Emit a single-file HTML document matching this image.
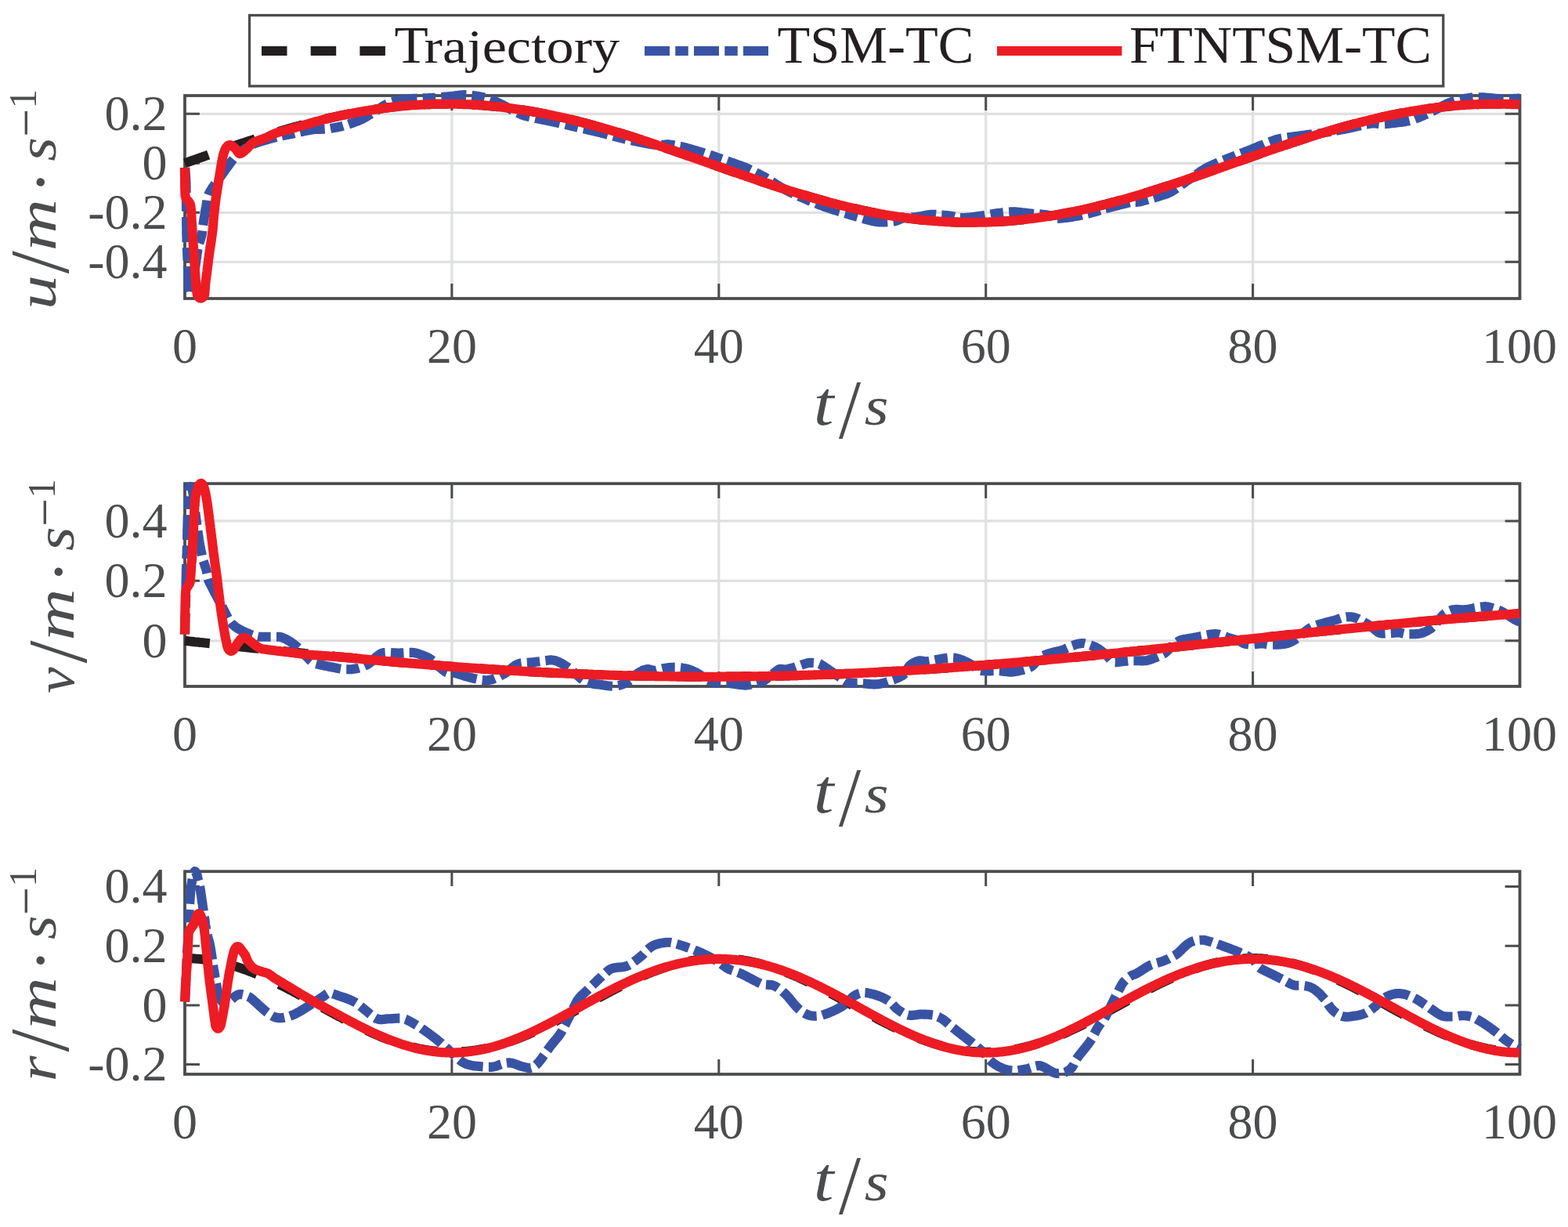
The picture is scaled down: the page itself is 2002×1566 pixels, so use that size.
<!DOCTYPE html>
<html lang="en">
<head>
<meta charset="utf-8">
<title>Velocity tracking: Trajectory, TSM-TC, FTNTSM-TC</title>
<style>
html,body{margin:0;padding:0;background:#fff;}
body{width:2002px;height:1566px;overflow:hidden;}
svg{display:block;}
text{white-space:pre;}
</style>
</head>
<body>
<svg xmlns="http://www.w3.org/2000/svg" width="2002" height="1566" viewBox="0 0 2002 1566">
<rect width="2002" height="1566" fill="#fff"/>
<g id="ax0">
<path d="M236.0,145.3 H1940.5 M236.0,208.3 H1940.5 M236.0,271.3 H1940.5 M236.0,334.3 H1940.5 M576.9,122.0 V381.0 M917.8,122.0 V381.0 M1258.7,122.0 V381.0 M1599.6,122.0 V381.0" fill="none" stroke="#dfe0e1" stroke-width="3.2"/>
<path d="M236.0,145.3 h18.9 M1940.5,145.3 h-18.9 M236.0,208.3 h18.9 M1940.5,208.3 h-18.9 M236.0,271.3 h18.9 M1940.5,271.3 h-18.9 M236.0,334.3 h18.9 M1940.5,334.3 h-18.9 M576.9,122.0 v18.9 M576.9,381.0 v-18.9 M917.8,122.0 v18.9 M917.8,381.0 v-18.9 M1258.7,122.0 v18.9 M1258.7,381.0 v-18.9 M1599.6,122.0 v18.9 M1599.6,381.0 v-18.9" fill="none" stroke="#4b4c4e" stroke-width="3.0"/>
<rect x="236.0" y="122.0" width="1704.5" height="259.0" fill="none" stroke="#4b4c4e" stroke-width="3.8"/>
<path d="M236.0,208.3 L238.1,207.5 L240.3,206.8 L242.4,206.0 L244.5,205.3 L246.7,204.5 L248.8,203.8 L250.9,203.0 L253.0,202.3 L255.2,201.5 L257.3,200.8 L259.4,200.0 L261.6,199.2 L263.7,198.5 L265.8,197.8 L268.0,197.0 L270.1,196.3 L272.2,195.5 L274.4,194.8 L276.5,194.0 L278.6,193.3 L280.7,192.5 L282.9,191.8 L285.0,191.1 L287.1,190.3 L289.3,189.6 L291.4,188.9 L293.5,188.1 L295.7,187.4 L297.8,186.7 L299.9,186.0 L302.0,185.2 L304.2,184.5 L306.3,183.8 L308.4,183.1 L310.6,182.4 L312.7,181.7 L314.8,181.0 L317.0,180.3 L319.1,179.6 L321.2,178.9 L323.4,178.2 L325.5,177.5 L327.6,176.8 L329.7,176.1 L331.9,175.4 L334.0,174.7 L336.1,174.1 L338.3,173.4 L340.4,172.7 L342.5,172.1 L344.7,171.4 L346.8,170.7 L348.9,170.1 L351.1,169.4 L353.2,168.8 L355.3,168.1 L357.4,167.5 L359.6,166.9 L361.7,166.2 L363.8,165.6 L366.0,165.0 L368.1,164.4 L370.2,163.8 L372.4,163.2 L374.5,162.5 L376.6,161.9 L378.8,161.4 L380.9,160.8 L383.0,160.2 L385.1,159.6 L387.3,159.0 L389.4,158.5 L391.5,157.9 L393.7,157.3 L395.8,156.8 L397.9,156.2 L400.1,155.7 L402.2,155.1 L404.3,154.6 L406.5,154.1 L408.6,153.5 L410.7,153.0 L412.8,152.5 L415.0,152.0 L417.1,151.5 L419.2,151.0 L421.4,150.5 L423.5,150.0 L425.6,149.6 L427.8,149.1 L429.9,148.6 L432.0,148.2 L434.1,147.7 L436.3,147.2 L438.4,146.8 L440.5,146.4 L442.7,145.9 L444.8,145.5 L446.9,145.1 L449.1,144.7 L451.2,144.3 L453.3,143.9 L455.5,143.5 L457.6,143.1 L459.7,142.7 L461.8,142.3 L464.0,142.0 L466.1,141.6 L468.2,141.3 L470.4,140.9 L472.5,140.6 L474.6,140.3 L476.8,139.9 L478.9,139.6 L481.0,139.3 L483.2,139.0 L485.3,138.7 L487.4,138.4 L489.5,138.1 L491.7,137.8 L493.8,137.6 L495.9,137.3 L498.1,137.0 L500.2,136.8 L502.3,136.6 L504.5,136.3 L506.6,136.1 L508.7,135.9 L510.9,135.7 L513.0,135.5 L515.1,135.3 L517.2,135.1 L519.4,134.9 L521.5,134.7 L523.6,134.5 L525.8,134.4 L527.9,134.2 L530.0,134.1 L532.2,133.9 L534.3,133.8 L536.4,133.7 L538.5,133.6 L540.7,133.4 L542.8,133.3 L544.9,133.3 L547.1,133.2 L549.2,133.1 L551.3,133.0 L553.5,132.9 L555.6,132.9 L557.7,132.8 L559.9,132.8 L562.0,132.8 L564.1,132.7 L566.2,132.7 L568.4,132.7 L570.5,132.7 L572.6,132.7 L574.8,132.7 L576.9,132.7 L579.0,132.8 L581.2,132.8 L583.3,132.8 L585.4,132.9 L587.6,132.9 L589.7,133.0 L591.8,133.1 L593.9,133.2 L596.1,133.2 L598.2,133.3 L600.3,133.4 L602.5,133.5 L604.6,133.7 L606.7,133.8 L608.9,133.9 L611.0,134.0 L613.1,134.2 L615.3,134.3 L617.4,134.5 L619.5,134.7 L621.6,134.9 L623.8,135.0 L625.9,135.2 L628.0,135.4 L630.2,135.6 L632.3,135.8 L634.4,136.1 L636.6,136.3 L638.7,136.5 L640.8,136.8 L642.9,137.0 L645.1,137.3 L647.2,137.5 L649.3,137.8 L651.5,138.1 L653.6,138.4 L655.7,138.6 L657.9,138.9 L660.0,139.2 L662.1,139.6 L664.3,139.9 L666.4,140.2 L668.5,140.5 L670.6,140.9 L672.8,141.2 L674.9,141.6 L677.0,141.9 L679.2,142.3 L681.3,142.7 L683.4,143.0 L685.6,143.4 L687.7,143.8 L689.8,144.2 L692.0,144.6 L694.1,145.0 L696.2,145.4 L698.3,145.9 L700.5,146.3 L702.6,146.7 L704.7,147.2 L706.9,147.6 L709.0,148.1 L711.1,148.5 L713.3,149.0 L715.4,149.5 L717.5,150.0 L719.7,150.4 L721.8,150.9 L723.9,151.4 L726.0,151.9 L728.2,152.4 L730.3,152.9 L732.4,153.5 L734.6,154.0 L736.7,154.5 L738.8,155.0 L741.0,155.6 L743.1,156.1 L745.2,156.7 L747.4,157.2 L749.5,157.8 L751.6,158.4 L753.7,158.9 L755.9,159.5 L758.0,160.1 L760.1,160.7 L762.3,161.3 L764.4,161.9 L766.5,162.5 L768.7,163.1 L770.8,163.7 L772.9,164.3 L775.0,164.9 L777.2,165.5 L779.3,166.1 L781.4,166.8 L783.6,167.4 L785.7,168.0 L787.8,168.7 L790.0,169.3 L792.1,170.0 L794.2,170.6 L796.4,171.3 L798.5,171.9 L800.6,172.6 L802.7,173.3 L804.9,174.0 L807.0,174.6 L809.1,175.3 L811.3,176.0 L813.4,176.7 L815.5,177.4 L817.7,178.1 L819.8,178.7 L821.9,179.4 L824.1,180.1 L826.2,180.8 L828.3,181.6 L830.4,182.3 L832.6,183.0 L834.7,183.7 L836.8,184.4 L839.0,185.1 L841.1,185.8 L843.2,186.6 L845.4,187.3 L847.5,188.0 L849.6,188.7 L851.8,189.5 L853.9,190.2 L856.0,190.9 L858.1,191.7 L860.3,192.4 L862.4,193.2 L864.5,193.9 L866.7,194.6 L868.8,195.4 L870.9,196.1 L873.1,196.9 L875.2,197.6 L877.3,198.4 L879.4,199.1 L881.6,199.9 L883.7,200.6 L885.8,201.4 L888.0,202.1 L890.1,202.9 L892.2,203.6 L894.4,204.4 L896.5,205.2 L898.6,205.9 L900.8,206.7 L902.9,207.4 L905.0,208.2 L907.1,208.9 L909.3,209.7 L911.4,210.4 L913.5,211.2 L915.7,212.0 L917.8,212.7 L919.9,213.5 L922.1,214.2 L924.2,215.0 L926.3,215.7 L928.5,216.5 L930.6,217.2 L932.7,218.0 L934.8,218.7 L937.0,219.5 L939.1,220.2 L941.2,221.0 L943.4,221.7 L945.5,222.5 L947.6,223.2 L949.8,223.9 L951.9,224.7 L954.0,225.4 L956.2,226.2 L958.3,226.9 L960.4,227.6 L962.5,228.3 L964.7,229.1 L966.8,229.8 L968.9,230.5 L971.1,231.2 L973.2,232.0 L975.3,232.7 L977.5,233.4 L979.6,234.1 L981.7,234.8 L983.8,235.5 L986.0,236.2 L988.1,236.9 L990.2,237.6 L992.4,238.3 L994.5,239.0 L996.6,239.7 L998.8,240.4 L1000.9,241.1 L1003.0,241.8 L1005.2,242.4 L1007.3,243.1 L1009.4,243.8 L1011.5,244.4 L1013.7,245.1 L1015.8,245.8 L1017.9,246.4 L1020.1,247.1 L1022.2,247.7 L1024.3,248.4 L1026.5,249.0 L1028.6,249.6 L1030.7,250.3 L1032.9,250.9 L1035.0,251.5 L1037.1,252.1 L1039.2,252.7 L1041.4,253.4 L1043.5,254.0 L1045.6,254.6 L1047.8,255.2 L1049.9,255.7 L1052.0,256.3 L1054.2,256.9 L1056.3,257.5 L1058.4,258.1 L1060.6,258.6 L1062.7,259.2 L1064.8,259.7 L1066.9,260.3 L1069.1,260.8 L1071.2,261.4 L1073.3,261.9 L1075.5,262.4 L1077.6,263.0 L1079.7,263.5 L1081.9,264.0 L1084.0,264.5 L1086.1,265.0 L1088.2,265.5 L1090.4,266.0 L1092.5,266.5 L1094.6,267.0 L1096.8,267.4 L1098.9,267.9 L1101.0,268.4 L1103.2,268.8 L1105.3,269.3 L1107.4,269.7 L1109.6,270.2 L1111.7,270.6 L1113.8,271.0 L1115.9,271.4 L1118.1,271.9 L1120.2,272.3 L1122.3,272.7 L1124.5,273.0 L1126.6,273.4 L1128.7,273.8 L1130.9,274.2 L1133.0,274.6 L1135.1,274.9 L1137.3,275.3 L1139.4,275.6 L1141.5,276.0 L1143.6,276.3 L1145.8,276.6 L1147.9,276.9 L1150.0,277.3 L1152.2,277.6 L1154.3,277.9 L1156.4,278.2 L1158.6,278.4 L1160.7,278.7 L1162.8,279.0 L1165.0,279.3 L1167.1,279.5 L1169.2,279.8 L1171.3,280.0 L1173.5,280.2 L1175.6,280.5 L1177.7,280.7 L1179.9,280.9 L1182.0,281.1 L1184.1,281.3 L1186.3,281.5 L1188.4,281.7 L1190.5,281.9 L1192.7,282.0 L1194.8,282.2 L1196.9,282.4 L1199.0,282.5 L1201.2,282.6 L1203.3,282.8 L1205.4,282.9 L1207.6,283.0 L1209.7,283.1 L1211.8,283.2 L1214.0,283.3 L1216.1,283.4 L1218.2,283.5 L1220.3,283.6 L1222.5,283.6 L1224.6,283.7 L1226.7,283.8 L1228.9,283.8 L1231.0,283.8 L1233.1,283.9 L1235.3,283.9 L1237.4,283.9 L1239.5,283.9 L1241.7,283.9 L1243.8,283.9 L1245.9,283.9 L1248.0,283.8 L1250.2,283.8 L1252.3,283.8 L1254.4,283.7 L1256.6,283.7 L1258.7,283.6 L1260.8,283.5 L1263.0,283.5 L1265.1,283.4 L1267.2,283.3 L1269.4,283.2 L1271.5,283.1 L1273.6,283.0 L1275.7,282.8 L1277.9,282.7 L1280.0,282.6 L1282.1,282.4 L1284.3,282.3 L1286.4,282.1 L1288.5,282.0 L1290.7,281.8 L1292.8,281.6 L1294.9,281.4 L1297.1,281.2 L1299.2,281.0 L1301.3,280.8 L1303.4,280.6 L1305.6,280.4 L1307.7,280.1 L1309.8,279.9 L1312.0,279.6 L1314.1,279.4 L1316.2,279.1 L1318.4,278.8 L1320.5,278.6 L1322.6,278.3 L1324.7,278.0 L1326.9,277.7 L1329.0,277.4 L1331.1,277.1 L1333.3,276.8 L1335.4,276.5 L1337.5,276.1 L1339.7,275.8 L1341.8,275.4 L1343.9,275.1 L1346.1,274.7 L1348.2,274.4 L1350.3,274.0 L1352.4,273.6 L1354.6,273.2 L1356.7,272.8 L1358.8,272.4 L1361.0,272.0 L1363.1,271.6 L1365.2,271.2 L1367.4,270.8 L1369.5,270.4 L1371.6,269.9 L1373.8,269.5 L1375.9,269.0 L1378.0,268.6 L1380.1,268.1 L1382.3,267.7 L1384.4,267.2 L1386.5,266.7 L1388.7,266.2 L1390.8,265.7 L1392.9,265.3 L1395.1,264.8 L1397.2,264.2 L1399.3,263.7 L1401.5,263.2 L1403.6,262.7 L1405.7,262.2 L1407.8,261.6 L1410.0,261.1 L1412.1,260.6 L1414.2,260.0 L1416.4,259.5 L1418.5,258.9 L1420.6,258.3 L1422.8,257.8 L1424.9,257.2 L1427.0,256.6 L1429.2,256.0 L1431.3,255.4 L1433.4,254.8 L1435.5,254.2 L1437.7,253.6 L1439.8,253.0 L1441.9,252.4 L1444.1,251.8 L1446.2,251.2 L1448.3,250.6 L1450.5,249.9 L1452.6,249.3 L1454.7,248.7 L1456.8,248.0 L1459.0,247.4 L1461.1,246.7 L1463.2,246.1 L1465.4,245.4 L1467.5,244.8 L1469.6,244.1 L1471.8,243.4 L1473.9,242.8 L1476.0,242.1 L1478.2,241.4 L1480.3,240.7 L1482.4,240.0 L1484.5,239.3 L1486.7,238.7 L1488.8,238.0 L1490.9,237.3 L1493.1,236.6 L1495.2,235.9 L1497.3,235.2 L1499.5,234.4 L1501.6,233.7 L1503.7,233.0 L1505.9,232.3 L1508.0,231.6 L1510.1,230.9 L1512.2,230.1 L1514.4,229.4 L1516.5,228.7 L1518.6,228.0 L1520.8,227.2 L1522.9,226.5 L1525.0,225.8 L1527.2,225.0 L1529.3,224.3 L1531.4,223.6 L1533.6,222.8 L1535.7,222.1 L1537.8,221.3 L1539.9,220.6 L1542.1,219.8 L1544.2,219.1 L1546.3,218.3 L1548.5,217.6 L1550.6,216.8 L1552.7,216.1 L1554.9,215.3 L1557.0,214.6 L1559.1,213.8 L1561.2,213.1 L1563.4,212.3 L1565.5,211.6 L1567.6,210.8 L1569.8,210.1 L1571.9,209.3 L1574.0,208.5 L1576.2,207.8 L1578.3,207.0 L1580.4,206.3 L1582.6,205.5 L1584.7,204.8 L1586.8,204.0 L1588.9,203.3 L1591.1,202.5 L1593.2,201.7 L1595.3,201.0 L1597.5,200.2 L1599.6,199.5 L1601.7,198.7 L1603.9,198.0 L1606.0,197.2 L1608.1,196.5 L1610.3,195.7 L1612.4,195.0 L1614.5,194.3 L1616.6,193.5 L1618.8,192.8 L1620.9,192.0 L1623.0,191.3 L1625.2,190.6 L1627.3,189.8 L1629.4,189.1 L1631.6,188.4 L1633.7,187.6 L1635.8,186.9 L1638.0,186.2 L1640.1,185.5 L1642.2,184.7 L1644.3,184.0 L1646.5,183.3 L1648.6,182.6 L1650.7,181.9 L1652.9,181.2 L1655.0,180.5 L1657.1,179.8 L1659.3,179.1 L1661.4,178.4 L1663.5,177.7 L1665.6,177.0 L1667.8,176.3 L1669.9,175.6 L1672.0,175.0 L1674.2,174.3 L1676.3,173.6 L1678.4,172.9 L1680.6,172.3 L1682.7,171.6 L1684.8,170.9 L1687.0,170.3 L1689.1,169.6 L1691.2,169.0 L1693.3,168.3 L1695.5,167.7 L1697.6,167.1 L1699.7,166.4 L1701.9,165.8 L1704.0,165.2 L1706.1,164.6 L1708.3,164.0 L1710.4,163.3 L1712.5,162.7 L1714.7,162.1 L1716.8,161.5 L1718.9,161.0 L1721.0,160.4 L1723.2,159.8 L1725.3,159.2 L1727.4,158.6 L1729.6,158.1 L1731.7,157.5 L1733.8,156.9 L1736.0,156.4 L1738.1,155.8 L1740.2,155.3 L1742.4,154.8 L1744.5,154.2 L1746.6,153.7 L1748.7,153.2 L1750.9,152.7 L1753.0,152.2 L1755.1,151.7 L1757.3,151.2 L1759.4,150.7 L1761.5,150.2 L1763.7,149.7 L1765.8,149.2 L1767.9,148.8 L1770.1,148.3 L1772.2,147.8 L1774.3,147.4 L1776.4,146.9 L1778.6,146.5 L1780.7,146.1 L1782.8,145.6 L1785.0,145.2 L1787.1,144.8 L1789.2,144.4 L1791.4,144.0 L1793.5,143.6 L1795.6,143.2 L1797.7,142.8 L1799.9,142.5 L1802.0,142.1 L1804.1,141.7 L1806.3,141.4 L1808.4,141.0 L1810.5,140.7 L1812.7,140.4 L1814.8,140.0 L1816.9,139.7 L1819.1,139.4 L1821.2,139.1 L1823.3,138.8 L1825.4,138.5 L1827.6,138.2 L1829.7,137.9 L1831.8,137.7 L1834.0,137.4 L1836.1,137.1 L1838.2,136.9 L1840.4,136.6 L1842.5,136.4 L1844.6,136.2 L1846.8,135.9 L1848.9,135.7 L1851.0,135.5 L1853.1,135.3 L1855.3,135.1 L1857.4,134.9 L1859.5,134.8 L1861.7,134.6 L1863.8,134.4 L1865.9,134.3 L1868.1,134.1 L1870.2,134.0 L1872.3,133.8 L1874.5,133.7 L1876.6,133.6 L1878.7,133.5 L1880.8,133.4 L1883.0,133.3 L1885.1,133.2 L1887.2,133.1 L1889.4,133.0 L1891.5,133.0 L1893.6,132.9 L1895.8,132.9 L1897.9,132.8 L1900.0,132.8 L1902.1,132.7 L1904.3,132.7 L1906.4,132.7 L1908.5,132.7 L1910.7,132.7 L1912.8,132.7 L1914.9,132.7 L1917.1,132.7 L1919.2,132.8 L1921.3,132.8 L1923.5,132.9 L1925.6,132.9 L1927.7,133.0 L1929.8,133.0 L1932.0,133.1 L1934.1,133.2 L1936.2,133.3 L1938.4,133.4 L1940.5,133.5" fill="none" stroke="#231f20" stroke-width="12.1" stroke-dasharray="32 31" stroke-linejoin="round"/>
<path d="M236.3,214.0 L236.4,215.5 L236.5,217.0 L236.6,218.5 L236.7,220.0 L236.8,221.5 L236.9,223.0 L237.0,224.5 L237.1,226.0 L237.2,227.5 L237.3,229.0 L237.3,230.5 L237.4,232.0 L237.5,233.5 L237.5,235.0 L237.5,236.5 L237.6,238.0 L237.6,239.5 L237.6,241.0 L237.6,242.5 L237.7,244.0 L237.7,245.5 L237.7,247.0 L237.7,248.5 L237.8,250.0 L237.8,251.6 L237.8,253.1 L237.8,254.6 L237.8,256.1 L237.9,257.6 L237.9,259.1 L237.9,260.6 L237.9,262.1 L237.9,263.6 L237.9,265.1 L238.0,266.6 L238.0,268.1 L238.0,269.6 L238.0,271.1 L238.0,272.6 L238.0,274.1 L238.0,275.6 L238.1,277.1 L238.1,278.7 L238.1,280.2 L238.1,281.7 L238.1,283.2 L238.1,284.7 L238.1,286.2 L238.1,287.7 L238.2,289.2 L238.2,290.7 L238.2,292.2 L238.2,293.7 L238.2,295.2 L238.2,296.7 L238.2,298.2 L238.3,299.7 L238.3,301.2 L238.4,302.7 L238.4,304.2 L238.5,305.7 L238.5,307.3 L238.6,308.8 L238.6,310.3 L238.7,311.8 L238.8,313.3 L238.8,314.8 L238.9,316.3 L238.9,317.8 L239.0,319.3 L239.1,320.8 L239.1,322.3 L239.2,323.8 L239.2,325.3 L239.3,326.8 L239.3,328.3 L239.4,329.8 L239.5,331.3 L239.5,332.8 L239.6,334.3 L239.6,335.8 L239.7,337.3 L239.8,338.8 L239.8,340.3 L239.9,341.8 L240.0,343.4 L240.0,344.9 L240.1,346.4 L240.1,347.9 L240.2,349.4 L240.3,350.9 L240.3,352.4 L240.4,353.9 L240.4,355.4 L240.5,356.9 L240.5,358.4 L240.6,359.9 L240.6,361.4 L240.7,362.9 L240.9,364.4 L241.1,365.9 L241.4,367.4 L241.7,369.0 L242.1,370.9 L242.6,372.8 L243.1,374.4 L243.5,375.4 L244.0,375.4 L244.4,374.5 L244.9,373.0 L245.3,371.2 L245.7,369.3 L246.1,367.7 L246.3,366.2 L246.5,364.7 L246.7,363.2 L246.8,361.7 L246.9,360.2 L247.0,358.7 L247.2,357.2 L247.3,355.7 L247.5,354.2 L247.7,352.8 L247.9,351.3 L248.1,349.8 L248.3,348.3 L248.5,346.8 L248.7,345.3 L248.9,343.8 L249.1,342.3 L249.3,340.8 L249.5,339.3 L249.7,337.8 L249.9,336.3 L250.1,334.8 L250.3,333.4 L250.5,331.9 L250.7,330.4 L251.0,328.9 L251.2,327.4 L251.4,325.9 L251.6,324.4 L251.8,322.9 L252.1,321.4 L252.3,320.0 L252.5,318.5 L252.8,317.0 L253.0,315.5 L253.3,314.0 L253.7,312.6 L254.1,311.1 L254.6,309.7 L255.0,308.3 L255.6,306.8 L256.0,305.4 L256.5,304.0 L256.9,302.5 L257.3,301.1 L257.6,299.6 L257.8,298.1 L258.1,296.6 L258.3,295.1 L258.5,293.6 L258.7,292.1 L258.9,290.6 L259.1,289.2 L259.3,287.7 L259.5,286.2 L259.7,284.7 L259.9,283.2 L260.1,281.7 L260.4,280.2 L260.6,278.7 L260.8,277.2 L261.1,275.7 L261.3,274.3 L261.6,272.8 L261.8,271.3 L262.1,269.8 L262.3,268.3 L262.6,266.8 L262.8,265.4 L263.1,263.9 L263.3,262.4 L263.6,260.9 L263.8,259.4 L264.0,257.9 L264.3,256.4 L264.5,254.9 L264.8,253.4 L265.1,252.0 L265.5,250.5 L266.0,249.1 L266.5,247.7 L267.2,246.3 L267.9,244.9 L268.7,243.6 L269.5,242.3 L270.3,241.0 L271.1,239.8 L271.9,238.5 L272.8,237.3 L273.7,236.1 L274.5,234.8 L275.4,233.6 L276.3,232.4 L277.2,231.2 L278.1,230.0 L279.0,228.8 L279.9,227.6 L280.8,226.4 L281.7,225.2 L282.6,224.0 L283.4,222.7 L284.3,221.5 L285.2,220.3 L286.1,219.1 L286.9,217.9 L287.8,216.6 L288.7,215.4 L289.6,214.2 L290.4,213.0 L291.3,211.8 L292.2,210.6 L293.1,209.3 L294.0,208.1 L294.9,206.9 L295.8,205.7 L296.7,204.5 L297.7,203.3 L298.6,202.2 L299.5,201.0 L300.5,199.8 L301.5,198.7 L302.6,197.6 L303.7,196.6 L304.8,195.6 L306.0,194.7 L307.2,193.8 L308.5,192.9 L309.7,192.0 L311.0,191.2 L312.2,190.3 L313.5,189.5 L314.8,188.7 L316.0,187.8 L317.3,187.0 L318.6,186.3 L319.9,185.5 L321.3,184.8 L322.6,184.2 L324.0,183.6 L325.4,183.0 L326.8,182.5 L328.3,182.1 L329.7,181.6 L331.1,181.1 L332.6,180.7 L334.0,180.3 L335.4,179.8 L336.9,179.4 L338.3,179.0 L339.8,178.6 L341.2,178.2 L342.7,177.7 L344.1,177.3 L345.6,176.9 L347.0,176.5 L348.5,176.1 L349.9,175.7 L351.4,175.3 L352.8,174.9 L354.3,174.5 L355.7,174.2 L357.2,173.8 L358.7,173.5 L360.2,173.2 L361.6,172.9 L363.1,172.7 L364.6,172.4 L366.1,172.1 L367.6,171.9 L369.0,171.6 L370.5,171.3 L372.0,171.0 L373.5,170.7 L374.9,170.4 L376.4,170.0 L377.9,169.7 L379.3,169.4 L380.8,169.0 L382.3,168.7 L383.7,168.4 L385.2,168.0 L386.7,167.7 L388.2,167.4 L389.6,167.1 L391.1,166.8 L392.6,166.5 L394.1,166.2 L395.5,166.0 L397.0,165.8 L398.5,165.5 L400.0,165.3 L401.5,165.1 L403.0,164.9 L404.7,164.9 L406.4,164.9 L408.1,164.9 L409.8,164.9 L411.5,164.8 L413.2,164.7 L414.9,164.6 L416.6,164.4 L418.3,164.3 L420.0,164.1 L421.8,163.9 L423.5,163.6 L425.2,163.4 L426.9,163.1 L428.6,162.8 L430.3,162.5 L432.0,162.1 L433.7,161.8 L435.4,161.4 L437.1,161.0 L438.8,160.5 L440.5,160.1 L442.2,159.5 L443.9,159.0 L445.6,158.4 L447.3,157.9 L449.0,157.3 L450.7,156.6 L452.4,156.0 L454.1,155.4 L455.8,154.8 L457.5,154.1 L459.2,153.4 L461.0,152.7 L462.7,151.8 L464.4,150.9 L466.1,150.0 L467.8,149.0 L469.5,147.9 L471.2,146.9 L472.9,145.8 L474.6,144.8 L476.3,143.8 L478.0,142.8 L479.7,141.7 L481.4,140.6 L483.1,139.5 L484.8,138.3 L486.5,137.1 L488.2,136.0 L489.9,135.0 L491.6,134.0 L493.3,133.1 L495.0,132.4 L496.8,131.8 L498.5,131.2 L500.2,130.6 L501.9,130.0 L503.6,129.5 L505.3,129.0 L507.0,128.5 L508.7,128.1 L510.4,127.7 L512.1,127.3 L513.8,127.0 L515.5,126.8 L517.2,126.6 L518.9,126.4 L520.6,126.3 L522.3,126.2 L524.0,126.1 L525.7,126.0 L527.4,125.9 L529.1,125.8 L530.8,125.7 L532.5,125.6 L534.2,125.6 L536.0,125.5 L537.7,125.4 L539.4,125.4 L541.1,125.3 L542.8,125.3 L544.5,125.2 L546.2,125.2 L547.9,125.1 L549.6,125.1 L551.3,125.0 L553.0,124.9 L554.7,124.9 L556.4,124.7 L558.1,124.6 L559.8,124.5 L561.5,124.3 L563.2,124.1 L564.9,124.0 L566.6,123.8 L568.3,123.6 L570.0,123.4 L571.8,123.2 L573.5,123.1 L575.2,122.9 L576.9,122.7 L578.6,122.6 L580.3,122.4 L582.0,122.1 L583.7,121.9 L585.4,121.7 L587.1,121.5 L588.8,121.3 L590.5,121.2 L592.2,121.1 L593.9,121.1 L595.6,121.2 L597.3,121.3 L599.0,121.5 L600.7,121.6 L602.4,121.8 L604.1,122.0 L605.8,122.2 L607.5,122.5 L609.2,122.8 L611.0,123.0 L612.7,123.3 L614.4,123.7 L616.1,124.0 L617.8,124.3 L619.5,124.7 L621.2,125.1 L622.9,125.6 L624.6,126.1 L626.3,126.8 L628.0,127.5 L629.7,128.2 L631.4,128.9 L633.1,129.7 L634.8,130.5 L636.5,131.3 L638.2,132.1 L639.9,132.9 L641.6,133.8 L643.3,134.8 L645.0,135.7 L646.8,136.7 L648.5,137.7 L650.2,138.6 L651.9,139.5 L653.6,140.3 L655.3,141.2 L657.0,142.0 L658.7,142.9 L660.4,143.8 L662.1,144.6 L663.8,145.4 L665.5,146.2 L667.2,146.8 L668.9,147.4 L670.6,147.9 L672.3,148.3 L674.0,148.7 L675.7,149.0 L677.4,149.4 L679.1,149.8 L680.8,150.2 L682.5,150.6 L684.2,151.0 L686.0,151.3 L687.7,151.7 L689.4,152.1 L691.1,152.4 L692.8,152.8 L694.5,153.1 L696.2,153.4 L697.9,153.8 L699.6,154.1 L701.3,154.5 L703.0,154.8 L704.7,155.2 L706.4,155.5 L708.1,155.9 L709.8,156.3 L711.5,156.6 L713.2,157.0 L714.9,157.4 L716.6,157.8 L718.3,158.1 L720.0,158.5 L721.8,158.9 L723.5,159.3 L725.2,159.7 L726.9,160.1 L728.6,160.5 L730.3,160.9 L732.0,161.3 L733.7,161.7 L735.4,162.1 L737.1,162.5 L738.8,162.9 L740.5,163.3 L742.2,163.7 L743.9,164.1 L745.6,164.4 L747.3,164.8 L749.0,165.2 L750.7,165.6 L752.4,166.0 L754.1,166.4 L755.8,166.8 L757.5,167.1 L759.2,167.5 L761.0,168.0 L762.7,168.4 L764.4,168.8 L766.1,169.2 L767.8,169.6 L769.5,170.1 L771.2,170.5 L772.9,171.0 L774.6,171.4 L776.3,171.9 L778.0,172.3 L779.7,172.7 L781.4,173.2 L783.1,173.6 L784.8,174.1 L786.5,174.5 L788.2,175.0 L789.9,175.4 L791.6,175.8 L793.3,176.3 L795.0,176.7 L796.8,177.1 L798.5,177.5 L800.2,177.9 L801.9,178.3 L803.6,178.6 L805.3,179.0 L807.0,179.4 L808.7,179.7 L810.4,180.1 L812.1,180.4 L813.8,180.8 L815.5,181.1 L817.2,181.5 L818.9,181.8 L820.6,182.1 L822.3,182.5 L824.0,182.8 L825.7,183.1 L827.4,183.5 L829.1,183.8 L830.8,184.1 L832.5,184.4 L834.2,184.6 L836.0,184.9 L837.7,185.1 L839.4,185.3 L841.1,185.4 L842.8,185.3 L844.5,185.1 L846.2,184.9 L847.9,184.7 L849.6,184.5 L851.3,184.4 L853.0,184.4 L854.7,184.5 L856.4,184.7 L858.1,185.0 L859.8,185.3 L861.5,185.6 L863.2,185.9 L864.9,186.2 L866.6,186.5 L868.3,186.9 L870.0,187.2 L871.8,187.6 L873.5,188.0 L875.2,188.4 L876.9,188.9 L878.6,189.3 L880.3,189.8 L882.0,190.2 L883.7,190.7 L885.4,191.2 L887.1,191.7 L888.8,192.3 L890.5,192.8 L892.2,193.3 L893.9,193.8 L895.6,194.3 L897.3,194.9 L899.0,195.4 L900.7,196.0 L902.4,196.5 L904.1,197.1 L905.8,197.6 L907.5,198.2 L909.3,198.7 L911.0,199.3 L912.7,199.9 L914.4,200.5 L916.1,201.1 L917.8,201.7 L919.5,202.3 L921.2,202.9 L922.9,203.5 L924.6,204.1 L926.3,204.7 L928.0,205.3 L929.7,205.9 L931.4,206.5 L933.1,207.1 L934.8,207.7 L936.5,208.3 L938.2,208.9 L939.9,209.5 L941.6,210.1 L943.3,210.7 L945.0,211.3 L946.8,211.9 L948.5,212.6 L950.2,213.2 L951.9,213.9 L953.6,214.7 L955.3,215.4 L957.0,216.2 L958.7,217.0 L960.4,217.8 L962.1,218.7 L963.8,219.5 L965.5,220.4 L967.2,221.2 L968.9,222.1 L970.6,223.0 L972.3,223.9 L974.0,224.7 L975.7,225.7 L977.4,226.6 L979.1,227.7 L980.8,228.7 L982.5,229.8 L984.2,231.0 L986.0,232.1 L987.7,233.2 L989.4,234.3 L991.1,235.4 L992.8,236.4 L994.5,237.5 L996.2,238.5 L997.9,239.5 L999.6,240.5 L1001.3,241.5 L1003.0,242.4 L1004.7,243.3 L1006.4,244.1 L1008.1,245.0 L1009.8,245.8 L1011.5,246.6 L1013.2,247.4 L1014.9,248.2 L1016.6,249.0 L1018.3,249.7 L1020.0,250.5 L1021.8,251.2 L1023.5,252.0 L1025.2,252.7 L1026.9,253.4 L1028.6,254.1 L1030.3,254.9 L1032.0,255.6 L1033.7,256.3 L1035.4,257.0 L1037.1,257.7 L1038.8,258.4 L1040.5,259.1 L1042.2,259.8 L1043.9,260.4 L1045.6,261.1 L1047.3,261.8 L1049.0,262.4 L1050.7,263.0 L1052.4,263.7 L1054.1,264.3 L1055.8,264.9 L1057.5,265.5 L1059.2,266.0 L1061.0,266.6 L1062.7,267.2 L1064.4,267.7 L1066.1,268.3 L1067.8,268.8 L1069.5,269.3 L1071.2,269.9 L1072.9,270.4 L1074.6,270.9 L1076.3,271.4 L1078.0,271.9 L1079.7,272.4 L1081.4,272.9 L1083.1,273.4 L1084.8,273.9 L1086.5,274.4 L1088.2,274.9 L1089.9,275.4 L1091.6,275.9 L1093.3,276.4 L1095.0,276.9 L1096.8,277.4 L1098.5,277.9 L1100.2,278.4 L1101.9,278.9 L1103.6,279.4 L1105.3,279.9 L1107.0,280.3 L1108.7,280.8 L1110.4,281.2 L1112.1,281.6 L1113.8,282.0 L1115.5,282.3 L1117.2,282.7 L1118.9,283.0 L1120.6,283.2 L1122.3,283.4 L1124.0,283.5 L1125.7,283.5 L1127.4,283.5 L1129.1,283.5 L1130.8,283.4 L1132.5,283.3 L1134.2,283.2 L1136.0,283.0 L1137.7,282.9 L1139.4,282.7 L1141.1,282.5 L1142.8,282.2 L1144.5,281.7 L1146.2,281.1 L1147.9,280.4 L1149.6,279.7 L1151.3,279.0 L1153.0,278.4 L1154.7,277.9 L1156.4,277.7 L1158.1,277.5 L1159.8,277.4 L1161.5,277.4 L1163.2,277.3 L1164.9,277.3 L1166.6,277.3 L1168.3,277.2 L1170.0,277.0 L1171.8,276.8 L1173.5,276.5 L1175.2,276.2 L1176.9,275.9 L1178.6,275.5 L1180.3,275.1 L1182.0,274.8 L1183.7,274.5 L1185.4,274.2 L1187.1,274.0 L1188.8,273.8 L1190.5,273.7 L1192.2,273.7 L1193.9,273.7 L1195.6,273.9 L1197.3,274.0 L1199.0,274.1 L1200.7,274.3 L1202.4,274.4 L1204.1,274.6 L1205.8,274.7 L1207.5,274.9 L1209.2,275.0 L1211.0,275.2 L1212.7,275.4 L1214.4,275.7 L1216.1,276.1 L1217.8,276.5 L1219.5,277.0 L1221.2,277.4 L1222.9,277.7 L1224.6,277.9 L1226.3,278.0 L1228.0,278.1 L1229.7,278.0 L1231.4,278.0 L1233.1,277.9 L1234.8,277.8 L1236.5,277.6 L1238.2,277.5 L1239.9,277.3 L1241.6,277.1 L1243.3,276.9 L1245.0,276.6 L1246.8,276.4 L1248.5,276.1 L1250.2,275.9 L1251.9,275.6 L1253.6,275.4 L1255.3,275.1 L1257.0,274.9 L1258.7,274.6 L1260.4,274.3 L1262.1,274.0 L1263.8,273.7 L1265.5,273.4 L1267.2,273.1 L1268.9,272.8 L1270.6,272.6 L1272.3,272.3 L1274.0,272.1 L1275.7,271.9 L1277.4,271.7 L1279.1,271.5 L1280.8,271.3 L1282.5,271.1 L1284.2,270.9 L1286.0,270.8 L1287.7,270.6 L1289.4,270.5 L1291.1,270.4 L1292.8,270.4 L1294.5,270.4 L1296.2,270.4 L1297.9,270.5 L1299.6,270.7 L1301.3,270.8 L1303.0,271.0 L1304.7,271.2 L1306.4,271.4 L1308.1,271.6 L1309.8,271.8 L1311.5,272.0 L1313.2,272.2 L1314.9,272.4 L1316.6,272.6 L1318.3,272.8 L1320.0,272.9 L1321.8,273.0 L1323.5,273.1 L1325.2,273.2 L1326.9,273.3 L1328.6,273.4 L1330.3,273.6 L1332.0,273.7 L1333.7,273.9 L1335.4,274.1 L1337.1,274.4 L1338.8,274.9 L1340.5,275.6 L1342.2,276.6 L1343.9,277.5 L1345.6,278.3 L1347.3,278.9 L1349.0,279.0 L1350.7,278.9 L1352.4,278.8 L1354.1,278.6 L1355.8,278.5 L1357.5,278.3 L1359.3,278.1 L1361.0,277.9 L1362.7,277.7 L1364.4,277.5 L1366.1,277.2 L1367.8,277.0 L1369.5,276.7 L1371.2,276.4 L1372.9,276.1 L1374.6,275.8 L1376.3,275.5 L1378.0,275.2 L1379.7,274.8 L1381.4,274.5 L1383.1,274.1 L1384.8,273.7 L1386.5,273.3 L1388.2,272.9 L1389.9,272.5 L1391.6,272.0 L1393.3,271.6 L1395.0,271.1 L1396.8,270.7 L1398.5,270.2 L1400.2,269.7 L1401.9,269.1 L1403.6,268.6 L1405.3,268.0 L1407.0,267.5 L1408.7,266.9 L1410.4,266.4 L1412.1,266.0 L1413.8,265.5 L1415.5,265.1 L1417.2,264.7 L1418.9,264.2 L1420.6,263.8 L1422.3,263.4 L1424.0,262.9 L1425.7,262.5 L1427.4,262.1 L1429.1,261.6 L1430.8,261.2 L1432.5,260.8 L1434.3,260.4 L1436.0,259.9 L1437.7,259.5 L1439.4,259.1 L1441.1,258.7 L1442.8,258.3 L1444.5,258.1 L1446.2,258.0 L1447.9,258.0 L1449.6,257.9 L1451.3,257.9 L1453.0,257.7 L1454.7,257.5 L1456.4,257.2 L1458.1,256.7 L1459.8,256.3 L1461.5,255.8 L1463.2,255.3 L1464.9,254.9 L1466.6,254.4 L1468.3,253.9 L1470.0,253.4 L1471.8,252.9 L1473.5,252.4 L1475.2,251.9 L1476.9,251.4 L1478.6,250.9 L1480.3,250.4 L1482.0,249.8 L1483.7,249.3 L1485.4,248.8 L1487.1,248.2 L1488.8,247.7 L1490.5,247.1 L1492.2,246.3 L1493.9,245.5 L1495.6,244.6 L1497.3,243.6 L1499.0,242.5 L1500.7,241.4 L1502.4,240.2 L1504.1,239.0 L1505.8,237.8 L1507.5,236.5 L1509.2,235.3 L1511.0,234.0 L1512.7,232.8 L1514.4,231.6 L1516.1,230.4 L1517.8,229.3 L1519.5,228.2 L1521.2,227.0 L1522.9,225.8 L1524.6,224.7 L1526.3,223.5 L1528.0,222.3 L1529.7,221.1 L1531.4,219.9 L1533.1,218.7 L1534.8,217.6 L1536.5,216.6 L1538.2,215.5 L1539.9,214.5 L1541.6,213.6 L1543.3,212.8 L1545.0,212.0 L1546.8,211.2 L1548.5,210.4 L1550.2,209.7 L1551.9,208.9 L1553.6,208.2 L1555.3,207.5 L1557.0,206.7 L1558.7,206.0 L1560.4,205.3 L1562.1,204.6 L1563.8,203.9 L1565.5,203.2 L1567.2,202.5 L1568.9,201.9 L1570.6,201.2 L1572.3,200.5 L1574.0,199.8 L1575.7,199.2 L1577.4,198.5 L1579.1,197.8 L1580.8,197.2 L1582.5,196.5 L1584.3,195.9 L1586.0,195.2 L1587.7,194.6 L1589.4,193.9 L1591.1,193.2 L1592.8,192.6 L1594.5,191.9 L1596.2,191.3 L1597.9,190.6 L1599.6,189.9 L1601.3,189.2 L1603.0,188.5 L1604.7,187.8 L1606.4,187.1 L1608.1,186.4 L1609.8,185.7 L1611.5,185.0 L1613.2,184.3 L1614.9,183.5 L1616.6,182.9 L1618.3,182.2 L1620.0,181.5 L1621.8,180.8 L1623.5,180.2 L1625.2,179.6 L1626.9,179.0 L1628.6,178.4 L1630.3,177.9 L1632.0,177.5 L1633.7,177.1 L1635.4,176.7 L1637.1,176.4 L1638.8,176.1 L1640.5,175.8 L1642.2,175.6 L1643.9,175.4 L1645.6,175.1 L1647.3,174.9 L1649.0,174.7 L1650.7,174.5 L1652.4,174.3 L1654.1,174.1 L1655.8,173.9 L1657.5,173.6 L1659.3,173.4 L1661.0,173.1 L1662.7,172.9 L1664.4,172.7 L1666.1,172.5 L1667.8,172.3 L1669.5,172.0 L1671.2,171.8 L1672.9,171.6 L1674.6,171.4 L1676.3,171.2 L1678.0,171.0 L1679.7,170.8 L1681.4,170.6 L1683.1,170.4 L1684.8,170.2 L1686.5,169.9 L1688.2,169.7 L1689.9,169.4 L1691.6,169.1 L1693.3,168.8 L1695.0,168.5 L1696.8,168.3 L1698.5,168.0 L1700.2,167.7 L1701.9,167.4 L1703.6,167.1 L1705.3,166.8 L1707.0,166.6 L1708.7,166.3 L1710.4,165.9 L1712.1,165.6 L1713.8,165.3 L1715.5,165.0 L1717.2,164.7 L1718.9,164.3 L1720.6,164.0 L1722.3,163.6 L1724.0,163.3 L1725.7,162.9 L1727.4,162.5 L1729.1,162.1 L1730.8,161.7 L1732.5,161.3 L1734.2,160.9 L1736.0,160.6 L1737.7,160.2 L1739.4,159.8 L1741.1,159.4 L1742.8,159.1 L1744.5,158.8 L1746.2,158.4 L1747.9,158.1 L1749.6,157.8 L1751.3,157.6 L1753.0,157.4 L1754.7,157.4 L1756.4,157.5 L1758.1,157.7 L1759.8,158.0 L1761.5,158.2 L1763.2,158.4 L1764.9,158.4 L1766.6,158.3 L1768.3,158.2 L1770.0,158.0 L1771.8,157.9 L1773.5,157.7 L1775.2,157.5 L1776.9,157.3 L1778.6,157.1 L1780.3,157.0 L1782.0,156.8 L1783.7,156.6 L1785.4,156.3 L1787.1,156.1 L1788.8,155.9 L1790.5,155.7 L1792.2,155.4 L1793.9,155.2 L1795.6,154.9 L1797.3,154.6 L1799.0,154.3 L1800.7,153.9 L1802.4,153.5 L1804.1,152.9 L1805.8,152.2 L1807.5,151.5 L1809.3,150.8 L1811.0,150.1 L1812.7,149.4 L1814.4,148.7 L1816.1,148.0 L1817.8,147.2 L1819.5,146.5 L1821.2,145.7 L1822.9,144.9 L1824.6,144.1 L1826.3,143.4 L1828.0,142.6 L1829.7,141.7 L1831.4,140.9 L1833.1,140.0 L1834.8,139.0 L1836.5,138.1 L1838.2,137.2 L1839.9,136.2 L1841.6,135.3 L1843.3,134.4 L1845.0,133.6 L1846.8,132.7 L1848.5,132.0 L1850.2,131.2 L1851.9,130.6 L1853.6,130.0 L1855.3,129.4 L1857.0,128.9 L1858.7,128.4 L1860.4,127.9 L1862.1,127.5 L1863.8,127.1 L1865.5,126.7 L1867.2,126.4 L1868.9,126.1 L1870.6,125.8 L1872.3,125.5 L1874.0,125.3 L1875.7,125.0 L1877.4,124.8 L1879.1,124.6 L1880.8,124.4 L1882.5,124.3 L1884.3,124.2 L1886.0,124.2 L1887.7,124.2 L1889.4,124.2 L1891.1,124.2 L1892.8,124.3 L1894.5,124.4 L1896.2,124.5 L1897.9,124.7 L1899.6,124.8 L1901.3,125.0 L1903.0,125.1 L1904.7,125.3 L1906.4,125.4 L1908.1,125.6 L1909.8,125.7 L1911.5,125.9 L1913.2,126.0 L1914.9,126.1 L1916.6,126.1 L1918.3,126.2 L1920.0,126.2 L1921.8,126.2 L1923.5,126.2 L1925.2,126.2 L1926.9,126.1 L1928.6,126.1 L1930.3,126.0 L1932.0,126.0 L1933.7,125.9 L1935.4,125.8 L1937.1,125.7 L1938.8,125.6 L1940.5,125.5" fill="none" stroke="#3953a4" stroke-width="12.1" stroke-dasharray="32 7.25 16.5 7.25" stroke-dashoffset="0" stroke-linejoin="round"/>
<path d="M235.9,214.0 L235.9,215.5 L235.9,217.0 L235.9,218.5 L235.9,220.0 L235.9,221.5 L236.0,223.0 L236.0,224.5 L236.0,226.0 L236.0,227.5 L236.0,229.0 L236.0,230.5 L236.0,232.0 L236.0,233.5 L236.1,235.0 L236.1,236.5 L236.1,238.0 L236.1,239.5 L236.2,241.0 L236.2,242.6 L236.3,244.1 L236.3,245.6 L236.4,247.1 L236.4,248.6 L236.6,250.1 L237.0,251.5 L237.5,252.9 L238.1,254.3 L239.1,255.5 L240.3,256.5 L241.2,257.6 L242.0,258.9 L242.7,260.3 L243.1,261.7 L243.4,263.2 L243.6,264.7 L243.8,266.2 L244.0,267.7 L244.1,269.2 L244.2,270.7 L244.3,272.2 L244.4,273.7 L244.4,275.2 L244.5,276.7 L244.6,278.2 L244.6,279.7 L244.7,281.2 L244.8,282.7 L244.9,284.2 L245.0,285.7 L245.1,287.2 L245.2,288.7 L245.3,290.2 L245.4,291.7 L245.5,293.2 L245.6,294.7 L245.7,296.2 L245.8,297.7 L245.9,299.2 L246.0,300.7 L246.1,302.2 L246.2,303.7 L246.3,305.3 L246.4,306.8 L246.5,308.3 L246.6,309.8 L246.7,311.3 L246.8,312.8 L246.9,314.3 L247.0,315.8 L247.1,317.3 L247.2,318.8 L247.3,320.3 L247.5,321.8 L247.6,323.3 L247.7,324.8 L247.8,326.3 L247.9,327.8 L248.0,329.3 L248.1,330.8 L248.2,332.3 L248.3,333.8 L248.4,335.3 L248.4,336.8 L248.5,338.3 L248.6,339.8 L248.7,341.3 L248.8,342.8 L248.9,344.3 L249.0,345.8 L249.1,347.3 L249.2,348.8 L249.3,350.3 L249.4,351.8 L249.5,353.3 L249.6,354.8 L249.7,356.3 L249.8,357.8 L249.9,359.3 L250.0,360.8 L250.1,362.3 L250.2,363.8 L250.4,365.3 L250.5,366.8 L250.7,368.3 L250.9,369.8 L251.1,371.3 L251.3,372.8 L251.5,374.3 L251.7,375.7 L252.2,377.1 L253.0,378.5 L254.2,379.8 L255.6,380.5 L256.9,380.6 L258.3,380.0 L259.6,378.9 L260.6,377.5 L261.1,376.1 L261.3,374.6 L261.5,373.2 L261.6,371.7 L261.7,370.2 L261.8,368.7 L261.9,367.2 L262.0,365.7 L262.1,364.2 L262.2,362.7 L262.4,361.2 L262.6,359.7 L262.8,358.2 L263.0,356.7 L263.2,355.2 L263.4,353.7 L263.6,352.2 L263.8,350.7 L264.0,349.2 L264.2,347.7 L264.4,346.2 L264.5,344.7 L264.7,343.3 L264.9,341.8 L265.1,340.3 L265.3,338.8 L265.5,337.3 L265.7,335.8 L265.8,334.3 L266.0,332.8 L266.2,331.3 L266.4,329.8 L266.6,328.3 L266.8,326.8 L267.0,325.3 L267.2,323.8 L267.4,322.4 L267.6,320.9 L267.8,319.4 L268.1,317.9 L268.3,316.4 L268.5,314.9 L268.7,313.4 L269.0,311.9 L269.2,310.4 L269.4,309.0 L269.7,307.5 L269.9,306.0 L270.1,304.5 L270.3,303.0 L270.5,301.5 L270.7,300.0 L270.9,298.5 L271.1,297.0 L271.3,295.5 L271.5,294.0 L271.6,292.5 L271.8,291.0 L271.9,289.5 L272.0,288.0 L272.2,286.5 L272.3,285.0 L272.4,283.5 L272.5,282.0 L272.6,280.5 L272.7,279.0 L272.9,277.5 L273.0,276.0 L273.1,274.5 L273.3,273.0 L273.5,271.5 L273.6,270.1 L273.8,268.6 L274.0,267.1 L274.1,265.6 L274.3,264.1 L274.5,262.6 L274.7,261.1 L274.8,259.6 L275.0,258.1 L275.2,256.6 L275.4,255.1 L275.6,253.6 L275.8,252.1 L276.0,250.6 L276.3,249.1 L276.5,247.7 L276.7,246.2 L276.9,244.7 L277.2,243.2 L277.4,241.7 L277.7,240.2 L277.9,238.7 L278.1,237.2 L278.4,235.8 L278.6,234.3 L278.8,232.8 L279.1,231.3 L279.3,229.8 L279.6,228.3 L279.8,226.8 L280.1,225.4 L280.3,223.9 L280.5,222.4 L280.8,220.9 L281.0,219.4 L281.3,217.9 L281.5,216.4 L281.8,215.0 L282.0,213.5 L282.3,212.0 L282.5,210.5 L282.8,209.0 L283.0,207.5 L283.3,206.1 L283.6,204.6 L283.8,203.1 L284.1,201.7 L284.5,200.2 L284.8,198.7 L285.2,197.3 L285.6,195.8 L286.1,194.4 L286.6,193.0 L287.1,191.5 L287.8,190.0 L288.6,188.6 L289.7,187.2 L290.8,186.1 L292.0,185.3 L293.2,185.0 L294.5,185.2 L295.9,185.9 L297.2,186.8 L298.5,187.9 L299.8,188.9 L300.9,190.0 L301.9,191.4 L302.9,192.9 L303.9,194.4 L305.0,195.5 L306.0,196.1 L307.2,195.9 L308.4,195.4 L309.6,194.6 L310.8,193.6 L312.1,192.6 L313.3,191.5 L314.5,190.4 L315.6,189.4 L316.7,188.3 L317.7,187.2 L318.7,186.0 L319.8,185.0 L320.9,183.9 L322.0,183.0 L323.3,182.2 L324.6,181.5 L326.0,180.9 L327.4,180.3 L328.8,179.7 L330.2,179.2 L331.6,178.7 L333.0,178.2 L334.5,177.7 L335.9,177.2 L337.3,176.7 L338.7,176.1 L340.1,175.5 L341.4,174.9 L342.8,174.2 L344.1,173.6 L345.5,172.9 L346.8,172.2 L348.2,171.6 L349.6,171.0 L351.0,170.4 L352.4,169.8 L353.8,169.4 L355.2,168.9 L356.7,168.5 L358.1,168.1 L359.6,167.7 L361.0,167.3 L362.5,166.9 L363.9,166.5 L365.4,166.1 L366.8,165.7 L368.3,165.3 L369.7,164.9 L371.2,164.5 L372.6,164.0 L374.1,163.6 L375.5,163.2 L377.0,162.8 L378.4,162.4 L379.9,162.0 L381.3,161.6 L382.8,161.2 L384.2,160.8 L385.7,160.3 L387.1,159.9 L388.6,159.5 L390.0,159.1 L391.7,158.6 L393.4,158.1 L395.1,157.6 L396.8,157.1 L398.5,156.6 L400.2,156.1 L401.9,155.6 L403.6,155.1 L405.4,154.7 L407.1,154.2 L408.8,153.7 L410.5,153.3 L412.2,152.8 L413.9,152.4 L415.6,151.9 L417.3,151.5 L419.0,151.1 L420.7,150.7 L422.4,150.3 L424.1,149.9 L425.8,149.5 L427.5,149.1 L429.2,148.8 L430.9,148.4 L432.6,148.0 L434.3,147.7 L436.1,147.3 L437.8,146.9 L439.5,146.6 L441.2,146.2 L442.9,145.9 L444.6,145.6 L446.3,145.2 L448.0,144.9 L449.7,144.6 L451.4,144.2 L453.1,143.9 L454.8,143.6 L456.5,143.3 L458.2,143.0 L459.9,142.7 L461.6,142.4 L463.3,142.1 L465.1,141.8 L466.8,141.5 L468.5,141.2 L470.2,141.0 L471.9,140.7 L473.6,140.4 L475.3,140.2 L477.0,139.9 L478.7,139.6 L480.4,139.4 L482.1,139.1 L483.8,138.9 L485.5,138.7 L487.2,138.4 L488.9,138.2 L490.6,138.0 L492.3,137.8 L494.0,137.5 L495.8,137.3 L497.5,137.1 L499.2,136.9 L500.9,136.7 L502.6,136.5 L504.3,136.3 L506.0,136.2 L507.7,136.0 L509.4,135.8 L511.1,135.6 L512.8,135.5 L514.5,135.3 L516.2,135.2 L517.9,135.0 L519.6,134.9 L521.3,134.7 L523.0,134.6 L524.8,134.4 L526.5,134.3 L528.2,134.2 L529.9,134.1 L531.6,134.0 L533.3,133.9 L535.0,133.8 L536.7,133.7 L538.4,133.6 L540.1,133.5 L541.8,133.4 L543.5,133.3 L545.2,133.2 L546.9,133.2 L548.6,133.1 L550.3,133.0 L552.0,133.0 L553.7,132.9 L555.5,132.9 L557.2,132.9 L558.9,132.8 L560.6,132.8 L562.3,132.8 L564.0,132.7 L565.7,132.7 L567.4,132.7 L569.1,132.7 L570.8,132.7 L572.5,132.7 L574.2,132.7 L575.9,132.7 L577.6,132.7 L579.3,132.8 L581.0,132.8 L582.7,132.8 L584.5,132.9 L586.2,132.9 L587.9,132.9 L589.6,133.0 L591.3,133.1 L593.0,133.1 L594.7,133.2 L596.4,133.2 L598.1,133.3 L599.8,133.4 L601.5,133.5 L603.2,133.6 L604.9,133.7 L606.6,133.8 L608.3,133.9 L610.0,134.0 L611.7,134.1 L613.4,134.2 L615.2,134.3 L616.9,134.5 L618.6,134.6 L620.3,134.7 L622.0,134.9 L623.7,135.0 L625.4,135.2 L627.1,135.3 L628.8,135.5 L630.5,135.7 L632.2,135.8 L633.9,136.0 L635.6,136.2 L637.3,136.4 L639.0,136.6 L640.7,136.8 L642.4,136.9 L644.2,137.2 L645.9,137.4 L647.6,137.6 L649.3,137.8 L651.0,138.0 L652.7,138.2 L654.4,138.5 L656.1,138.7 L657.8,138.9 L659.5,139.2 L661.2,139.4 L662.9,139.7 L664.6,139.9 L666.3,140.2 L668.0,140.5 L669.7,140.7 L671.4,141.0 L673.1,141.3 L674.9,141.6 L676.6,141.8 L678.3,142.1 L680.0,142.4 L681.7,142.7 L683.4,143.0 L685.1,143.3 L686.8,143.7 L688.5,144.0 L690.2,144.3 L691.9,144.6 L693.6,144.9 L695.3,145.3 L697.0,145.6 L698.7,145.9 L700.4,146.3 L702.1,146.6 L703.9,147.0 L705.6,147.3 L707.3,147.7 L709.0,148.1 L710.7,148.4 L712.4,148.8 L714.1,149.2 L715.8,149.6 L717.5,150.0 L719.2,150.3 L720.9,150.7 L722.6,151.1 L724.3,151.5 L726.0,151.9 L727.7,152.3 L729.4,152.7 L731.1,153.1 L732.8,153.6 L734.6,154.0 L736.3,154.4 L738.0,154.8 L739.7,155.3 L741.4,155.7 L743.1,156.1 L744.8,156.6 L746.5,157.0 L748.2,157.5 L749.9,157.9 L751.6,158.4 L753.3,158.8 L755.0,159.3 L756.7,159.7 L758.4,160.2 L760.1,160.7 L761.8,161.1 L763.6,161.6 L765.3,162.1 L767.0,162.6 L768.7,163.1 L770.4,163.5 L772.1,164.0 L773.8,164.5 L775.5,165.0 L777.2,165.5 L778.9,166.0 L780.6,166.5 L782.3,167.0 L784.0,167.5 L785.7,168.0 L787.4,168.6 L789.1,169.1 L790.8,169.6 L792.6,170.1 L794.3,170.6 L796.0,171.2 L797.7,171.7 L799.4,172.2 L801.1,172.8 L802.8,173.3 L804.5,173.8 L806.2,174.4 L807.9,174.9 L809.6,175.5 L811.3,176.0 L813.0,176.6 L814.7,177.1 L816.4,177.7 L818.1,178.2 L819.8,178.8 L821.5,179.3 L823.3,179.9 L825.0,180.4 L826.7,181.0 L828.4,181.6 L830.1,182.1 L831.8,182.7 L833.5,183.3 L835.2,183.9 L836.9,184.4 L838.6,185.0 L840.3,185.6 L842.0,186.2 L843.7,186.7 L845.4,187.3 L847.1,187.9 L848.8,188.5 L850.5,189.1 L852.3,189.7 L854.0,190.2 L855.7,190.8 L857.4,191.4 L859.1,192.0 L860.8,192.6 L862.5,193.2 L864.2,193.8 L865.9,194.4 L867.6,195.0 L869.3,195.6 L871.0,196.2 L872.7,196.8 L874.4,197.4 L876.1,198.0 L877.8,198.6 L879.5,199.2 L881.2,199.8 L883.0,200.4 L884.7,201.0 L886.4,201.6 L888.1,202.2 L889.8,202.8 L891.5,203.4 L893.2,204.0 L894.9,204.6 L896.6,205.2 L898.3,205.8 L900.0,206.4 L901.7,207.0 L903.4,207.6 L905.1,208.2 L906.8,208.8 L908.5,209.4 L910.2,210.0 L912.0,210.6 L913.7,211.2 L915.4,211.8 L917.1,212.5 L918.8,213.1 L920.5,213.7 L922.2,214.3 L923.9,214.9 L925.6,215.5 L927.3,216.1 L929.0,216.7 L930.7,217.3 L932.4,217.9 L934.1,218.5 L935.8,219.1 L937.5,219.7 L939.2,220.3 L940.9,220.9 L942.7,221.5 L944.4,222.1 L946.1,222.7 L947.8,223.3 L949.5,223.8 L951.2,224.4 L952.9,225.0 L954.6,225.6 L956.3,226.2 L958.0,226.8 L959.7,227.4 L961.4,228.0 L963.1,228.5 L964.8,229.1 L966.5,229.7 L968.2,230.3 L969.9,230.9 L971.7,231.4 L973.4,232.0 L975.1,232.6 L976.8,233.2 L978.5,233.7 L980.2,234.3 L981.9,234.9 L983.6,235.4 L985.3,236.0 L987.0,236.6 L988.7,237.1 L990.4,237.7 L992.1,238.2 L993.8,238.8 L995.5,239.3 L997.2,239.9 L998.9,240.4 L1000.6,241.0 L1002.4,241.5 L1004.1,242.1 L1005.8,242.6 L1007.5,243.2 L1009.2,243.7 L1010.9,244.2 L1012.6,244.8 L1014.3,245.3 L1016.0,245.8 L1017.7,246.3 L1019.4,246.9 L1021.1,247.4 L1022.8,247.9 L1024.5,248.4 L1026.2,248.9 L1027.9,249.4 L1029.6,249.9 L1031.4,250.4 L1033.1,250.9 L1034.8,251.4 L1036.5,251.9 L1038.2,252.4 L1039.9,252.9 L1041.6,253.4 L1043.3,253.9 L1045.0,254.4 L1046.7,254.9 L1048.4,255.3 L1050.1,255.8 L1051.8,256.3 L1053.5,256.7 L1055.2,257.2 L1056.9,257.7 L1058.6,258.1 L1060.3,258.6 L1062.1,259.0 L1063.8,259.5 L1065.5,259.9 L1067.2,260.4 L1068.9,260.8 L1070.6,261.2 L1072.3,261.7 L1074.0,262.1 L1075.7,262.5 L1077.4,262.9 L1079.1,263.3 L1080.8,263.8 L1082.5,264.2 L1084.2,264.6 L1085.9,265.0 L1087.6,265.4 L1089.3,265.8 L1091.1,266.2 L1092.8,266.5 L1094.5,266.9 L1096.2,267.3 L1097.9,267.7 L1099.6,268.1 L1101.3,268.4 L1103.0,268.8 L1104.7,269.2 L1106.4,269.5 L1108.1,269.9 L1109.8,270.2 L1111.5,270.6 L1113.2,270.9 L1114.9,271.2 L1116.6,271.6 L1118.3,271.9 L1120.0,272.2 L1121.8,272.5 L1123.5,272.9 L1125.2,273.2 L1126.9,273.5 L1128.6,273.8 L1130.3,274.1 L1132.0,274.4 L1133.7,274.7 L1135.4,275.0 L1137.1,275.2 L1138.8,275.5 L1140.5,275.8 L1142.2,276.1 L1143.9,276.3 L1145.6,276.6 L1147.3,276.9 L1149.0,277.1 L1150.8,277.4 L1152.5,277.6 L1154.2,277.8 L1155.9,278.1 L1157.6,278.3 L1159.3,278.5 L1161.0,278.8 L1162.7,279.0 L1164.4,279.2 L1166.1,279.4 L1167.8,279.6 L1169.5,279.8 L1171.2,280.0 L1172.9,280.2 L1174.6,280.4 L1176.3,280.5 L1178.0,280.7 L1179.7,280.9 L1181.5,281.1 L1183.2,281.2 L1184.9,281.4 L1186.6,281.5 L1188.3,281.7 L1190.0,281.8 L1191.7,282.0 L1193.4,282.1 L1195.1,282.2 L1196.8,282.3 L1198.5,282.5 L1200.2,282.6 L1201.9,282.7 L1203.6,282.8 L1205.3,282.9 L1207.0,283.0 L1208.7,283.1 L1210.5,283.2 L1212.2,283.3 L1213.9,283.3 L1215.6,283.4 L1217.3,283.5 L1219.0,283.5 L1220.7,283.6 L1222.4,283.6 L1224.1,283.7 L1225.8,283.7 L1227.5,283.8 L1229.2,283.8 L1230.9,283.8 L1232.6,283.9 L1234.3,283.9 L1236.0,283.9 L1237.7,283.9 L1239.4,283.9 L1241.2,283.9 L1242.9,283.9 L1244.6,283.9 L1246.3,283.9 L1248.0,283.8 L1249.7,283.8 L1251.4,283.8 L1253.1,283.8 L1254.8,283.7 L1256.5,283.7 L1258.2,283.6 L1259.9,283.6 L1261.6,283.5 L1263.3,283.4 L1265.0,283.4 L1266.7,283.3 L1268.4,283.2 L1270.2,283.1 L1271.9,283.1 L1273.6,283.0 L1275.3,282.9 L1277.0,282.8 L1278.7,282.7 L1280.4,282.5 L1282.1,282.4 L1283.8,282.3 L1285.5,282.2 L1287.2,282.1 L1288.9,281.9 L1290.6,281.8 L1292.3,281.6 L1294.0,281.5 L1295.7,281.3 L1297.4,281.2 L1299.1,281.0 L1300.9,280.8 L1302.6,280.7 L1304.3,280.5 L1306.0,280.3 L1307.7,280.1 L1309.4,279.9 L1311.1,279.7 L1312.8,279.5 L1314.5,279.3 L1316.2,279.1 L1317.9,278.9 L1319.6,278.7 L1321.3,278.5 L1323.0,278.2 L1324.7,278.0 L1326.4,277.8 L1328.1,277.5 L1329.9,277.3 L1331.6,277.0 L1333.3,276.8 L1335.0,276.5 L1336.7,276.3 L1338.4,276.0 L1340.1,275.7 L1341.8,275.4 L1343.5,275.2 L1345.2,274.9 L1346.9,274.6 L1348.6,274.3 L1350.3,274.0 L1352.0,273.7 L1353.7,273.4 L1355.4,273.1 L1357.1,272.8 L1358.8,272.4 L1360.6,272.1 L1362.3,271.8 L1364.0,271.5 L1365.7,271.1 L1367.4,270.8 L1369.1,270.5 L1370.8,270.1 L1372.5,269.8 L1374.2,269.4 L1375.9,269.0 L1377.6,268.7 L1379.3,268.3 L1381.0,267.9 L1382.7,267.6 L1384.4,267.2 L1386.1,266.8 L1387.8,266.4 L1389.6,266.0 L1391.3,265.6 L1393.0,265.2 L1394.7,264.8 L1396.4,264.4 L1398.1,264.0 L1399.8,263.6 L1401.5,263.2 L1403.2,262.8 L1404.9,262.4 L1406.6,261.9 L1408.3,261.5 L1410.0,261.1 L1411.7,260.7 L1413.4,260.2 L1415.1,259.8 L1416.8,259.3 L1418.5,258.9 L1420.3,258.4 L1422.0,258.0 L1423.7,257.5 L1425.4,257.1 L1427.1,256.6 L1428.8,256.1 L1430.5,255.7 L1432.2,255.2 L1433.9,254.7 L1435.6,254.2 L1437.3,253.7 L1439.0,253.3 L1440.7,252.8 L1442.4,252.3 L1444.1,251.8 L1445.8,251.3 L1447.5,250.8 L1449.3,250.3 L1451.0,249.8 L1452.7,249.3 L1454.4,248.8 L1456.1,248.3 L1457.8,247.7 L1459.5,247.2 L1461.2,246.7 L1462.9,246.2 L1464.6,245.7 L1466.3,245.1 L1468.0,244.6 L1469.7,244.1 L1471.4,243.5 L1473.1,243.0 L1474.8,242.5 L1476.5,241.9 L1478.2,241.4 L1480.0,240.8 L1481.7,240.3 L1483.4,239.7 L1485.1,239.2 L1486.8,238.6 L1488.5,238.1 L1490.2,237.5 L1491.9,237.0 L1493.6,236.4 L1495.3,235.8 L1497.0,235.3 L1498.7,234.7 L1500.4,234.1 L1502.1,233.6 L1503.8,233.0 L1505.5,232.4 L1507.2,231.8 L1509.0,231.3 L1510.7,230.7 L1512.4,230.1 L1514.1,229.5 L1515.8,228.9 L1517.5,228.4 L1519.2,227.8 L1520.9,227.2 L1522.6,226.6 L1524.3,226.0 L1526.0,225.4 L1527.7,224.8 L1529.4,224.2 L1531.1,223.7 L1532.8,223.1 L1534.5,222.5 L1536.2,221.9 L1537.9,221.3 L1539.7,220.7 L1541.4,220.1 L1543.1,219.5 L1544.8,218.9 L1546.5,218.3 L1548.2,217.7 L1549.9,217.1 L1551.6,216.5 L1553.3,215.9 L1555.0,215.3 L1556.7,214.7 L1558.4,214.1 L1560.1,213.5 L1561.8,212.9 L1563.5,212.3 L1565.2,211.7 L1566.9,211.1 L1568.7,210.4 L1570.4,209.8 L1572.1,209.2 L1573.8,208.6 L1575.5,208.0 L1577.2,207.4 L1578.9,206.8 L1580.6,206.2 L1582.3,205.6 L1584.0,205.0 L1585.7,204.4 L1587.4,203.8 L1589.1,203.2 L1590.8,202.6 L1592.5,202.0 L1594.2,201.4 L1595.9,200.8 L1597.7,200.2 L1599.4,199.6 L1601.1,199.0 L1602.8,198.4 L1604.5,197.8 L1606.2,197.2 L1607.9,196.6 L1609.6,196.0 L1611.3,195.4 L1613.0,194.8 L1614.7,194.2 L1616.4,193.6 L1618.1,193.0 L1619.8,192.4 L1621.5,191.8 L1623.2,191.2 L1624.9,190.6 L1626.6,190.1 L1628.4,189.5 L1630.1,188.9 L1631.8,188.3 L1633.5,187.7 L1635.2,187.1 L1636.9,186.6 L1638.6,186.0 L1640.3,185.4 L1642.0,184.8 L1643.7,184.2 L1645.4,183.7 L1647.1,183.1 L1648.8,182.5 L1650.5,182.0 L1652.2,181.4 L1653.9,180.8 L1655.6,180.3 L1657.4,179.7 L1659.1,179.1 L1660.8,178.6 L1662.5,178.0 L1664.2,177.5 L1665.9,176.9 L1667.6,176.4 L1669.3,175.8 L1671.0,175.3 L1672.7,174.7 L1674.4,174.2 L1676.1,173.7 L1677.8,173.1 L1679.5,172.6 L1681.2,172.1 L1682.9,171.5 L1684.6,171.0 L1686.3,170.5 L1688.1,170.0 L1689.8,169.4 L1691.5,168.9 L1693.2,168.4 L1694.9,167.9 L1696.6,167.4 L1698.3,166.9 L1700.0,166.4 L1701.7,165.9 L1703.4,165.4 L1705.1,164.9 L1706.8,164.4 L1708.5,163.9 L1710.2,163.4 L1711.9,162.9 L1713.6,162.4 L1715.3,161.9 L1717.1,161.5 L1718.8,161.0 L1720.5,160.5 L1722.2,160.1 L1723.9,159.6 L1725.6,159.1 L1727.3,158.7 L1729.0,158.2 L1730.7,157.8 L1732.4,157.3 L1734.1,156.9 L1735.8,156.4 L1737.5,156.0 L1739.2,155.6 L1740.9,155.1 L1742.6,154.7 L1744.3,154.3 L1746.0,153.8 L1747.8,153.4 L1749.5,153.0 L1751.2,152.6 L1752.9,152.2 L1754.6,151.8 L1756.3,151.4 L1758.0,151.0 L1759.7,150.6 L1761.4,150.2 L1763.1,149.8 L1764.8,149.4 L1766.5,149.1 L1768.2,148.7 L1769.9,148.3 L1771.6,148.0 L1773.3,147.6 L1775.0,147.2 L1776.8,146.9 L1778.5,146.5 L1780.2,146.2 L1781.9,145.8 L1783.6,145.5 L1785.3,145.2 L1787.0,144.8 L1788.7,144.5 L1790.4,144.2 L1792.1,143.9 L1793.8,143.6 L1795.5,143.2 L1797.2,142.9 L1798.9,142.6 L1800.6,142.3 L1802.3,142.0 L1804.0,141.8 L1805.7,141.5 L1807.5,141.2 L1809.2,140.9 L1810.9,140.6 L1812.6,140.4 L1814.3,140.1 L1816.0,139.8 L1817.7,139.6 L1819.4,139.3 L1821.1,139.1 L1822.8,138.9 L1824.5,138.6 L1826.2,138.4 L1827.9,138.2 L1829.6,137.9 L1831.3,137.7 L1833.0,137.5 L1834.7,137.3 L1836.5,137.1 L1838.2,136.9 L1839.9,136.7 L1841.6,136.5 L1843.3,136.3 L1845.0,136.1 L1846.7,136.0 L1848.4,135.8 L1850.1,135.6 L1851.8,135.4 L1853.5,135.3 L1855.2,135.1 L1856.9,135.0 L1858.6,134.8 L1860.3,134.7 L1862.0,134.6 L1863.7,134.4 L1865.4,134.3 L1867.2,134.2 L1868.9,134.1 L1870.6,134.0 L1872.3,133.8 L1874.0,133.7 L1875.7,133.6 L1877.4,133.6 L1879.1,133.5 L1880.8,133.4 L1882.5,133.3 L1884.2,133.2 L1885.9,133.2 L1887.6,133.1 L1889.3,133.0 L1891.0,133.0 L1892.7,132.9 L1894.4,132.9 L1896.2,132.8 L1897.9,132.8 L1899.6,132.8 L1901.3,132.8 L1903.0,132.7 L1904.7,132.7 L1906.4,132.7 L1908.1,132.7 L1909.8,132.7 L1911.5,132.7 L1913.2,132.7 L1914.9,132.7 L1916.6,132.7 L1918.3,132.8 L1920.0,132.8 L1921.7,132.8 L1923.4,132.9 L1925.1,132.9 L1926.9,133.0 L1928.6,133.0 L1930.3,133.1 L1932.0,133.1 L1933.7,133.2 L1935.4,133.3 L1937.1,133.3 L1938.8,133.4 L1940.5,133.5" fill="none" stroke="#ed1c24" stroke-width="12.1" stroke-linejoin="round"/>
<g font-family="'Liberation Serif', 'Times New Roman', serif" font-size="64" fill="#4b4c4e">
<text x="213.5" y="166.1" text-anchor="end">0.2</text>
<text x="213.5" y="229.1" text-anchor="end">0</text>
<text x="213.5" y="292.1" text-anchor="end">-0.2</text>
<text x="213.5" y="355.1" text-anchor="end">-0.4</text>
<text x="236.0" y="462.5" text-anchor="middle">0</text>
<text x="576.9" y="462.5" text-anchor="middle">20</text>
<text x="917.8" y="462.5" text-anchor="middle">40</text>
<text x="1258.7" y="462.5" text-anchor="middle">60</text>
<text x="1599.6" y="462.5" text-anchor="middle">80</text>
<text x="1939.9" y="462.5" text-anchor="middle">100</text>
</g>
<text font-family="'Liberation Serif', 'Times New Roman', serif" fill="#4b4c4e"><tspan x="1038.7" y="542.4" font-size="81.0" font-style="italic" textLength="25.7" lengthAdjust="spacingAndGlyphs">t</tspan><tspan x="1069.4" y="551.6" font-family="'DejaVu Sans Light', 'DejaVu Sans', 'Liberation Sans', sans-serif" font-weight="200" font-size="88.0" font-style="normal" textLength="31.0" lengthAdjust="spacingAndGlyphs">/</tspan><tspan x="1103.7" y="542.4" font-size="69.0" font-style="italic" textLength="30.8" lengthAdjust="spacingAndGlyphs">s</tspan></text>
<text transform="translate(70.9,396.9) rotate(-90)" font-family="'Liberation Serif', 'Times New Roman', serif" fill="#4b4c4e"><tspan x="1.9" y="0.0" font-size="69.0" font-style="italic" textLength="43.9" lengthAdjust="spacingAndGlyphs">u</tspan><tspan x="46.1" y="8.8" font-family="'DejaVu Sans Light', 'DejaVu Sans', 'Liberation Sans', sans-serif" font-weight="200" font-size="88.0" font-style="normal" textLength="32.0" lengthAdjust="spacingAndGlyphs">/</tspan><tspan x="76.7" y="0.0" font-size="69.0" font-style="italic" textLength="66.2" lengthAdjust="spacingAndGlyphs">m</tspan><tspan x="149.7" y="10.0" font-size="88.0" font-style="normal" textLength="29.5" lengthAdjust="spacingAndGlyphs">·</tspan><tspan x="191.2" y="0.0" font-size="69.0" font-style="italic" textLength="30.6" lengthAdjust="spacingAndGlyphs">s</tspan><tspan x="222.1" y="-15.8" font-size="66.0" font-style="normal" textLength="36.0" lengthAdjust="spacingAndGlyphs">−</tspan><tspan x="258.3" y="-24.9" font-size="50.4" font-style="normal" textLength="24.7" lengthAdjust="spacingAndGlyphs">1</tspan></text>
</g>
<g id="ax1">
<path d="M236.0,664.9 H1940.5 M236.0,741.3 H1940.5 M236.0,817.8 H1940.5 M576.9,617.2 V876.0 M917.8,617.2 V876.0 M1258.7,617.2 V876.0 M1599.6,617.2 V876.0" fill="none" stroke="#dfe0e1" stroke-width="3.2"/>
<path d="M236.0,664.9 h18.9 M1940.5,664.9 h-18.9 M236.0,741.3 h18.9 M1940.5,741.3 h-18.9 M236.0,817.8 h18.9 M1940.5,817.8 h-18.9 M576.9,617.2 v18.9 M576.9,876.0 v-18.9 M917.8,617.2 v18.9 M917.8,876.0 v-18.9 M1258.7,617.2 v18.9 M1258.7,876.0 v-18.9 M1599.6,617.2 v18.9 M1599.6,876.0 v-18.9" fill="none" stroke="#4b4c4e" stroke-width="3.0"/>
<rect x="236.0" y="617.2" width="1704.5" height="258.8" fill="none" stroke="#4b4c4e" stroke-width="3.8"/>
<path d="M236.0,817.8 L238.1,818.0 L240.3,818.3 L242.4,818.5 L244.5,818.7 L246.7,818.9 L248.8,819.2 L250.9,819.4 L253.0,819.6 L255.2,819.9 L257.3,820.1 L259.4,820.3 L261.6,820.6 L263.7,820.8 L265.8,821.0 L268.0,821.2 L270.1,821.5 L272.2,821.7 L274.4,821.9 L276.5,822.2 L278.6,822.4 L280.7,822.6 L282.9,822.8 L285.0,823.1 L287.1,823.3 L289.3,823.5 L291.4,823.7 L293.5,824.0 L295.7,824.2 L297.8,824.4 L299.9,824.7 L302.0,824.9 L304.2,825.1 L306.3,825.3 L308.4,825.6 L310.6,825.8 L312.7,826.0 L314.8,826.2 L317.0,826.5 L319.1,826.7 L321.2,826.9 L323.4,827.1 L325.5,827.4 L327.6,827.6 L329.7,827.8 L331.9,828.0 L334.0,828.3 L336.1,828.5 L338.3,828.7 L340.4,828.9 L342.5,829.1 L344.7,829.4 L346.8,829.6 L348.9,829.8 L351.1,830.0 L353.2,830.3 L355.3,830.5 L357.4,830.7 L359.6,830.9 L361.7,831.1 L363.8,831.4 L366.0,831.6 L368.1,831.8 L370.2,832.0 L372.4,832.2 L374.5,832.4 L376.6,832.7 L378.8,832.9 L380.9,833.1 L383.0,833.3 L385.1,833.5 L387.3,833.7 L389.4,834.0 L391.5,834.2 L393.7,834.4 L395.8,834.6 L397.9,834.8 L400.1,835.0 L402.2,835.2 L404.3,835.5 L406.5,835.7 L408.6,835.9 L410.7,836.1 L412.8,836.3 L415.0,836.5 L417.1,836.7 L419.2,836.9 L421.4,837.1 L423.5,837.3 L425.6,837.5 L427.8,837.8 L429.9,838.0 L432.0,838.2 L434.1,838.4 L436.3,838.6 L438.4,838.8 L440.5,839.0 L442.7,839.2 L444.8,839.4 L446.9,839.6 L449.1,839.8 L451.2,840.0 L453.3,840.2 L455.5,840.4 L457.6,840.6 L459.7,840.8 L461.8,841.0 L464.0,841.2 L466.1,841.4 L468.2,841.6 L470.4,841.8 L472.5,842.0 L474.6,842.2 L476.8,842.4 L478.9,842.6 L481.0,842.7 L483.2,842.9 L485.3,843.1 L487.4,843.3 L489.5,843.5 L491.7,843.7 L493.8,843.9 L495.9,844.1 L498.1,844.3 L500.2,844.5 L502.3,844.6 L504.5,844.8 L506.6,845.0 L508.7,845.2 L510.9,845.4 L513.0,845.6 L515.1,845.7 L517.2,845.9 L519.4,846.1 L521.5,846.3 L523.6,846.5 L525.8,846.6 L527.9,846.8 L530.0,847.0 L532.2,847.2 L534.3,847.4 L536.4,847.5 L538.5,847.7 L540.7,847.9 L542.8,848.0 L544.9,848.2 L547.1,848.4 L549.2,848.6 L551.3,848.7 L553.5,848.9 L555.6,849.1 L557.7,849.2 L559.9,849.4 L562.0,849.6 L564.1,849.7 L566.2,849.9 L568.4,850.1 L570.5,850.2 L572.6,850.4 L574.8,850.5 L576.9,850.7 L579.0,850.9 L581.2,851.0 L583.3,851.2 L585.4,851.3 L587.6,851.5 L589.7,851.6 L591.8,851.8 L593.9,852.0 L596.1,852.1 L598.2,852.3 L600.3,852.4 L602.5,852.6 L604.6,852.7 L606.7,852.9 L608.9,853.0 L611.0,853.2 L613.1,853.3 L615.3,853.4 L617.4,853.6 L619.5,853.7 L621.6,853.9 L623.8,854.0 L625.9,854.2 L628.0,854.3 L630.2,854.4 L632.3,854.6 L634.4,854.7 L636.6,854.8 L638.7,855.0 L640.8,855.1 L642.9,855.2 L645.1,855.4 L647.2,855.5 L649.3,855.6 L651.5,855.8 L653.6,855.9 L655.7,856.0 L657.9,856.1 L660.0,856.3 L662.1,856.4 L664.3,856.5 L666.4,856.6 L668.5,856.8 L670.6,856.9 L672.8,857.0 L674.9,857.1 L677.0,857.2 L679.2,857.4 L681.3,857.5 L683.4,857.6 L685.6,857.7 L687.7,857.8 L689.8,857.9 L692.0,858.0 L694.1,858.1 L696.2,858.3 L698.3,858.4 L700.5,858.5 L702.6,858.6 L704.7,858.7 L706.9,858.8 L709.0,858.9 L711.1,859.0 L713.3,859.1 L715.4,859.2 L717.5,859.3 L719.7,859.4 L721.8,859.5 L723.9,859.6 L726.0,859.7 L728.2,859.8 L730.3,859.9 L732.4,859.9 L734.6,860.0 L736.7,860.1 L738.8,860.2 L741.0,860.3 L743.1,860.4 L745.2,860.5 L747.4,860.6 L749.5,860.6 L751.6,860.7 L753.7,860.8 L755.9,860.9 L758.0,861.0 L760.1,861.0 L762.3,861.1 L764.4,861.2 L766.5,861.3 L768.7,861.3 L770.8,861.4 L772.9,861.5 L775.0,861.5 L777.2,861.6 L779.3,861.7 L781.4,861.7 L783.6,861.8 L785.7,861.9 L787.8,861.9 L790.0,862.0 L792.1,862.1 L794.2,862.1 L796.4,862.2 L798.5,862.2 L800.6,862.3 L802.7,862.3 L804.9,862.4 L807.0,862.5 L809.1,862.5 L811.3,862.6 L813.4,862.6 L815.5,862.7 L817.7,862.7 L819.8,862.7 L821.9,862.8 L824.1,862.8 L826.2,862.9 L828.3,862.9 L830.4,863.0 L832.6,863.0 L834.7,863.0 L836.8,863.1 L839.0,863.1 L841.1,863.1 L843.2,863.2 L845.4,863.2 L847.5,863.2 L849.6,863.3 L851.8,863.3 L853.9,863.3 L856.0,863.4 L858.1,863.4 L860.3,863.4 L862.4,863.4 L864.5,863.5 L866.7,863.5 L868.8,863.5 L870.9,863.5 L873.1,863.5 L875.2,863.6 L877.3,863.6 L879.4,863.6 L881.6,863.6 L883.7,863.6 L885.8,863.6 L888.0,863.6 L890.1,863.6 L892.2,863.6 L894.4,863.7 L896.5,863.7 L898.6,863.7 L900.8,863.7 L902.9,863.7 L905.0,863.7 L907.1,863.7 L909.3,863.7 L911.4,863.7 L913.5,863.7 L915.7,863.7 L917.8,863.7 L919.9,863.6 L922.1,863.6 L924.2,863.6 L926.3,863.6 L928.5,863.6 L930.6,863.6 L932.7,863.6 L934.8,863.6 L937.0,863.5 L939.1,863.5 L941.2,863.5 L943.4,863.5 L945.5,863.5 L947.6,863.4 L949.8,863.4 L951.9,863.4 L954.0,863.4 L956.2,863.3 L958.3,863.3 L960.4,863.3 L962.5,863.3 L964.7,863.2 L966.8,863.2 L968.9,863.2 L971.1,863.1 L973.2,863.1 L975.3,863.1 L977.5,863.0 L979.6,863.0 L981.7,862.9 L983.8,862.9 L986.0,862.9 L988.1,862.8 L990.2,862.8 L992.4,862.7 L994.5,862.7 L996.6,862.6 L998.8,862.6 L1000.9,862.5 L1003.0,862.5 L1005.2,862.4 L1007.3,862.4 L1009.4,862.3 L1011.5,862.3 L1013.7,862.2 L1015.8,862.1 L1017.9,862.1 L1020.1,862.0 L1022.2,862.0 L1024.3,861.9 L1026.5,861.8 L1028.6,861.8 L1030.7,861.7 L1032.9,861.6 L1035.0,861.6 L1037.1,861.5 L1039.2,861.4 L1041.4,861.4 L1043.5,861.3 L1045.6,861.2 L1047.8,861.1 L1049.9,861.1 L1052.0,861.0 L1054.2,860.9 L1056.3,860.8 L1058.4,860.7 L1060.6,860.7 L1062.7,860.6 L1064.8,860.5 L1066.9,860.4 L1069.1,860.3 L1071.2,860.2 L1073.3,860.2 L1075.5,860.1 L1077.6,860.0 L1079.7,859.9 L1081.9,859.8 L1084.0,859.7 L1086.1,859.6 L1088.2,859.5 L1090.4,859.4 L1092.5,859.3 L1094.6,859.2 L1096.8,859.1 L1098.9,859.0 L1101.0,858.9 L1103.2,858.8 L1105.3,858.7 L1107.4,858.6 L1109.6,858.5 L1111.7,858.4 L1113.8,858.3 L1115.9,858.2 L1118.1,858.1 L1120.2,858.0 L1122.3,857.9 L1124.5,857.7 L1126.6,857.6 L1128.7,857.5 L1130.9,857.4 L1133.0,857.3 L1135.1,857.2 L1137.3,857.0 L1139.4,856.9 L1141.5,856.8 L1143.6,856.7 L1145.8,856.6 L1147.9,856.4 L1150.0,856.3 L1152.2,856.2 L1154.3,856.1 L1156.4,855.9 L1158.6,855.8 L1160.7,855.7 L1162.8,855.5 L1165.0,855.4 L1167.1,855.3 L1169.2,855.2 L1171.3,855.0 L1173.5,854.9 L1175.6,854.8 L1177.7,854.6 L1179.9,854.5 L1182.0,854.3 L1184.1,854.2 L1186.3,854.1 L1188.4,853.9 L1190.5,853.8 L1192.7,853.6 L1194.8,853.5 L1196.9,853.3 L1199.0,853.2 L1201.2,853.1 L1203.3,852.9 L1205.4,852.8 L1207.6,852.6 L1209.7,852.5 L1211.8,852.3 L1214.0,852.2 L1216.1,852.0 L1218.2,851.9 L1220.3,851.7 L1222.5,851.5 L1224.6,851.4 L1226.7,851.2 L1228.9,851.1 L1231.0,850.9 L1233.1,850.8 L1235.3,850.6 L1237.4,850.4 L1239.5,850.3 L1241.7,850.1 L1243.8,849.9 L1245.9,849.8 L1248.0,849.6 L1250.2,849.5 L1252.3,849.3 L1254.4,849.1 L1256.6,849.0 L1258.7,848.8 L1260.8,848.6 L1263.0,848.4 L1265.1,848.3 L1267.2,848.1 L1269.4,847.9 L1271.5,847.8 L1273.6,847.6 L1275.7,847.4 L1277.9,847.2 L1280.0,847.1 L1282.1,846.9 L1284.3,846.7 L1286.4,846.5 L1288.5,846.3 L1290.7,846.2 L1292.8,846.0 L1294.9,845.8 L1297.1,845.6 L1299.2,845.4 L1301.3,845.3 L1303.4,845.1 L1305.6,844.9 L1307.7,844.7 L1309.8,844.5 L1312.0,844.3 L1314.1,844.1 L1316.2,843.9 L1318.4,843.8 L1320.5,843.6 L1322.6,843.4 L1324.7,843.2 L1326.9,843.0 L1329.0,842.8 L1331.1,842.6 L1333.3,842.4 L1335.4,842.2 L1337.5,842.0 L1339.7,841.8 L1341.8,841.6 L1343.9,841.4 L1346.1,841.2 L1348.2,841.1 L1350.3,840.9 L1352.4,840.7 L1354.6,840.5 L1356.7,840.3 L1358.8,840.1 L1361.0,839.9 L1363.1,839.7 L1365.2,839.5 L1367.4,839.2 L1369.5,839.0 L1371.6,838.8 L1373.8,838.6 L1375.9,838.4 L1378.0,838.2 L1380.1,838.0 L1382.3,837.8 L1384.4,837.6 L1386.5,837.4 L1388.7,837.2 L1390.8,837.0 L1392.9,836.8 L1395.1,836.6 L1397.2,836.4 L1399.3,836.2 L1401.5,835.9 L1403.6,835.7 L1405.7,835.5 L1407.8,835.3 L1410.0,835.1 L1412.1,834.9 L1414.2,834.7 L1416.4,834.5 L1418.5,834.2 L1420.6,834.0 L1422.8,833.8 L1424.9,833.6 L1427.0,833.4 L1429.2,833.2 L1431.3,832.9 L1433.4,832.7 L1435.5,832.5 L1437.7,832.3 L1439.8,832.1 L1441.9,831.9 L1444.1,831.6 L1446.2,831.4 L1448.3,831.2 L1450.5,831.0 L1452.6,830.8 L1454.7,830.5 L1456.8,830.3 L1459.0,830.1 L1461.1,829.9 L1463.2,829.7 L1465.4,829.4 L1467.5,829.2 L1469.6,829.0 L1471.8,828.8 L1473.9,828.6 L1476.0,828.3 L1478.2,828.1 L1480.3,827.9 L1482.4,827.7 L1484.5,827.4 L1486.7,827.2 L1488.8,827.0 L1490.9,826.8 L1493.1,826.5 L1495.2,826.3 L1497.3,826.1 L1499.5,825.9 L1501.6,825.6 L1503.7,825.4 L1505.9,825.2 L1508.0,825.0 L1510.1,824.7 L1512.2,824.5 L1514.4,824.3 L1516.5,824.0 L1518.6,823.8 L1520.8,823.6 L1522.9,823.4 L1525.0,823.1 L1527.2,822.9 L1529.3,822.7 L1531.4,822.5 L1533.6,822.2 L1535.7,822.0 L1537.8,821.8 L1539.9,821.5 L1542.1,821.3 L1544.2,821.1 L1546.3,820.9 L1548.5,820.6 L1550.6,820.4 L1552.7,820.2 L1554.9,819.9 L1557.0,819.7 L1559.1,819.5 L1561.2,819.2 L1563.4,819.0 L1565.5,818.8 L1567.6,818.6 L1569.8,818.3 L1571.9,818.1 L1574.0,817.9 L1576.2,817.6 L1578.3,817.4 L1580.4,817.2 L1582.6,817.0 L1584.7,816.7 L1586.8,816.5 L1588.9,816.3 L1591.1,816.0 L1593.2,815.8 L1595.3,815.6 L1597.5,815.4 L1599.6,815.1 L1601.7,814.9 L1603.9,814.7 L1606.0,814.4 L1608.1,814.2 L1610.3,814.0 L1612.4,813.8 L1614.5,813.5 L1616.6,813.3 L1618.8,813.1 L1620.9,812.8 L1623.0,812.6 L1625.2,812.4 L1627.3,812.2 L1629.4,811.9 L1631.6,811.7 L1633.7,811.5 L1635.8,811.2 L1638.0,811.0 L1640.1,810.8 L1642.2,810.6 L1644.3,810.3 L1646.5,810.1 L1648.6,809.9 L1650.7,809.7 L1652.9,809.4 L1655.0,809.2 L1657.1,809.0 L1659.3,808.8 L1661.4,808.5 L1663.5,808.3 L1665.6,808.1 L1667.8,807.9 L1669.9,807.6 L1672.0,807.4 L1674.2,807.2 L1676.3,807.0 L1678.4,806.7 L1680.6,806.5 L1682.7,806.3 L1684.8,806.1 L1687.0,805.9 L1689.1,805.6 L1691.2,805.4 L1693.3,805.2 L1695.5,805.0 L1697.6,804.8 L1699.7,804.5 L1701.9,804.3 L1704.0,804.1 L1706.1,803.9 L1708.3,803.7 L1710.4,803.4 L1712.5,803.2 L1714.7,803.0 L1716.8,802.8 L1718.9,802.6 L1721.0,802.4 L1723.2,802.1 L1725.3,801.9 L1727.4,801.7 L1729.6,801.5 L1731.7,801.3 L1733.8,801.1 L1736.0,800.9 L1738.1,800.6 L1740.2,800.4 L1742.4,800.2 L1744.5,800.0 L1746.6,799.8 L1748.7,799.6 L1750.9,799.4 L1753.0,799.2 L1755.1,799.0 L1757.3,798.7 L1759.4,798.5 L1761.5,798.3 L1763.7,798.1 L1765.8,797.9 L1767.9,797.7 L1770.1,797.5 L1772.2,797.3 L1774.3,797.1 L1776.4,796.9 L1778.6,796.7 L1780.7,796.5 L1782.8,796.3 L1785.0,796.1 L1787.1,795.9 L1789.2,795.7 L1791.4,795.5 L1793.5,795.3 L1795.6,795.1 L1797.7,794.9 L1799.9,794.7 L1802.0,794.5 L1804.1,794.3 L1806.3,794.1 L1808.4,793.9 L1810.5,793.7 L1812.7,793.5 L1814.8,793.3 L1816.9,793.1 L1819.1,792.9 L1821.2,792.7 L1823.3,792.5 L1825.4,792.3 L1827.6,792.1 L1829.7,792.0 L1831.8,791.8 L1834.0,791.6 L1836.1,791.4 L1838.2,791.2 L1840.4,791.0 L1842.5,790.8 L1844.6,790.6 L1846.8,790.5 L1848.9,790.3 L1851.0,790.1 L1853.1,789.9 L1855.3,789.7 L1857.4,789.6 L1859.5,789.4 L1861.7,789.2 L1863.8,789.0 L1865.9,788.8 L1868.1,788.7 L1870.2,788.5 L1872.3,788.3 L1874.5,788.1 L1876.6,788.0 L1878.7,787.8 L1880.8,787.6 L1883.0,787.4 L1885.1,787.3 L1887.2,787.1 L1889.4,786.9 L1891.5,786.8 L1893.6,786.6 L1895.8,786.4 L1897.9,786.3 L1900.0,786.1 L1902.1,785.9 L1904.3,785.8 L1906.4,785.6 L1908.5,785.4 L1910.7,785.3 L1912.8,785.1 L1914.9,784.9 L1917.1,784.8 L1919.2,784.6 L1921.3,784.5 L1923.5,784.3 L1925.6,784.2 L1927.7,784.0 L1929.8,783.8 L1932.0,783.7 L1934.1,783.5 L1936.2,783.4 L1938.4,783.2 L1940.5,783.1" fill="none" stroke="#231f20" stroke-width="12.1" stroke-dasharray="32 31" stroke-linejoin="round"/>
<path d="M236.3,809.0 L236.3,807.5 L236.3,806.0 L236.4,804.5 L236.4,803.0 L236.4,801.5 L236.5,800.0 L236.5,798.5 L236.5,797.0 L236.5,795.4 L236.6,793.9 L236.6,792.4 L236.6,790.9 L236.6,789.4 L236.7,787.9 L236.7,786.4 L236.7,784.9 L236.8,783.4 L236.8,781.9 L236.8,780.4 L236.8,778.9 L236.9,777.4 L236.9,775.9 L236.9,774.4 L237.0,772.9 L237.0,771.3 L237.0,769.8 L237.0,768.3 L237.1,766.8 L237.1,765.3 L237.1,763.8 L237.2,762.3 L237.2,760.8 L237.2,759.3 L237.2,757.8 L237.3,756.3 L237.3,754.8 L237.3,753.3 L237.4,751.8 L237.4,750.3 L237.4,748.8 L237.5,747.3 L237.5,745.7 L237.5,744.2 L237.6,742.7 L237.6,741.2 L237.6,739.7 L237.7,738.2 L237.7,736.7 L237.7,735.2 L237.8,733.7 L237.8,732.2 L237.8,730.7 L237.9,729.2 L237.9,727.7 L237.9,726.2 L238.0,724.7 L238.0,723.2 L238.1,721.6 L238.1,720.1 L238.1,718.6 L238.2,717.1 L238.2,715.6 L238.3,714.1 L238.3,712.6 L238.4,711.1 L238.4,709.6 L238.5,708.1 L238.6,706.6 L238.6,705.1 L238.7,703.6 L238.7,702.1 L238.8,700.6 L238.8,699.1 L238.9,697.6 L238.9,696.1 L239.0,694.5 L239.0,693.0 L239.0,691.5 L239.0,690.0 L239.1,688.5 L239.1,687.0 L239.1,685.5 L239.1,684.0 L239.1,682.5 L239.2,681.0 L239.2,679.5 L239.2,678.0 L239.2,676.5 L239.3,675.0 L239.3,673.5 L239.4,672.0 L239.4,670.5 L239.4,668.9 L239.5,667.4 L239.5,665.9 L239.6,664.4 L239.6,662.9 L239.6,661.4 L239.7,659.9 L239.7,658.4 L239.8,656.9 L239.8,655.4 L239.9,653.9 L240.0,652.4 L240.0,650.9 L240.1,649.4 L240.2,647.9 L240.2,646.4 L240.3,644.9 L240.4,643.4 L240.4,641.9 L240.5,640.3 L240.6,638.8 L240.7,637.3 L240.7,635.8 L240.8,634.3 L240.9,632.8 L241.0,631.3 L241.0,629.8 L241.1,628.3 L241.2,626.8 L241.3,625.3 L241.4,623.8 L241.7,622.3 L242.9,621.3 L244.0,622.3 L244.9,623.6 L245.4,625.0 L245.7,626.5 L246.1,627.9 L246.4,629.4 L246.7,630.9 L246.9,632.4 L247.1,633.9 L247.3,635.4 L247.5,636.9 L247.6,638.3 L247.8,639.8 L248.0,641.3 L248.2,642.8 L248.3,644.3 L248.5,645.8 L248.7,647.3 L248.8,648.8 L249.0,650.3 L249.2,651.8 L249.3,653.3 L249.5,654.8 L249.6,656.3 L249.8,657.8 L250.0,659.3 L250.2,660.8 L250.3,662.3 L250.5,663.8 L250.7,665.3 L250.9,666.8 L251.1,668.3 L251.3,669.8 L251.5,671.3 L251.7,672.7 L251.9,674.2 L252.2,675.7 L252.4,677.2 L252.6,678.7 L252.8,680.2 L253.0,681.7 L253.2,683.2 L253.5,684.7 L253.7,686.2 L253.9,687.7 L254.1,689.1 L254.4,690.6 L254.6,692.1 L254.9,693.6 L255.1,695.1 L255.4,696.6 L255.7,698.1 L256.0,699.5 L256.2,701.0 L256.5,702.5 L256.8,704.0 L257.1,705.4 L257.5,706.9 L257.8,708.4 L258.1,709.9 L258.5,711.3 L258.8,712.8 L259.2,714.2 L259.6,715.7 L260.1,717.1 L260.5,718.6 L261.0,720.0 L261.5,721.4 L261.9,722.9 L262.4,724.3 L262.9,725.7 L263.3,727.2 L263.7,728.6 L264.0,730.1 L264.3,731.6 L264.6,733.1 L264.8,734.6 L265.1,736.1 L265.4,737.6 L265.8,739.0 L266.2,740.5 L266.8,741.9 L267.4,743.2 L268.1,744.6 L268.8,745.9 L269.5,747.2 L270.2,748.6 L270.9,749.9 L271.6,751.3 L272.2,752.6 L272.9,753.9 L273.6,755.3 L274.3,756.6 L275.0,757.9 L275.7,759.3 L276.4,760.6 L277.1,761.9 L277.8,763.3 L278.5,764.6 L279.2,765.9 L279.9,767.3 L280.6,768.6 L281.3,770.0 L282.0,771.3 L282.7,772.6 L283.4,774.0 L284.1,775.3 L284.8,776.6 L285.5,778.0 L286.2,779.3 L286.9,780.6 L287.6,782.0 L288.2,783.3 L288.9,784.6 L289.6,786.0 L290.3,787.3 L291.0,788.7 L291.7,790.0 L292.4,791.3 L293.2,792.6 L294.1,793.8 L295.0,795.0 L296.0,796.1 L297.1,797.2 L298.3,798.2 L299.5,799.2 L300.7,800.1 L301.9,801.0 L303.2,801.8 L304.5,802.5 L305.8,803.3 L307.1,804.0 L308.5,804.7 L309.8,805.3 L311.2,806.0 L312.6,806.6 L313.9,807.3 L315.3,807.9 L316.7,808.5 L318.1,809.0 L319.5,809.6 L320.9,810.1 L322.3,810.6 L323.8,811.0 L325.2,811.5 L326.7,811.9 L328.2,812.2 L329.6,812.5 L331.1,812.7 L332.6,812.7 L334.2,812.7 L335.7,812.7 L337.2,812.7 L338.7,812.7 L340.2,812.7 L341.7,812.7 L343.2,812.7 L344.7,812.7 L346.2,812.7 L347.7,812.7 L349.2,812.7 L350.7,812.7 L352.2,812.7 L353.7,812.7 L355.2,812.7 L356.7,812.8 L358.2,813.0 L359.7,813.5 L361.1,814.0 L362.5,814.6 L363.9,815.2 L365.3,815.9 L366.6,816.6 L367.9,817.4 L369.2,818.1 L370.5,818.9 L371.7,819.7 L373.0,820.6 L374.2,821.5 L375.4,822.4 L376.6,823.4 L377.8,824.3 L378.9,825.3 L380.1,826.2 L381.2,827.2 L382.3,828.3 L383.3,829.4 L384.4,830.4 L385.4,831.5 L386.4,832.6 L387.5,833.8 L388.5,834.9 L389.5,836.0 L390.5,837.1 L391.6,838.2 L392.6,839.3 L393.6,840.3 L394.7,841.4 L395.7,842.5 L396.8,843.5 L398.0,844.5 L399.2,845.4 L400.6,846.1 L402.0,846.7 L403.4,847.1 L404.9,847.5 L406.4,847.9 L407.9,848.2 L409.3,848.5 L410.8,848.8 L412.3,849.2 L413.7,849.5 L415.2,849.8 L416.7,850.1 L418.2,850.4 L419.7,850.7 L421.1,851.0 L422.6,851.2 L424.1,851.5 L425.6,851.8 L427.0,852.1 L428.5,852.4 L430.0,852.7 L431.7,853.1 L433.4,853.4 L435.1,853.7 L436.8,853.9 L438.5,854.1 L440.2,854.2 L441.9,854.3 L443.6,854.3 L445.3,854.3 L447.0,854.3 L448.8,854.2 L450.5,854.0 L452.2,853.8 L453.9,853.6 L455.6,853.2 L457.3,852.8 L459.0,852.3 L460.7,851.8 L462.4,851.1 L464.1,850.5 L465.8,849.7 L467.5,849.0 L469.2,848.1 L470.9,847.0 L472.6,845.7 L474.3,844.3 L476.0,842.7 L477.7,841.1 L479.4,839.4 L481.1,837.9 L482.9,836.5 L484.6,835.2 L486.3,834.2 L488.0,833.5 L489.7,833.1 L491.4,833.0 L493.1,832.9 L494.8,832.9 L496.5,833.0 L498.2,833.0 L499.9,833.1 L501.6,833.2 L503.3,833.3 L505.0,833.4 L506.7,833.5 L508.4,833.5 L510.1,833.5 L511.8,833.4 L513.5,833.4 L515.2,833.3 L516.9,833.2 L518.7,833.1 L520.4,833.0 L522.1,832.9 L523.8,832.9 L525.5,832.9 L527.2,832.9 L528.9,833.1 L530.6,833.5 L532.3,833.9 L534.0,834.4 L535.7,835.0 L537.4,835.6 L539.1,836.2 L540.8,836.8 L542.5,837.5 L544.2,838.2 L545.9,839.0 L547.6,840.0 L549.3,841.0 L551.0,842.2 L552.7,843.6 L554.5,845.1 L556.2,846.7 L557.9,848.3 L559.6,849.9 L561.3,851.4 L563.0,852.9 L564.7,854.3 L566.4,855.7 L568.1,857.0 L569.8,858.0 L571.5,858.7 L573.2,858.9 L574.9,858.9 L576.6,858.7 L578.3,858.6 L580.0,858.7 L581.7,859.1 L583.4,859.6 L585.1,860.2 L586.8,860.7 L588.6,861.3 L590.3,861.8 L592.0,862.4 L593.7,862.9 L595.4,863.4 L597.1,863.8 L598.8,864.3 L600.5,864.7 L602.2,865.2 L603.9,865.6 L605.6,866.0 L607.3,866.4 L609.0,866.8 L610.7,867.2 L612.4,867.5 L614.1,867.8 L615.8,868.0 L617.5,868.1 L619.2,868.2 L620.9,868.2 L622.6,868.1 L624.4,867.9 L626.1,867.6 L627.8,867.3 L629.5,866.7 L631.2,866.1 L632.9,865.4 L634.6,864.7 L636.3,863.8 L638.0,863.0 L639.7,862.1 L641.4,861.1 L643.1,860.2 L644.8,859.2 L646.5,858.1 L648.2,856.8 L649.9,855.5 L651.6,854.1 L653.3,852.7 L655.0,851.3 L656.7,850.1 L658.5,848.9 L660.2,848.0 L661.9,847.3 L663.6,846.8 L665.3,846.5 L667.0,846.3 L668.7,846.1 L670.4,846.0 L672.1,845.8 L673.8,845.7 L675.5,845.6 L677.2,845.5 L678.9,845.4 L680.6,845.2 L682.3,845.0 L684.0,844.8 L685.7,844.6 L687.4,844.4 L689.1,844.1 L690.8,843.9 L692.5,843.6 L694.3,843.4 L696.0,843.1 L697.7,842.9 L699.4,842.7 L701.1,842.5 L702.8,842.4 L704.5,842.4 L706.2,842.6 L707.9,842.9 L709.6,843.4 L711.3,844.0 L713.0,844.7 L714.7,845.5 L716.4,846.4 L718.1,847.3 L719.8,848.4 L721.5,849.4 L723.2,850.6 L724.9,851.7 L726.6,852.9 L728.3,854.2 L730.1,855.6 L731.8,857.1 L733.5,858.7 L735.2,860.2 L736.9,861.8 L738.6,863.3 L740.3,864.8 L742.0,866.2 L743.7,867.5 L745.4,868.7 L747.1,869.7 L748.8,870.6 L750.5,871.2 L752.2,871.7 L753.9,872.1 L755.6,872.4 L757.3,872.7 L759.0,872.9 L760.7,873.2 L762.4,873.4 L764.2,873.6 L765.9,873.8 L767.6,874.0 L769.3,874.3 L771.0,874.5 L772.7,874.7 L774.4,875.0 L776.1,875.2 L777.8,875.4 L779.5,875.6 L781.2,875.7 L782.9,875.8 L784.6,875.7 L786.3,875.5 L788.0,875.2 L789.7,874.9 L791.4,874.5 L793.1,874.0 L794.8,873.4 L796.5,872.7 L798.2,871.9 L800.0,871.0 L801.7,870.1 L803.4,869.0 L805.1,867.8 L806.8,866.2 L808.5,864.5 L810.2,862.8 L811.9,861.1 L813.6,859.8 L815.3,858.6 L817.0,857.6 L818.7,856.6 L820.4,855.8 L822.1,855.2 L823.8,854.6 L825.5,854.3 L827.2,854.1 L828.9,854.3 L830.6,854.7 L832.3,855.2 L834.1,855.7 L835.8,855.9 L837.5,855.8 L839.2,855.3 L840.9,854.8 L842.6,854.2 L844.3,853.6 L846.0,853.2 L847.7,853.0 L849.4,852.7 L851.1,852.5 L852.8,852.2 L854.5,852.0 L856.2,851.9 L857.9,851.7 L859.6,851.7 L861.3,851.6 L863.0,851.6 L864.7,851.7 L866.4,851.9 L868.1,852.1 L869.9,852.3 L871.6,852.6 L873.3,852.9 L875.0,853.2 L876.7,853.6 L878.4,854.0 L880.1,854.5 L881.8,855.1 L883.5,855.8 L885.2,856.6 L886.9,857.4 L888.6,858.3 L890.3,859.3 L892.0,860.3 L893.7,861.3 L895.4,862.4 L897.1,863.4 L898.8,864.5 L900.5,865.7 L902.2,867.0 L903.9,868.1 L905.7,868.8 L907.4,869.4 L909.1,869.9 L910.8,870.4 L912.5,871.1 L914.2,871.6 L915.9,871.7 L917.6,871.7 L919.3,871.6 L921.0,871.6 L922.7,871.6 L924.4,871.6 L926.1,871.6 L927.8,871.6 L929.5,871.7 L931.2,871.9 L932.9,872.2 L934.6,872.5 L936.3,872.8 L938.0,873.0 L939.8,873.3 L941.5,873.5 L943.2,873.7 L944.9,873.9 L946.6,874.1 L948.3,874.3 L950.0,874.5 L951.7,874.6 L953.4,874.5 L955.1,874.2 L956.8,873.9 L958.5,873.5 L960.2,873.1 L961.9,872.7 L963.6,872.3 L965.3,871.8 L967.0,871.4 L968.7,871.0 L970.4,870.6 L972.1,870.2 L973.8,869.5 L975.6,868.6 L977.3,867.4 L979.0,866.1 L980.7,864.8 L982.4,863.5 L984.1,862.2 L985.8,860.8 L987.5,859.5 L989.2,858.1 L990.9,856.8 L992.6,855.5 L994.3,854.4 L996.0,853.9 L997.7,853.9 L999.4,854.1 L1001.1,854.4 L1002.8,854.5 L1004.5,854.3 L1006.2,853.9 L1007.9,853.4 L1009.7,853.0 L1011.4,852.5 L1013.1,852.0 L1014.8,851.5 L1016.5,850.9 L1018.2,850.3 L1019.9,849.8 L1021.6,849.2 L1023.3,848.6 L1025.0,848.1 L1026.7,847.5 L1028.4,847.0 L1030.1,846.5 L1031.8,846.1 L1033.5,845.9 L1035.2,845.9 L1036.9,845.9 L1038.6,846.0 L1040.3,846.1 L1042.0,846.2 L1043.7,846.5 L1045.5,846.9 L1047.2,847.6 L1048.9,848.7 L1050.6,849.7 L1052.3,850.8 L1054.0,852.0 L1055.7,853.1 L1057.4,854.2 L1059.1,855.4 L1060.8,856.6 L1062.5,857.7 L1064.2,858.9 L1065.9,860.1 L1067.6,861.2 L1069.3,862.4 L1071.0,863.5 L1072.7,864.6 L1074.4,865.7 L1076.1,866.8 L1077.8,867.8 L1079.5,868.9 L1081.3,870.0 L1083.0,870.9 L1084.7,871.4 L1086.4,871.7 L1088.1,871.8 L1089.8,871.9 L1091.5,871.9 L1093.2,871.9 L1094.9,871.9 L1096.6,871.9 L1098.3,872.0 L1100.0,872.2 L1101.7,872.3 L1103.4,872.4 L1105.1,872.6 L1106.8,872.8 L1108.5,872.9 L1110.2,873.0 L1111.9,873.2 L1113.6,873.3 L1115.4,873.4 L1117.1,873.4 L1118.8,873.3 L1120.5,873.2 L1122.2,872.9 L1123.9,872.7 L1125.6,872.3 L1127.3,872.0 L1129.0,871.5 L1130.7,871.1 L1132.4,870.5 L1134.1,869.9 L1135.8,869.3 L1137.5,868.7 L1139.2,868.0 L1140.9,867.4 L1142.6,866.7 L1144.3,866.0 L1146.0,865.3 L1147.7,864.5 L1149.4,863.6 L1151.2,862.7 L1152.9,861.7 L1154.6,860.0 L1156.3,857.6 L1158.0,854.7 L1159.7,851.9 L1161.4,849.6 L1163.1,848.1 L1164.8,846.9 L1166.5,845.9 L1168.2,845.0 L1169.9,844.3 L1171.6,843.8 L1173.3,843.4 L1175.0,843.3 L1176.7,843.4 L1178.4,843.7 L1180.1,844.0 L1181.8,844.3 L1183.5,844.3 L1185.2,844.0 L1187.0,843.7 L1188.7,843.3 L1190.4,842.9 L1192.1,842.6 L1193.8,842.3 L1195.5,842.0 L1197.2,841.7 L1198.9,841.4 L1200.6,841.1 L1202.3,840.8 L1204.0,840.5 L1205.7,840.2 L1207.4,840.0 L1209.1,839.8 L1210.8,839.6 L1212.5,839.5 L1214.2,839.5 L1215.9,839.5 L1217.6,839.6 L1219.3,839.8 L1221.1,840.1 L1222.8,840.5 L1224.5,841.0 L1226.2,841.6 L1227.9,842.2 L1229.6,842.9 L1231.3,843.6 L1233.0,844.4 L1234.7,845.2 L1236.4,846.1 L1238.1,847.0 L1239.8,848.0 L1241.5,849.0 L1243.2,850.1 L1244.9,851.3 L1246.6,852.9 L1248.3,854.4 L1250.0,855.2 L1251.7,855.7 L1253.4,856.0 L1255.1,856.2 L1256.9,856.3 L1258.6,856.4 L1260.3,856.4 L1262.0,856.4 L1263.7,856.4 L1265.4,856.3 L1267.1,856.3 L1268.8,856.3 L1270.5,856.2 L1272.2,856.2 L1273.9,856.2 L1275.6,856.2 L1277.3,856.3 L1279.0,856.5 L1280.7,856.7 L1282.4,856.9 L1284.1,857.1 L1285.8,857.3 L1287.5,857.5 L1289.2,857.6 L1291.0,857.6 L1292.7,857.6 L1294.4,857.4 L1296.1,857.1 L1297.8,856.8 L1299.5,856.5 L1301.2,856.1 L1302.9,855.7 L1304.6,855.3 L1306.3,854.9 L1308.0,854.4 L1309.7,853.9 L1311.4,853.4 L1313.1,852.7 L1314.8,852.0 L1316.5,850.9 L1318.2,849.6 L1319.9,847.9 L1321.6,846.0 L1323.3,844.1 L1325.0,842.2 L1326.8,840.5 L1328.5,838.9 L1330.2,837.7 L1331.9,836.9 L1333.6,836.2 L1335.3,835.5 L1337.0,834.9 L1338.7,834.4 L1340.4,833.8 L1342.1,833.3 L1343.8,832.8 L1345.5,832.4 L1347.2,832.0 L1348.9,831.6 L1350.6,831.2 L1352.3,830.8 L1354.0,830.4 L1355.7,830.0 L1357.4,829.4 L1359.1,828.8 L1360.8,827.9 L1362.6,827.1 L1364.3,826.2 L1366.0,825.4 L1367.7,824.7 L1369.4,824.1 L1371.1,823.4 L1372.8,822.8 L1374.5,822.3 L1376.2,821.8 L1377.9,821.5 L1379.6,821.2 L1381.3,821.0 L1383.0,821.0 L1384.7,821.2 L1386.4,821.6 L1388.1,822.0 L1389.8,822.6 L1391.5,823.2 L1393.2,823.8 L1394.9,824.4 L1396.7,825.1 L1398.4,825.8 L1400.1,826.6 L1401.8,827.6 L1403.5,828.7 L1405.2,830.0 L1406.9,831.3 L1408.6,832.6 L1410.3,834.0 L1412.0,835.4 L1413.7,837.2 L1415.4,839.2 L1417.1,841.2 L1418.8,843.1 L1420.5,844.4 L1422.2,845.1 L1423.9,845.2 L1425.6,845.1 L1427.3,845.0 L1429.0,844.8 L1430.7,844.5 L1432.5,844.3 L1434.2,844.0 L1435.9,843.9 L1437.6,843.8 L1439.3,843.7 L1441.0,843.5 L1442.7,843.4 L1444.4,843.3 L1446.1,843.2 L1447.8,843.2 L1449.5,843.2 L1451.2,843.2 L1452.9,843.3 L1454.6,843.3 L1456.3,843.4 L1458.0,843.4 L1459.7,843.4 L1461.4,843.3 L1463.1,843.2 L1464.8,842.9 L1466.6,842.4 L1468.3,841.9 L1470.0,841.3 L1471.7,840.7 L1473.4,840.0 L1475.1,839.3 L1476.8,838.7 L1478.5,838.0 L1480.2,837.3 L1481.9,836.5 L1483.6,835.6 L1485.3,834.7 L1487.0,833.6 L1488.7,832.2 L1490.4,830.6 L1492.1,828.9 L1493.8,827.1 L1495.5,825.4 L1497.2,823.8 L1498.9,822.3 L1500.6,821.1 L1502.4,819.9 L1504.1,818.8 L1505.8,817.8 L1507.5,817.0 L1509.2,816.4 L1510.9,816.1 L1512.6,815.7 L1514.3,815.5 L1516.0,815.2 L1517.7,814.9 L1519.4,814.6 L1521.1,814.4 L1522.8,814.1 L1524.5,813.8 L1526.2,813.5 L1527.9,813.2 L1529.6,812.8 L1531.3,812.5 L1533.0,812.1 L1534.7,811.8 L1536.4,811.4 L1538.2,811.1 L1539.9,810.7 L1541.6,810.4 L1543.3,810.0 L1545.0,809.7 L1546.7,809.5 L1548.4,809.3 L1550.1,809.2 L1551.8,809.1 L1553.5,809.2 L1555.2,809.4 L1556.9,809.9 L1558.6,810.4 L1560.3,811.0 L1562.0,811.6 L1563.7,812.2 L1565.4,812.8 L1567.1,813.4 L1568.8,814.0 L1570.5,814.6 L1572.3,815.1 L1574.0,815.6 L1575.7,816.1 L1577.4,816.5 L1579.1,816.9 L1580.8,817.4 L1582.5,817.9 L1584.2,818.8 L1585.9,820.0 L1587.6,821.0 L1589.3,821.6 L1591.0,822.0 L1592.7,822.2 L1594.4,822.4 L1596.1,822.4 L1597.8,822.4 L1599.5,822.4 L1601.2,822.3 L1602.9,822.1 L1604.6,821.9 L1606.3,821.7 L1608.1,821.5 L1609.8,821.4 L1611.5,821.4 L1613.2,821.4 L1614.9,821.7 L1616.6,822.0 L1618.3,822.3 L1620.0,822.5 L1621.7,822.6 L1623.4,822.7 L1625.1,822.7 L1626.8,822.7 L1628.5,822.7 L1630.2,822.7 L1631.9,822.6 L1633.6,822.5 L1635.3,822.4 L1637.0,822.3 L1638.7,822.1 L1640.4,821.8 L1642.2,821.4 L1643.9,821.0 L1645.6,820.4 L1647.3,819.7 L1649.0,818.8 L1650.7,818.0 L1652.4,817.0 L1654.1,816.0 L1655.8,814.8 L1657.5,813.5 L1659.2,812.2 L1660.9,810.7 L1662.6,809.3 L1664.3,807.8 L1666.0,806.4 L1667.7,805.0 L1669.4,803.7 L1671.1,802.5 L1672.8,801.4 L1674.5,800.5 L1676.2,799.7 L1678.0,799.1 L1679.7,798.5 L1681.4,797.9 L1683.1,797.4 L1684.8,796.8 L1686.5,796.3 L1688.2,795.8 L1689.9,795.4 L1691.6,794.9 L1693.3,794.4 L1695.0,794.0 L1696.7,793.5 L1698.4,793.1 L1700.1,792.6 L1701.8,792.2 L1703.5,791.7 L1705.2,791.2 L1706.9,790.7 L1708.6,790.1 L1710.3,789.6 L1712.0,789.0 L1713.8,788.5 L1715.5,788.0 L1717.2,787.7 L1718.9,787.4 L1720.6,787.3 L1722.3,787.2 L1724.0,787.3 L1725.7,787.4 L1727.4,787.7 L1729.1,788.1 L1730.8,788.6 L1732.5,789.2 L1734.2,789.9 L1735.9,790.8 L1737.6,791.7 L1739.3,792.7 L1741.0,793.7 L1742.7,794.7 L1744.4,795.7 L1746.1,796.8 L1747.9,797.8 L1749.6,798.9 L1751.3,800.1 L1753.0,801.5 L1754.7,803.0 L1756.4,804.5 L1758.1,805.8 L1759.8,807.0 L1761.5,807.8 L1763.2,808.2 L1764.9,808.5 L1766.6,808.5 L1768.3,808.4 L1770.0,808.3 L1771.7,808.3 L1773.4,808.2 L1775.1,808.0 L1776.8,807.9 L1778.5,807.7 L1780.2,807.6 L1781.9,807.5 L1783.7,807.4 L1785.4,807.4 L1787.1,807.6 L1788.8,807.9 L1790.5,808.3 L1792.2,808.7 L1793.9,808.9 L1795.6,809.1 L1797.3,809.2 L1799.0,809.3 L1800.7,809.3 L1802.4,809.3 L1804.1,809.3 L1805.8,809.2 L1807.5,809.1 L1809.2,809.0 L1810.9,808.9 L1812.6,808.6 L1814.3,808.3 L1816.0,807.8 L1817.8,807.1 L1819.5,806.4 L1821.2,805.6 L1822.9,804.6 L1824.6,803.6 L1826.3,802.6 L1828.0,801.3 L1829.7,799.8 L1831.4,798.0 L1833.1,796.0 L1834.8,794.0 L1836.5,791.9 L1838.2,789.8 L1839.9,787.8 L1841.6,785.9 L1843.3,784.2 L1845.0,782.7 L1846.7,781.6 L1848.4,780.7 L1850.1,779.9 L1851.8,779.2 L1853.6,778.6 L1855.3,778.2 L1857.0,778.0 L1858.7,777.9 L1860.4,777.9 L1862.1,778.0 L1863.8,778.1 L1865.5,778.2 L1867.2,778.3 L1868.9,778.2 L1870.6,778.0 L1872.3,777.9 L1874.0,777.7 L1875.7,777.4 L1877.4,777.1 L1879.1,776.8 L1880.8,776.4 L1882.5,776.0 L1884.2,775.7 L1885.9,775.4 L1887.6,775.1 L1889.4,774.8 L1891.1,774.6 L1892.8,774.4 L1894.5,774.2 L1896.2,774.1 L1897.9,774.2 L1899.6,774.4 L1901.3,774.8 L1903.0,775.3 L1904.7,775.8 L1906.4,776.3 L1908.1,776.9 L1909.8,777.5 L1911.5,778.1 L1913.2,778.7 L1914.9,779.3 L1916.6,780.1 L1918.3,781.0 L1920.0,782.0 L1921.7,783.0 L1923.5,784.0 L1925.2,785.1 L1926.9,786.2 L1928.6,787.3 L1930.3,788.4 L1932.0,789.5 L1933.7,790.6 L1935.4,791.5 L1937.1,792.3 L1938.8,793.0 L1940.5,793.6" fill="none" stroke="#3953a4" stroke-width="12.1" stroke-dasharray="32 7.25 16.5 7.25" stroke-dashoffset="6" stroke-linejoin="round"/>
<path d="M235.8,809.8 L235.8,808.3 L235.9,806.8 L235.9,805.3 L235.9,803.8 L235.9,802.3 L236.0,800.8 L236.0,799.3 L236.0,797.8 L236.0,796.3 L236.1,794.8 L236.1,793.2 L236.1,791.7 L236.1,790.2 L236.2,788.7 L236.2,787.2 L236.2,785.7 L236.3,784.2 L236.3,782.7 L236.3,781.2 L236.3,779.7 L236.4,778.2 L236.4,776.7 L236.4,775.2 L236.5,773.7 L236.5,772.2 L236.5,770.7 L236.6,769.2 L236.6,767.7 L236.6,766.2 L236.7,764.7 L236.7,763.2 L236.7,761.6 L236.8,760.1 L236.9,758.6 L237.0,757.1 L237.1,755.6 L237.2,754.1 L237.6,752.7 L238.1,751.2 L238.9,749.9 L239.7,748.7 L240.5,747.4 L241.3,746.1 L242.0,744.8 L242.6,743.4 L242.8,741.9 L243.0,740.4 L243.1,738.9 L243.2,737.4 L243.3,735.9 L243.4,734.4 L243.6,732.9 L243.7,731.4 L243.8,729.9 L243.9,728.4 L244.0,726.9 L244.0,725.4 L244.1,723.9 L244.2,722.4 L244.3,720.9 L244.4,719.4 L244.6,717.9 L244.8,716.4 L245.0,714.9 L245.1,713.4 L245.2,711.9 L245.3,710.4 L245.4,708.9 L245.4,707.4 L245.5,705.9 L245.6,704.4 L245.7,702.9 L245.7,701.4 L245.8,699.9 L245.9,698.4 L246.0,696.9 L246.0,695.4 L246.1,693.9 L246.2,692.4 L246.2,690.9 L246.3,689.4 L246.4,687.8 L246.5,686.3 L246.5,684.8 L246.6,683.3 L246.7,681.8 L246.8,680.3 L246.8,678.8 L246.9,677.3 L247.0,675.8 L247.1,674.3 L247.1,672.8 L247.2,671.3 L247.3,669.8 L247.4,668.3 L247.4,666.8 L247.5,665.3 L247.6,663.8 L247.7,662.3 L247.7,660.8 L247.8,659.3 L247.9,657.8 L248.0,656.3 L248.0,654.8 L248.1,653.3 L248.2,651.8 L248.3,650.3 L248.3,648.8 L248.4,647.3 L248.5,645.8 L248.6,644.3 L248.7,642.8 L248.9,641.3 L249.0,639.8 L249.1,638.3 L249.3,636.8 L249.4,635.3 L249.6,633.8 L249.9,632.3 L250.2,630.8 L250.6,629.4 L250.9,627.9 L251.3,626.4 L251.7,625.0 L252.2,623.6 L252.7,622.1 L253.3,620.7 L253.9,619.4 L254.8,618.2 L256.0,617.0 L257.2,616.9 L258.4,618.0 L259.4,619.3 L260.0,620.6 L260.5,622.0 L260.9,623.5 L261.3,624.9 L261.7,626.4 L262.0,627.8 L262.3,629.3 L262.6,630.8 L262.9,632.3 L263.2,633.7 L263.5,635.2 L263.7,636.7 L264.0,638.2 L264.2,639.7 L264.4,641.2 L264.7,642.6 L264.9,644.1 L265.1,645.6 L265.3,647.1 L265.5,648.6 L265.7,650.1 L265.9,651.6 L266.1,653.1 L266.3,654.6 L266.5,656.1 L266.7,657.6 L266.9,659.1 L267.1,660.5 L267.2,662.0 L267.4,663.5 L267.6,665.0 L267.8,666.5 L268.0,668.0 L268.2,669.5 L268.4,671.0 L268.6,672.5 L268.7,674.0 L268.9,675.5 L269.1,677.0 L269.3,678.5 L269.5,680.0 L269.7,681.5 L269.9,682.9 L270.1,684.4 L270.2,685.9 L270.4,687.4 L270.6,688.9 L270.8,690.4 L271.0,691.9 L271.2,693.4 L271.3,694.9 L271.5,696.4 L271.7,697.9 L271.9,699.4 L272.1,700.9 L272.3,702.4 L272.4,703.9 L272.6,705.4 L272.8,706.8 L273.0,708.3 L273.2,709.8 L273.4,711.3 L273.6,712.8 L273.8,714.3 L274.0,715.8 L274.2,717.3 L274.4,718.8 L274.6,720.3 L274.8,721.8 L275.1,723.2 L275.3,724.7 L275.5,726.2 L275.7,727.7 L275.9,729.2 L276.1,730.7 L276.3,732.2 L276.5,733.7 L276.7,735.2 L276.9,736.7 L277.1,738.2 L277.3,739.7 L277.4,741.1 L277.6,742.6 L277.8,744.1 L278.0,745.6 L278.2,747.1 L278.3,748.6 L278.5,750.1 L278.7,751.6 L278.9,753.1 L279.1,754.6 L279.2,756.1 L279.4,757.6 L279.6,759.1 L279.8,760.6 L280.0,762.1 L280.2,763.6 L280.4,765.1 L280.5,766.5 L280.7,768.0 L280.9,769.5 L281.1,771.0 L281.3,772.5 L281.5,774.0 L281.7,775.5 L281.9,777.0 L282.1,778.5 L282.3,780.0 L282.6,781.5 L282.8,782.9 L283.0,784.4 L283.2,785.9 L283.5,787.4 L283.7,788.9 L283.9,790.4 L284.1,791.9 L284.4,793.4 L284.6,794.9 L284.8,796.3 L285.1,797.8 L285.3,799.3 L285.6,800.8 L285.8,802.3 L286.1,803.8 L286.3,805.2 L286.6,806.7 L286.9,808.2 L287.1,809.7 L287.4,811.2 L287.6,812.7 L287.9,814.1 L288.2,815.6 L288.5,817.1 L288.9,818.5 L289.2,820.0 L289.5,821.5 L289.8,823.0 L290.1,824.4 L290.5,825.8 L291.0,827.2 L291.8,828.6 L292.9,830.0 L294.2,830.9 L295.4,831.0 L296.8,830.4 L298.0,829.3 L299.0,828.1 L299.9,826.8 L300.7,825.5 L301.4,824.2 L302.1,823.0 L303.0,821.7 L303.8,820.5 L304.7,819.3 L305.6,818.1 L306.5,816.9 L307.6,815.7 L308.8,814.8 L310.2,814.2 L311.6,814.0 L313.1,814.3 L314.6,814.9 L315.9,815.7 L317.1,816.5 L318.3,817.4 L319.5,818.3 L320.7,819.3 L321.9,820.2 L323.0,821.1 L324.2,822.1 L325.4,823.0 L326.6,823.9 L327.8,824.8 L329.0,825.7 L330.3,826.5 L331.7,827.2 L333.1,827.7 L334.6,828.1 L336.0,828.4 L337.5,828.6 L339.0,828.8 L340.5,829.0 L342.0,829.2 L343.5,829.4 L345.0,829.6 L346.5,829.8 L348.0,830.0 L349.5,830.1 L351.0,830.3 L352.5,830.5 L354.0,830.7 L355.5,830.9 L356.9,831.0 L358.4,831.2 L359.9,831.4 L361.4,831.6 L362.9,831.8 L364.4,832.0 L365.9,832.1 L367.4,832.3 L368.9,832.5 L370.4,832.7 L371.9,832.9 L373.4,833.1 L374.9,833.3 L376.4,833.5 L377.9,833.7 L379.3,833.8 L380.8,834.0 L382.3,834.2 L383.8,834.4 L385.3,834.6 L386.8,834.8 L388.3,834.9 L389.8,835.1 L391.3,835.3 L392.8,835.4 L394.3,835.6 L395.8,835.7 L397.3,835.8 L398.8,836.0 L400.3,836.1 L401.8,836.2 L403.3,836.3 L404.8,836.4 L406.5,836.5 L408.2,836.6 L409.9,836.8 L411.6,836.9 L413.3,837.0 L415.0,837.1 L416.7,837.2 L418.5,837.3 L420.2,837.5 L421.9,837.6 L423.6,837.7 L425.3,837.8 L427.0,838.0 L428.7,838.1 L430.4,838.2 L432.1,838.3 L433.8,838.5 L435.5,838.6 L437.2,838.8 L438.9,838.9 L440.6,839.0 L442.3,839.2 L444.0,839.3 L445.8,839.5 L447.5,839.6 L449.2,839.8 L450.9,840.0 L452.6,840.1 L454.3,840.3 L456.0,840.4 L457.7,840.6 L459.4,840.8 L461.1,840.9 L462.8,841.1 L464.5,841.2 L466.2,841.4 L467.9,841.6 L469.6,841.7 L471.3,841.9 L473.1,842.0 L474.8,842.2 L476.5,842.3 L478.2,842.5 L479.9,842.6 L481.6,842.8 L483.3,843.0 L485.0,843.1 L486.7,843.3 L488.4,843.4 L490.1,843.6 L491.8,843.7 L493.5,843.9 L495.2,844.0 L496.9,844.2 L498.6,844.3 L500.4,844.5 L502.1,844.6 L503.8,844.8 L505.5,844.9 L507.2,845.1 L508.9,845.2 L510.6,845.4 L512.3,845.5 L514.0,845.6 L515.7,845.8 L517.4,845.9 L519.1,846.1 L520.8,846.2 L522.5,846.4 L524.2,846.5 L525.9,846.7 L527.7,846.8 L529.4,846.9 L531.1,847.1 L532.8,847.2 L534.5,847.4 L536.2,847.5 L537.9,847.6 L539.6,847.8 L541.3,847.9 L543.0,848.1 L544.7,848.2 L546.4,848.3 L548.1,848.5 L549.8,848.6 L551.5,848.7 L553.3,848.9 L555.0,849.0 L556.7,849.2 L558.4,849.3 L560.1,849.4 L561.8,849.6 L563.5,849.7 L565.2,849.8 L566.9,849.9 L568.6,850.1 L570.3,850.2 L572.0,850.3 L573.7,850.5 L575.4,850.6 L577.1,850.7 L578.8,850.9 L580.6,851.0 L582.3,851.1 L584.0,851.2 L585.7,851.4 L587.4,851.5 L589.1,851.6 L590.8,851.7 L592.5,851.9 L594.2,852.0 L595.9,852.1 L597.6,852.2 L599.3,852.3 L601.0,852.5 L602.7,852.6 L604.4,852.7 L606.1,852.8 L607.9,852.9 L609.6,853.1 L611.3,853.2 L613.0,853.3 L614.7,853.4 L616.4,853.5 L618.1,853.6 L619.8,853.8 L621.5,853.9 L623.2,854.0 L624.9,854.1 L626.6,854.2 L628.3,854.3 L630.0,854.4 L631.7,854.5 L633.4,854.6 L635.2,854.8 L636.9,854.9 L638.6,855.0 L640.3,855.1 L642.0,855.2 L643.7,855.3 L645.4,855.4 L647.1,855.5 L648.8,855.6 L650.5,855.7 L652.2,855.8 L653.9,855.9 L655.6,856.0 L657.3,856.1 L659.0,856.2 L660.8,856.3 L662.5,856.4 L664.2,856.5 L665.9,856.6 L667.6,856.7 L669.3,856.8 L671.0,856.9 L672.7,857.0 L674.4,857.1 L676.1,857.2 L677.8,857.3 L679.5,857.4 L681.2,857.5 L682.9,857.6 L684.6,857.7 L686.3,857.7 L688.1,857.8 L689.8,857.9 L691.5,858.0 L693.2,858.1 L694.9,858.2 L696.6,858.3 L698.3,858.4 L700.0,858.4 L701.7,858.5 L703.4,858.6 L705.1,858.7 L706.8,858.8 L708.5,858.9 L710.2,858.9 L711.9,859.0 L713.6,859.1 L715.4,859.2 L717.1,859.3 L718.8,859.3 L720.5,859.4 L722.2,859.5 L723.9,859.6 L725.6,859.6 L727.3,859.7 L729.0,859.8 L730.7,859.9 L732.4,859.9 L734.1,860.0 L735.8,860.1 L737.5,860.2 L739.2,860.2 L740.9,860.3 L742.7,860.4 L744.4,860.4 L746.1,860.5 L747.8,860.6 L749.5,860.6 L751.2,860.7 L752.9,860.8 L754.6,860.8 L756.3,860.9 L758.0,861.0 L759.7,861.0 L761.4,861.1 L763.1,861.1 L764.8,861.2 L766.5,861.3 L768.2,861.3 L770.0,861.4 L771.7,861.4 L773.4,861.5 L775.1,861.5 L776.8,861.6 L778.5,861.7 L780.2,861.7 L781.9,861.8 L783.6,861.8 L785.3,861.9 L787.0,861.9 L788.7,862.0 L790.4,862.0 L792.1,862.1 L793.8,862.1 L795.6,862.2 L797.3,862.2 L799.0,862.2 L800.7,862.3 L802.4,862.3 L804.1,862.4 L805.8,862.4 L807.5,862.5 L809.2,862.5 L810.9,862.5 L812.6,862.6 L814.3,862.6 L816.0,862.7 L817.7,862.7 L819.4,862.7 L821.1,862.8 L822.9,862.8 L824.6,862.8 L826.3,862.9 L828.0,862.9 L829.7,862.9 L831.4,863.0 L833.1,863.0 L834.8,863.0 L836.5,863.1 L838.2,863.1 L839.9,863.1 L841.6,863.2 L843.3,863.2 L845.0,863.2 L846.7,863.2 L848.4,863.3 L850.2,863.3 L851.9,863.3 L853.6,863.3 L855.3,863.4 L857.0,863.4 L858.7,863.4 L860.4,863.4 L862.1,863.4 L863.8,863.5 L865.5,863.5 L867.2,863.5 L868.9,863.5 L870.6,863.5 L872.3,863.5 L874.0,863.5 L875.7,863.6 L877.5,863.6 L879.2,863.6 L880.9,863.6 L882.6,863.6 L884.3,863.6 L886.0,863.6 L887.7,863.6 L889.4,863.6 L891.1,863.6 L892.8,863.7 L894.5,863.7 L896.2,863.7 L897.9,863.7 L899.6,863.7 L901.3,863.7 L903.0,863.7 L904.8,863.7 L906.5,863.7 L908.2,863.7 L909.9,863.7 L911.6,863.7 L913.3,863.7 L915.0,863.7 L916.7,863.7 L918.4,863.6 L920.1,863.6 L921.8,863.6 L923.5,863.6 L925.2,863.6 L926.9,863.6 L928.6,863.6 L930.4,863.6 L932.1,863.6 L933.8,863.6 L935.5,863.6 L937.2,863.5 L938.9,863.5 L940.6,863.5 L942.3,863.5 L944.0,863.5 L945.7,863.5 L947.4,863.4 L949.1,863.4 L950.8,863.4 L952.5,863.4 L954.2,863.4 L955.9,863.3 L957.7,863.3 L959.4,863.3 L961.1,863.3 L962.8,863.3 L964.5,863.2 L966.2,863.2 L967.9,863.2 L969.6,863.1 L971.3,863.1 L973.0,863.1 L974.7,863.1 L976.4,863.0 L978.1,863.0 L979.8,863.0 L981.5,862.9 L983.2,862.9 L985.0,862.9 L986.7,862.8 L988.4,862.8 L990.1,862.8 L991.8,862.7 L993.5,862.7 L995.2,862.7 L996.9,862.6 L998.6,862.6 L1000.3,862.5 L1002.0,862.5 L1003.7,862.5 L1005.4,862.4 L1007.1,862.4 L1008.8,862.3 L1010.5,862.3 L1012.3,862.2 L1014.0,862.2 L1015.7,862.1 L1017.4,862.1 L1019.1,862.0 L1020.8,862.0 L1022.5,861.9 L1024.2,861.9 L1025.9,861.8 L1027.6,861.8 L1029.3,861.7 L1031.0,861.7 L1032.7,861.6 L1034.4,861.6 L1036.1,861.5 L1037.8,861.5 L1039.6,861.4 L1041.3,861.4 L1043.0,861.3 L1044.7,861.2 L1046.4,861.2 L1048.1,861.1 L1049.8,861.1 L1051.5,861.0 L1053.2,860.9 L1054.9,860.9 L1056.6,860.8 L1058.3,860.7 L1060.0,860.7 L1061.7,860.6 L1063.4,860.5 L1065.2,860.5 L1066.9,860.4 L1068.6,860.3 L1070.3,860.3 L1072.0,860.2 L1073.7,860.1 L1075.4,860.1 L1077.1,860.0 L1078.8,859.9 L1080.5,859.8 L1082.2,859.8 L1083.9,859.7 L1085.6,859.6 L1087.3,859.6 L1089.0,859.5 L1090.7,859.4 L1092.5,859.3 L1094.2,859.2 L1095.9,859.2 L1097.6,859.1 L1099.3,859.0 L1101.0,858.9 L1102.7,858.8 L1104.4,858.8 L1106.1,858.7 L1107.8,858.6 L1109.5,858.5 L1111.2,858.4 L1112.9,858.3 L1114.6,858.2 L1116.3,858.2 L1118.0,858.1 L1119.8,858.0 L1121.5,857.9 L1123.2,857.8 L1124.9,857.7 L1126.6,857.6 L1128.3,857.5 L1130.0,857.4 L1131.7,857.3 L1133.4,857.3 L1135.1,857.2 L1136.8,857.1 L1138.5,857.0 L1140.2,856.9 L1141.9,856.8 L1143.6,856.7 L1145.3,856.6 L1147.1,856.5 L1148.8,856.4 L1150.5,856.3 L1152.2,856.2 L1153.9,856.1 L1155.6,856.0 L1157.3,855.9 L1159.0,855.8 L1160.7,855.7 L1162.4,855.6 L1164.1,855.5 L1165.8,855.4 L1167.5,855.3 L1169.2,855.2 L1170.9,855.0 L1172.7,854.9 L1174.4,854.8 L1176.1,854.7 L1177.8,854.6 L1179.5,854.5 L1181.2,854.4 L1182.9,854.3 L1184.6,854.2 L1186.3,854.1 L1188.0,853.9 L1189.7,853.8 L1191.4,853.7 L1193.1,853.6 L1194.8,853.5 L1196.5,853.4 L1198.2,853.3 L1200.0,853.1 L1201.7,853.0 L1203.4,852.9 L1205.1,852.8 L1206.8,852.7 L1208.5,852.5 L1210.2,852.4 L1211.9,852.3 L1213.6,852.2 L1215.3,852.1 L1217.0,851.9 L1218.7,851.8 L1220.4,851.7 L1222.1,851.6 L1223.8,851.4 L1225.5,851.3 L1227.3,851.2 L1229.0,851.1 L1230.7,850.9 L1232.4,850.8 L1234.1,850.7 L1235.8,850.6 L1237.5,850.4 L1239.2,850.3 L1240.9,850.2 L1242.6,850.0 L1244.3,849.9 L1246.0,849.8 L1247.7,849.6 L1249.4,849.5 L1251.1,849.4 L1252.8,849.2 L1254.6,849.1 L1256.3,849.0 L1258.0,848.8 L1259.7,848.7 L1261.4,848.6 L1263.1,848.4 L1264.8,848.3 L1266.5,848.2 L1268.2,848.0 L1269.9,847.9 L1271.6,847.7 L1273.3,847.6 L1275.0,847.5 L1276.7,847.3 L1278.4,847.2 L1280.1,847.0 L1281.9,846.9 L1283.6,846.8 L1285.3,846.6 L1287.0,846.5 L1288.7,846.3 L1290.4,846.2 L1292.1,846.0 L1293.8,845.9 L1295.5,845.8 L1297.2,845.6 L1298.9,845.5 L1300.6,845.3 L1302.3,845.2 L1304.0,845.0 L1305.7,844.9 L1307.5,844.7 L1309.2,844.6 L1310.9,844.4 L1312.6,844.3 L1314.3,844.1 L1316.0,844.0 L1317.7,843.8 L1319.4,843.7 L1321.1,843.5 L1322.8,843.4 L1324.5,843.2 L1326.2,843.1 L1327.9,842.9 L1329.6,842.8 L1331.3,842.6 L1333.0,842.4 L1334.8,842.3 L1336.5,842.1 L1338.2,842.0 L1339.9,841.8 L1341.6,841.7 L1343.3,841.5 L1345.0,841.3 L1346.7,841.2 L1348.4,841.0 L1350.1,840.9 L1351.8,840.7 L1353.5,840.6 L1355.2,840.4 L1356.9,840.2 L1358.6,840.1 L1360.3,839.9 L1362.1,839.8 L1363.8,839.6 L1365.5,839.4 L1367.2,839.3 L1368.9,839.1 L1370.6,838.9 L1372.3,838.8 L1374.0,838.6 L1375.7,838.5 L1377.4,838.3 L1379.1,838.1 L1380.8,838.0 L1382.5,837.8 L1384.2,837.6 L1385.9,837.5 L1387.6,837.3 L1389.4,837.1 L1391.1,837.0 L1392.8,836.8 L1394.5,836.6 L1396.2,836.5 L1397.9,836.3 L1399.6,836.1 L1401.3,836.0 L1403.0,835.8 L1404.7,835.6 L1406.4,835.4 L1408.1,835.3 L1409.8,835.1 L1411.5,834.9 L1413.2,834.8 L1414.9,834.6 L1416.7,834.4 L1418.4,834.3 L1420.1,834.1 L1421.8,833.9 L1423.5,833.7 L1425.2,833.6 L1426.9,833.4 L1428.6,833.2 L1430.3,833.0 L1432.0,832.9 L1433.7,832.7 L1435.4,832.5 L1437.1,832.4 L1438.8,832.2 L1440.5,832.0 L1442.3,831.8 L1444.0,831.7 L1445.7,831.5 L1447.4,831.3 L1449.1,831.1 L1450.8,831.0 L1452.5,830.8 L1454.2,830.6 L1455.9,830.4 L1457.6,830.2 L1459.3,830.1 L1461.0,829.9 L1462.7,829.7 L1464.4,829.5 L1466.1,829.4 L1467.8,829.2 L1469.6,829.0 L1471.3,828.8 L1473.0,828.6 L1474.7,828.5 L1476.4,828.3 L1478.1,828.1 L1479.8,827.9 L1481.5,827.8 L1483.2,827.6 L1484.9,827.4 L1486.6,827.2 L1488.3,827.0 L1490.0,826.9 L1491.7,826.7 L1493.4,826.5 L1495.1,826.3 L1496.9,826.1 L1498.6,826.0 L1500.3,825.8 L1502.0,825.6 L1503.7,825.4 L1505.4,825.2 L1507.1,825.0 L1508.8,824.9 L1510.5,824.7 L1512.2,824.5 L1513.9,824.3 L1515.6,824.1 L1517.3,824.0 L1519.0,823.8 L1520.7,823.6 L1522.4,823.4 L1524.2,823.2 L1525.9,823.0 L1527.6,822.9 L1529.3,822.7 L1531.0,822.5 L1532.7,822.3 L1534.4,822.1 L1536.1,822.0 L1537.8,821.8 L1539.5,821.6 L1541.2,821.4 L1542.9,821.2 L1544.6,821.0 L1546.3,820.9 L1548.0,820.7 L1549.7,820.5 L1551.5,820.3 L1553.2,820.1 L1554.9,819.9 L1556.6,819.8 L1558.3,819.6 L1560.0,819.4 L1561.7,819.2 L1563.4,819.0 L1565.1,818.8 L1566.8,818.7 L1568.5,818.5 L1570.2,818.3 L1571.9,818.1 L1573.6,817.9 L1575.3,817.7 L1577.1,817.5 L1578.8,817.4 L1580.5,817.2 L1582.2,817.0 L1583.9,816.8 L1585.6,816.6 L1587.3,816.4 L1589.0,816.3 L1590.7,816.1 L1592.4,815.9 L1594.1,815.7 L1595.8,815.5 L1597.5,815.3 L1599.2,815.2 L1600.9,815.0 L1602.6,814.8 L1604.4,814.6 L1606.1,814.4 L1607.8,814.2 L1609.5,814.1 L1611.2,813.9 L1612.9,813.7 L1614.6,813.5 L1616.3,813.3 L1618.0,813.1 L1619.7,813.0 L1621.4,812.8 L1623.1,812.6 L1624.8,812.4 L1626.5,812.2 L1628.2,812.1 L1629.9,811.9 L1631.7,811.7 L1633.4,811.5 L1635.1,811.3 L1636.8,811.1 L1638.5,811.0 L1640.2,810.8 L1641.9,810.6 L1643.6,810.4 L1645.3,810.2 L1647.0,810.1 L1648.7,809.9 L1650.4,809.7 L1652.1,809.5 L1653.8,809.3 L1655.5,809.2 L1657.2,809.0 L1659.0,808.8 L1660.7,808.6 L1662.4,808.4 L1664.1,808.3 L1665.8,808.1 L1667.5,807.9 L1669.2,807.7 L1670.9,807.5 L1672.6,807.4 L1674.3,807.2 L1676.0,807.0 L1677.7,806.8 L1679.4,806.6 L1681.1,806.5 L1682.8,806.3 L1684.6,806.1 L1686.3,805.9 L1688.0,805.8 L1689.7,805.6 L1691.4,805.4 L1693.1,805.2 L1694.8,805.0 L1696.5,804.9 L1698.2,804.7 L1699.9,804.5 L1701.6,804.3 L1703.3,804.2 L1705.0,804.0 L1706.7,803.8 L1708.4,803.6 L1710.1,803.5 L1711.9,803.3 L1713.6,803.1 L1715.3,802.9 L1717.0,802.8 L1718.7,802.6 L1720.4,802.4 L1722.1,802.2 L1723.8,802.1 L1725.5,801.9 L1727.2,801.7 L1728.9,801.6 L1730.6,801.4 L1732.3,801.2 L1734.0,801.0 L1735.7,800.9 L1737.4,800.7 L1739.2,800.5 L1740.9,800.4 L1742.6,800.2 L1744.3,800.0 L1746.0,799.9 L1747.7,799.7 L1749.4,799.5 L1751.1,799.4 L1752.8,799.2 L1754.5,799.0 L1756.2,798.8 L1757.9,798.7 L1759.6,798.5 L1761.3,798.3 L1763.0,798.2 L1764.7,798.0 L1766.5,797.8 L1768.2,797.7 L1769.9,797.5 L1771.6,797.4 L1773.3,797.2 L1775.0,797.0 L1776.7,796.9 L1778.4,796.7 L1780.1,796.5 L1781.8,796.4 L1783.5,796.2 L1785.2,796.1 L1786.9,795.9 L1788.6,795.7 L1790.3,795.6 L1792.0,795.4 L1793.8,795.2 L1795.5,795.1 L1797.2,794.9 L1798.9,794.8 L1800.6,794.6 L1802.3,794.5 L1804.0,794.3 L1805.7,794.1 L1807.4,794.0 L1809.1,793.8 L1810.8,793.7 L1812.5,793.5 L1814.2,793.4 L1815.9,793.2 L1817.6,793.0 L1819.4,792.9 L1821.1,792.7 L1822.8,792.6 L1824.5,792.4 L1826.2,792.3 L1827.9,792.1 L1829.6,792.0 L1831.3,791.8 L1833.0,791.7 L1834.7,791.5 L1836.4,791.4 L1838.1,791.2 L1839.8,791.1 L1841.5,790.9 L1843.2,790.8 L1844.9,790.6 L1846.7,790.5 L1848.4,790.3 L1850.1,790.2 L1851.8,790.0 L1853.5,789.9 L1855.2,789.7 L1856.9,789.6 L1858.6,789.5 L1860.3,789.3 L1862.0,789.2 L1863.7,789.0 L1865.4,788.9 L1867.1,788.7 L1868.8,788.6 L1870.5,788.5 L1872.2,788.3 L1874.0,788.2 L1875.7,788.0 L1877.4,787.9 L1879.1,787.8 L1880.8,787.6 L1882.5,787.5 L1884.2,787.3 L1885.9,787.2 L1887.6,787.1 L1889.3,786.9 L1891.0,786.8 L1892.7,786.7 L1894.4,786.5 L1896.1,786.4 L1897.8,786.3 L1899.5,786.1 L1901.3,786.0 L1903.0,785.9 L1904.7,785.7 L1906.4,785.6 L1908.1,785.5 L1909.8,785.3 L1911.5,785.2 L1913.2,785.1 L1914.9,784.9 L1916.6,784.8 L1918.3,784.7 L1920.0,784.6 L1921.7,784.4 L1923.4,784.3 L1925.1,784.2 L1926.8,784.1 L1928.6,783.9 L1930.3,783.8 L1932.0,783.7 L1933.7,783.6 L1935.4,783.4 L1937.1,783.3 L1938.8,783.2 L1940.5,783.1" fill="none" stroke="#ed1c24" stroke-width="12.1" stroke-linejoin="round"/>
<g font-family="'Liberation Serif', 'Times New Roman', serif" font-size="64" fill="#4b4c4e">
<text x="213.5" y="685.7" text-anchor="end">0.4</text>
<text x="213.5" y="762.1" text-anchor="end">0.2</text>
<text x="213.5" y="838.6" text-anchor="end">0</text>
<text x="236.0" y="957.5" text-anchor="middle">0</text>
<text x="576.9" y="957.5" text-anchor="middle">20</text>
<text x="917.8" y="957.5" text-anchor="middle">40</text>
<text x="1258.7" y="957.5" text-anchor="middle">60</text>
<text x="1599.6" y="957.5" text-anchor="middle">80</text>
<text x="1939.9" y="957.5" text-anchor="middle">100</text>
</g>
<text font-family="'Liberation Serif', 'Times New Roman', serif" fill="#4b4c4e"><tspan x="1038.7" y="1037.4" font-size="81.0" font-style="italic" textLength="25.7" lengthAdjust="spacingAndGlyphs">t</tspan><tspan x="1069.4" y="1046.6" font-family="'DejaVu Sans Light', 'DejaVu Sans', 'Liberation Sans', sans-serif" font-weight="200" font-size="88.0" font-style="normal" textLength="31.0" lengthAdjust="spacingAndGlyphs">/</tspan><tspan x="1103.7" y="1037.4" font-size="69.0" font-style="italic" textLength="30.8" lengthAdjust="spacingAndGlyphs">s</tspan></text>
<text transform="translate(94.4,894.2) rotate(-90)" font-family="'Liberation Serif', 'Times New Roman', serif" fill="#4b4c4e"><tspan x="9.4" y="0.0" font-size="69.0" font-style="italic" textLength="33.2" lengthAdjust="spacingAndGlyphs">v</tspan><tspan x="46.1" y="8.8" font-family="'DejaVu Sans Light', 'DejaVu Sans', 'Liberation Sans', sans-serif" font-weight="200" font-size="88.0" font-style="normal" textLength="32.0" lengthAdjust="spacingAndGlyphs">/</tspan><tspan x="76.7" y="0.0" font-size="69.0" font-style="italic" textLength="66.2" lengthAdjust="spacingAndGlyphs">m</tspan><tspan x="149.7" y="10.0" font-size="88.0" font-style="normal" textLength="29.5" lengthAdjust="spacingAndGlyphs">·</tspan><tspan x="191.2" y="0.0" font-size="69.0" font-style="italic" textLength="30.6" lengthAdjust="spacingAndGlyphs">s</tspan><tspan x="222.1" y="-15.8" font-size="66.0" font-style="normal" textLength="36.0" lengthAdjust="spacingAndGlyphs">−</tspan><tspan x="258.3" y="-24.9" font-size="50.4" font-style="normal" textLength="24.7" lengthAdjust="spacingAndGlyphs">1</tspan></text>
</g>
<g id="ax2">
<path d="M236.0,1131.5 h18.9 M1940.5,1131.5 h-18.9 M236.0,1207.2 h18.9 M1940.5,1207.2 h-18.9 M236.0,1282.9 h18.9 M1940.5,1282.9 h-18.9 M236.0,1358.6 h18.9 M1940.5,1358.6 h-18.9 M576.9,1112.2 v18.9 M576.9,1371.0 v-18.9 M917.8,1112.2 v18.9 M917.8,1371.0 v-18.9 M1258.7,1112.2 v18.9 M1258.7,1371.0 v-18.9 M1599.6,1112.2 v18.9 M1599.6,1371.0 v-18.9" fill="none" stroke="#4b4c4e" stroke-width="3.0"/>
<rect x="236.0" y="1112.2" width="1704.5" height="258.8" fill="none" stroke="#4b4c4e" stroke-width="3.8"/>
<path d="M236.0,1223.1 L238.1,1223.1 L240.3,1223.1 L242.4,1223.2 L244.5,1223.3 L246.7,1223.4 L248.8,1223.5 L250.9,1223.7 L253.0,1223.8 L255.2,1224.0 L257.3,1224.2 L259.4,1224.5 L261.6,1224.7 L263.7,1225.0 L265.8,1225.3 L268.0,1225.7 L270.1,1226.0 L272.2,1226.4 L274.4,1226.8 L276.5,1227.2 L278.6,1227.6 L280.7,1228.1 L282.9,1228.6 L285.0,1229.1 L287.1,1229.6 L289.3,1230.2 L291.4,1230.7 L293.5,1231.3 L295.7,1231.9 L297.8,1232.5 L299.9,1233.2 L302.0,1233.8 L304.2,1234.5 L306.3,1235.2 L308.4,1235.9 L310.6,1236.7 L312.7,1237.4 L314.8,1238.2 L317.0,1239.0 L319.1,1239.8 L321.2,1240.6 L323.4,1241.5 L325.5,1242.3 L327.6,1243.2 L329.7,1244.1 L331.9,1245.0 L334.0,1245.9 L336.1,1246.8 L338.3,1247.7 L340.4,1248.7 L342.5,1249.7 L344.7,1250.7 L346.8,1251.7 L348.9,1252.7 L351.1,1253.7 L353.2,1254.7 L355.3,1255.7 L357.4,1256.8 L359.6,1257.9 L361.7,1258.9 L363.8,1260.0 L366.0,1261.1 L368.1,1262.2 L370.2,1263.3 L372.4,1264.4 L374.5,1265.5 L376.6,1266.7 L378.8,1267.8 L380.9,1268.9 L383.0,1270.1 L385.1,1271.2 L387.3,1272.4 L389.4,1273.5 L391.5,1274.7 L393.7,1275.9 L395.8,1277.0 L397.9,1278.2 L400.1,1279.4 L402.2,1280.6 L404.3,1281.7 L406.5,1282.9 L408.6,1284.1 L410.7,1285.2 L412.8,1286.4 L415.0,1287.6 L417.1,1288.8 L419.2,1289.9 L421.4,1291.1 L423.5,1292.3 L425.6,1293.4 L427.8,1294.6 L429.9,1295.7 L432.0,1296.9 L434.1,1298.0 L436.3,1299.1 L438.4,1300.3 L440.5,1301.4 L442.7,1302.5 L444.8,1303.6 L446.9,1304.7 L449.1,1305.8 L451.2,1306.9 L453.3,1307.9 L455.5,1309.0 L457.6,1310.0 L459.7,1311.1 L461.8,1312.1 L464.0,1313.1 L466.1,1314.1 L468.2,1315.1 L470.4,1316.1 L472.5,1317.1 L474.6,1318.1 L476.8,1319.0 L478.9,1319.9 L481.0,1320.8 L483.2,1321.7 L485.3,1322.6 L487.4,1323.5 L489.5,1324.3 L491.7,1325.2 L493.8,1326.0 L495.9,1326.8 L498.1,1327.6 L500.2,1328.4 L502.3,1329.1 L504.5,1329.9 L506.6,1330.6 L508.7,1331.3 L510.9,1332.0 L513.0,1332.6 L515.1,1333.3 L517.2,1333.9 L519.4,1334.5 L521.5,1335.1 L523.6,1335.6 L525.8,1336.2 L527.9,1336.7 L530.0,1337.2 L532.2,1337.7 L534.3,1338.2 L536.4,1338.6 L538.5,1339.0 L540.7,1339.4 L542.8,1339.8 L544.9,1340.1 L547.1,1340.5 L549.2,1340.8 L551.3,1341.1 L553.5,1341.3 L555.6,1341.6 L557.7,1341.8 L559.9,1342.0 L562.0,1342.1 L564.1,1342.3 L566.2,1342.4 L568.4,1342.5 L570.5,1342.6 L572.6,1342.7 L574.8,1342.7 L576.9,1342.7 L579.0,1342.7 L581.2,1342.7 L583.3,1342.6 L585.4,1342.5 L587.6,1342.4 L589.7,1342.3 L591.8,1342.1 L593.9,1342.0 L596.1,1341.8 L598.2,1341.6 L600.3,1341.3 L602.5,1341.1 L604.6,1340.8 L606.7,1340.5 L608.9,1340.1 L611.0,1339.8 L613.1,1339.4 L615.3,1339.0 L617.4,1338.6 L619.5,1338.2 L621.6,1337.7 L623.8,1337.2 L625.9,1336.7 L628.0,1336.2 L630.2,1335.6 L632.3,1335.1 L634.4,1334.5 L636.6,1333.9 L638.7,1333.3 L640.8,1332.6 L642.9,1332.0 L645.1,1331.3 L647.2,1330.6 L649.3,1329.9 L651.5,1329.1 L653.6,1328.4 L655.7,1327.6 L657.9,1326.8 L660.0,1326.0 L662.1,1325.2 L664.3,1324.3 L666.4,1323.5 L668.5,1322.6 L670.6,1321.7 L672.8,1320.8 L674.9,1319.9 L677.0,1319.0 L679.2,1318.1 L681.3,1317.1 L683.4,1316.1 L685.6,1315.1 L687.7,1314.1 L689.8,1313.1 L692.0,1312.1 L694.1,1311.1 L696.2,1310.0 L698.3,1309.0 L700.5,1307.9 L702.6,1306.9 L704.7,1305.8 L706.9,1304.7 L709.0,1303.6 L711.1,1302.5 L713.3,1301.4 L715.4,1300.3 L717.5,1299.1 L719.7,1298.0 L721.8,1296.9 L723.9,1295.7 L726.0,1294.6 L728.2,1293.4 L730.3,1292.3 L732.4,1291.1 L734.6,1289.9 L736.7,1288.8 L738.8,1287.6 L741.0,1286.4 L743.1,1285.2 L745.2,1284.1 L747.4,1282.9 L749.5,1281.7 L751.6,1280.6 L753.7,1279.4 L755.9,1278.2 L758.0,1277.0 L760.1,1275.9 L762.3,1274.7 L764.4,1273.5 L766.5,1272.4 L768.7,1271.2 L770.8,1270.1 L772.9,1268.9 L775.0,1267.8 L777.2,1266.7 L779.3,1265.5 L781.4,1264.4 L783.6,1263.3 L785.7,1262.2 L787.8,1261.1 L790.0,1260.0 L792.1,1258.9 L794.2,1257.9 L796.4,1256.8 L798.5,1255.7 L800.6,1254.7 L802.7,1253.7 L804.9,1252.7 L807.0,1251.7 L809.1,1250.7 L811.3,1249.7 L813.4,1248.7 L815.5,1247.7 L817.7,1246.8 L819.8,1245.9 L821.9,1245.0 L824.1,1244.1 L826.2,1243.2 L828.3,1242.3 L830.4,1241.5 L832.6,1240.6 L834.7,1239.8 L836.8,1239.0 L839.0,1238.2 L841.1,1237.4 L843.2,1236.7 L845.4,1235.9 L847.5,1235.2 L849.6,1234.5 L851.8,1233.8 L853.9,1233.2 L856.0,1232.5 L858.1,1231.9 L860.3,1231.3 L862.4,1230.7 L864.5,1230.2 L866.7,1229.6 L868.8,1229.1 L870.9,1228.6 L873.1,1228.1 L875.2,1227.6 L877.3,1227.2 L879.4,1226.8 L881.6,1226.4 L883.7,1226.0 L885.8,1225.7 L888.0,1225.3 L890.1,1225.0 L892.2,1224.7 L894.4,1224.5 L896.5,1224.2 L898.6,1224.0 L900.8,1223.8 L902.9,1223.7 L905.0,1223.5 L907.1,1223.4 L909.3,1223.3 L911.4,1223.2 L913.5,1223.1 L915.7,1223.1 L917.8,1223.1 L919.9,1223.1 L922.1,1223.1 L924.2,1223.2 L926.3,1223.3 L928.5,1223.4 L930.6,1223.5 L932.7,1223.7 L934.8,1223.8 L937.0,1224.0 L939.1,1224.2 L941.2,1224.5 L943.4,1224.7 L945.5,1225.0 L947.6,1225.3 L949.8,1225.7 L951.9,1226.0 L954.0,1226.4 L956.2,1226.8 L958.3,1227.2 L960.4,1227.6 L962.5,1228.1 L964.7,1228.6 L966.8,1229.1 L968.9,1229.6 L971.1,1230.2 L973.2,1230.7 L975.3,1231.3 L977.5,1231.9 L979.6,1232.5 L981.7,1233.2 L983.8,1233.8 L986.0,1234.5 L988.1,1235.2 L990.2,1235.9 L992.4,1236.7 L994.5,1237.4 L996.6,1238.2 L998.8,1239.0 L1000.9,1239.8 L1003.0,1240.6 L1005.2,1241.5 L1007.3,1242.3 L1009.4,1243.2 L1011.5,1244.1 L1013.7,1245.0 L1015.8,1245.9 L1017.9,1246.8 L1020.1,1247.7 L1022.2,1248.7 L1024.3,1249.7 L1026.5,1250.7 L1028.6,1251.7 L1030.7,1252.7 L1032.9,1253.7 L1035.0,1254.7 L1037.1,1255.7 L1039.2,1256.8 L1041.4,1257.9 L1043.5,1258.9 L1045.6,1260.0 L1047.8,1261.1 L1049.9,1262.2 L1052.0,1263.3 L1054.2,1264.4 L1056.3,1265.5 L1058.4,1266.7 L1060.6,1267.8 L1062.7,1268.9 L1064.8,1270.1 L1066.9,1271.2 L1069.1,1272.4 L1071.2,1273.5 L1073.3,1274.7 L1075.5,1275.9 L1077.6,1277.0 L1079.7,1278.2 L1081.9,1279.4 L1084.0,1280.6 L1086.1,1281.7 L1088.2,1282.9 L1090.4,1284.1 L1092.5,1285.2 L1094.6,1286.4 L1096.8,1287.6 L1098.9,1288.8 L1101.0,1289.9 L1103.2,1291.1 L1105.3,1292.3 L1107.4,1293.4 L1109.6,1294.6 L1111.7,1295.7 L1113.8,1296.9 L1115.9,1298.0 L1118.1,1299.1 L1120.2,1300.3 L1122.3,1301.4 L1124.5,1302.5 L1126.6,1303.6 L1128.7,1304.7 L1130.9,1305.8 L1133.0,1306.9 L1135.1,1307.9 L1137.3,1309.0 L1139.4,1310.0 L1141.5,1311.1 L1143.6,1312.1 L1145.8,1313.1 L1147.9,1314.1 L1150.0,1315.1 L1152.2,1316.1 L1154.3,1317.1 L1156.4,1318.1 L1158.6,1319.0 L1160.7,1319.9 L1162.8,1320.8 L1165.0,1321.7 L1167.1,1322.6 L1169.2,1323.5 L1171.3,1324.3 L1173.5,1325.2 L1175.6,1326.0 L1177.7,1326.8 L1179.9,1327.6 L1182.0,1328.4 L1184.1,1329.1 L1186.3,1329.9 L1188.4,1330.6 L1190.5,1331.3 L1192.7,1332.0 L1194.8,1332.6 L1196.9,1333.3 L1199.0,1333.9 L1201.2,1334.5 L1203.3,1335.1 L1205.4,1335.6 L1207.6,1336.2 L1209.7,1336.7 L1211.8,1337.2 L1214.0,1337.7 L1216.1,1338.2 L1218.2,1338.6 L1220.3,1339.0 L1222.5,1339.4 L1224.6,1339.8 L1226.7,1340.1 L1228.9,1340.5 L1231.0,1340.8 L1233.1,1341.1 L1235.3,1341.3 L1237.4,1341.6 L1239.5,1341.8 L1241.7,1342.0 L1243.8,1342.1 L1245.9,1342.3 L1248.0,1342.4 L1250.2,1342.5 L1252.3,1342.6 L1254.4,1342.7 L1256.6,1342.7 L1258.7,1342.7 L1260.8,1342.7 L1263.0,1342.7 L1265.1,1342.6 L1267.2,1342.5 L1269.4,1342.4 L1271.5,1342.3 L1273.6,1342.1 L1275.7,1342.0 L1277.9,1341.8 L1280.0,1341.6 L1282.1,1341.3 L1284.3,1341.1 L1286.4,1340.8 L1288.5,1340.5 L1290.7,1340.1 L1292.8,1339.8 L1294.9,1339.4 L1297.1,1339.0 L1299.2,1338.6 L1301.3,1338.2 L1303.4,1337.7 L1305.6,1337.2 L1307.7,1336.7 L1309.8,1336.2 L1312.0,1335.6 L1314.1,1335.1 L1316.2,1334.5 L1318.4,1333.9 L1320.5,1333.3 L1322.6,1332.6 L1324.7,1332.0 L1326.9,1331.3 L1329.0,1330.6 L1331.1,1329.9 L1333.3,1329.1 L1335.4,1328.4 L1337.5,1327.6 L1339.7,1326.8 L1341.8,1326.0 L1343.9,1325.2 L1346.1,1324.3 L1348.2,1323.5 L1350.3,1322.6 L1352.4,1321.7 L1354.6,1320.8 L1356.7,1319.9 L1358.8,1319.0 L1361.0,1318.1 L1363.1,1317.1 L1365.2,1316.1 L1367.4,1315.1 L1369.5,1314.1 L1371.6,1313.1 L1373.8,1312.1 L1375.9,1311.1 L1378.0,1310.0 L1380.1,1309.0 L1382.3,1307.9 L1384.4,1306.9 L1386.5,1305.8 L1388.7,1304.7 L1390.8,1303.6 L1392.9,1302.5 L1395.1,1301.4 L1397.2,1300.3 L1399.3,1299.1 L1401.5,1298.0 L1403.6,1296.9 L1405.7,1295.7 L1407.8,1294.6 L1410.0,1293.4 L1412.1,1292.3 L1414.2,1291.1 L1416.4,1289.9 L1418.5,1288.8 L1420.6,1287.6 L1422.8,1286.4 L1424.9,1285.2 L1427.0,1284.1 L1429.2,1282.9 L1431.3,1281.7 L1433.4,1280.6 L1435.5,1279.4 L1437.7,1278.2 L1439.8,1277.0 L1441.9,1275.9 L1444.1,1274.7 L1446.2,1273.5 L1448.3,1272.4 L1450.5,1271.2 L1452.6,1270.1 L1454.7,1268.9 L1456.8,1267.8 L1459.0,1266.7 L1461.1,1265.5 L1463.2,1264.4 L1465.4,1263.3 L1467.5,1262.2 L1469.6,1261.1 L1471.8,1260.0 L1473.9,1258.9 L1476.0,1257.9 L1478.2,1256.8 L1480.3,1255.7 L1482.4,1254.7 L1484.5,1253.7 L1486.7,1252.7 L1488.8,1251.7 L1490.9,1250.7 L1493.1,1249.7 L1495.2,1248.7 L1497.3,1247.7 L1499.5,1246.8 L1501.6,1245.9 L1503.7,1245.0 L1505.9,1244.1 L1508.0,1243.2 L1510.1,1242.3 L1512.2,1241.5 L1514.4,1240.6 L1516.5,1239.8 L1518.6,1239.0 L1520.8,1238.2 L1522.9,1237.4 L1525.0,1236.7 L1527.2,1235.9 L1529.3,1235.2 L1531.4,1234.5 L1533.6,1233.8 L1535.7,1233.2 L1537.8,1232.5 L1539.9,1231.9 L1542.1,1231.3 L1544.2,1230.7 L1546.3,1230.2 L1548.5,1229.6 L1550.6,1229.1 L1552.7,1228.6 L1554.9,1228.1 L1557.0,1227.6 L1559.1,1227.2 L1561.2,1226.8 L1563.4,1226.4 L1565.5,1226.0 L1567.6,1225.7 L1569.8,1225.3 L1571.9,1225.0 L1574.0,1224.7 L1576.2,1224.5 L1578.3,1224.2 L1580.4,1224.0 L1582.6,1223.8 L1584.7,1223.7 L1586.8,1223.5 L1588.9,1223.4 L1591.1,1223.3 L1593.2,1223.2 L1595.3,1223.1 L1597.5,1223.1 L1599.6,1223.1 L1601.7,1223.1 L1603.9,1223.1 L1606.0,1223.2 L1608.1,1223.3 L1610.3,1223.4 L1612.4,1223.5 L1614.5,1223.7 L1616.6,1223.8 L1618.8,1224.0 L1620.9,1224.2 L1623.0,1224.5 L1625.2,1224.7 L1627.3,1225.0 L1629.4,1225.3 L1631.6,1225.7 L1633.7,1226.0 L1635.8,1226.4 L1638.0,1226.8 L1640.1,1227.2 L1642.2,1227.6 L1644.3,1228.1 L1646.5,1228.6 L1648.6,1229.1 L1650.7,1229.6 L1652.9,1230.2 L1655.0,1230.7 L1657.1,1231.3 L1659.3,1231.9 L1661.4,1232.5 L1663.5,1233.2 L1665.6,1233.8 L1667.8,1234.5 L1669.9,1235.2 L1672.0,1235.9 L1674.2,1236.7 L1676.3,1237.4 L1678.4,1238.2 L1680.6,1239.0 L1682.7,1239.8 L1684.8,1240.6 L1687.0,1241.5 L1689.1,1242.3 L1691.2,1243.2 L1693.3,1244.1 L1695.5,1245.0 L1697.6,1245.9 L1699.7,1246.8 L1701.9,1247.7 L1704.0,1248.7 L1706.1,1249.7 L1708.3,1250.7 L1710.4,1251.7 L1712.5,1252.7 L1714.7,1253.7 L1716.8,1254.7 L1718.9,1255.7 L1721.0,1256.8 L1723.2,1257.9 L1725.3,1258.9 L1727.4,1260.0 L1729.6,1261.1 L1731.7,1262.2 L1733.8,1263.3 L1736.0,1264.4 L1738.1,1265.5 L1740.2,1266.7 L1742.4,1267.8 L1744.5,1268.9 L1746.6,1270.1 L1748.7,1271.2 L1750.9,1272.4 L1753.0,1273.5 L1755.1,1274.7 L1757.3,1275.9 L1759.4,1277.0 L1761.5,1278.2 L1763.7,1279.4 L1765.8,1280.6 L1767.9,1281.7 L1770.1,1282.9 L1772.2,1284.1 L1774.3,1285.2 L1776.4,1286.4 L1778.6,1287.6 L1780.7,1288.8 L1782.8,1289.9 L1785.0,1291.1 L1787.1,1292.3 L1789.2,1293.4 L1791.4,1294.6 L1793.5,1295.7 L1795.6,1296.9 L1797.7,1298.0 L1799.9,1299.1 L1802.0,1300.3 L1804.1,1301.4 L1806.3,1302.5 L1808.4,1303.6 L1810.5,1304.7 L1812.7,1305.8 L1814.8,1306.9 L1816.9,1307.9 L1819.1,1309.0 L1821.2,1310.0 L1823.3,1311.1 L1825.4,1312.1 L1827.6,1313.1 L1829.7,1314.1 L1831.8,1315.1 L1834.0,1316.1 L1836.1,1317.1 L1838.2,1318.1 L1840.4,1319.0 L1842.5,1319.9 L1844.6,1320.8 L1846.8,1321.7 L1848.9,1322.6 L1851.0,1323.5 L1853.1,1324.3 L1855.3,1325.2 L1857.4,1326.0 L1859.5,1326.8 L1861.7,1327.6 L1863.8,1328.4 L1865.9,1329.1 L1868.1,1329.9 L1870.2,1330.6 L1872.3,1331.3 L1874.5,1332.0 L1876.6,1332.6 L1878.7,1333.3 L1880.8,1333.9 L1883.0,1334.5 L1885.1,1335.1 L1887.2,1335.6 L1889.4,1336.2 L1891.5,1336.7 L1893.6,1337.2 L1895.8,1337.7 L1897.9,1338.2 L1900.0,1338.6 L1902.1,1339.0 L1904.3,1339.4 L1906.4,1339.8 L1908.5,1340.1 L1910.7,1340.5 L1912.8,1340.8 L1914.9,1341.1 L1917.1,1341.3 L1919.2,1341.6 L1921.3,1341.8 L1923.5,1342.0 L1925.6,1342.1 L1927.7,1342.3 L1929.8,1342.4 L1932.0,1342.5 L1934.1,1342.6 L1936.2,1342.7 L1938.4,1342.7 L1940.5,1342.7" fill="none" stroke="#231f20" stroke-width="12.1" stroke-dasharray="32 31" stroke-linejoin="round"/>
<path d="M236.3,1278.0 L236.4,1276.5 L236.4,1275.0 L236.5,1273.5 L236.6,1272.0 L236.6,1270.5 L236.7,1269.0 L236.8,1267.5 L236.8,1266.0 L236.9,1264.5 L237.0,1263.0 L237.0,1261.5 L237.1,1260.0 L237.1,1258.5 L237.2,1257.0 L237.3,1255.5 L237.3,1254.0 L237.4,1252.5 L237.5,1251.0 L237.5,1249.5 L237.6,1248.0 L237.6,1246.5 L237.7,1245.0 L237.8,1243.5 L237.8,1242.0 L237.9,1240.5 L237.9,1239.0 L238.0,1237.5 L238.0,1236.0 L238.1,1234.5 L238.2,1233.0 L238.2,1231.5 L238.3,1230.0 L238.3,1228.5 L238.4,1227.0 L238.5,1225.5 L238.5,1224.0 L238.6,1222.5 L238.7,1221.0 L238.7,1219.5 L238.8,1218.0 L238.9,1216.5 L239.0,1215.0 L239.1,1213.5 L239.2,1212.0 L239.3,1210.5 L239.4,1209.0 L239.5,1207.5 L239.6,1206.0 L239.7,1204.5 L239.8,1203.0 L239.9,1201.5 L240.0,1200.0 L240.1,1198.5 L240.1,1197.0 L240.2,1195.5 L240.3,1194.0 L240.4,1192.5 L240.4,1191.0 L240.5,1189.5 L240.6,1188.0 L240.6,1186.5 L240.7,1185.0 L240.8,1183.5 L240.8,1182.0 L240.9,1180.5 L241.0,1179.0 L241.0,1177.5 L241.1,1176.0 L241.2,1174.5 L241.2,1173.0 L241.3,1171.5 L241.4,1170.0 L241.4,1168.5 L241.5,1167.0 L241.6,1165.5 L241.6,1164.0 L241.7,1162.5 L241.8,1161.0 L241.9,1159.5 L242.0,1158.0 L242.0,1156.5 L242.1,1155.0 L242.2,1153.6 L242.3,1152.1 L242.4,1150.6 L242.5,1149.1 L242.6,1147.6 L242.7,1146.1 L242.8,1144.6 L242.9,1143.1 L243.0,1141.6 L243.1,1140.1 L243.2,1138.6 L243.3,1137.1 L243.5,1135.6 L243.6,1134.1 L243.8,1132.6 L244.1,1131.1 L244.3,1129.6 L244.5,1128.2 L244.8,1126.7 L245.0,1125.2 L245.2,1123.7 L245.4,1122.2 L245.6,1120.8 L245.8,1119.3 L246.1,1117.8 L246.6,1116.4 L247.3,1114.8 L248.1,1113.1 L248.8,1112.0 L249.5,1112.5 L250.3,1113.9 L251.0,1115.6 L251.6,1117.0 L252.0,1118.5 L252.2,1119.9 L252.6,1121.4 L253.0,1122.8 L253.4,1124.2 L253.8,1125.7 L254.2,1127.2 L254.5,1128.6 L254.8,1130.1 L255.1,1131.6 L255.3,1133.0 L255.6,1134.5 L255.8,1136.0 L256.1,1137.5 L256.3,1139.0 L256.5,1140.5 L256.8,1141.9 L257.0,1143.4 L257.2,1144.9 L257.4,1146.4 L257.6,1147.9 L257.8,1149.4 L258.0,1150.9 L258.2,1152.3 L258.5,1153.8 L258.7,1155.3 L258.9,1156.8 L259.1,1158.3 L259.3,1159.8 L259.6,1161.3 L259.8,1162.7 L260.0,1164.2 L260.2,1165.7 L260.4,1167.2 L260.6,1168.7 L260.8,1170.2 L261.1,1171.7 L261.3,1173.1 L261.5,1174.6 L261.7,1176.1 L261.9,1177.6 L262.1,1179.1 L262.3,1180.6 L262.6,1182.1 L262.8,1183.5 L263.0,1185.0 L263.2,1186.5 L263.5,1188.0 L263.8,1189.5 L264.1,1190.9 L264.5,1192.4 L264.9,1193.8 L265.2,1195.3 L265.6,1196.7 L266.0,1198.2 L266.4,1199.6 L266.8,1201.1 L267.2,1202.5 L267.6,1204.0 L267.9,1205.5 L268.2,1206.9 L268.5,1208.4 L268.8,1209.9 L269.0,1211.4 L269.2,1212.8 L269.5,1214.3 L269.7,1215.8 L269.9,1217.3 L270.1,1218.8 L270.4,1220.3 L270.6,1221.7 L270.8,1223.2 L271.0,1224.7 L271.2,1226.2 L271.5,1227.7 L271.7,1229.2 L271.9,1230.7 L272.1,1232.1 L272.4,1233.6 L272.6,1235.1 L272.8,1236.6 L273.1,1238.1 L273.3,1239.6 L273.5,1241.0 L273.8,1242.5 L274.0,1244.0 L274.3,1245.5 L274.5,1247.0 L274.8,1248.4 L275.1,1249.9 L275.3,1251.4 L275.6,1252.9 L275.8,1254.3 L276.1,1255.8 L276.4,1257.3 L276.6,1258.8 L276.9,1260.3 L277.1,1261.7 L277.4,1263.2 L277.7,1264.7 L278.0,1266.1 L278.3,1267.5 L278.7,1268.9 L279.2,1270.3 L279.7,1271.7 L280.3,1273.1 L281.0,1274.5 L281.9,1275.9 L282.9,1277.3 L284.0,1278.7 L285.1,1279.9 L286.4,1280.8 L287.6,1280.9 L288.9,1280.5 L290.2,1279.7 L291.4,1278.9 L292.7,1277.9 L294.0,1276.9 L295.1,1276.0 L296.2,1275.0 L297.3,1273.9 L298.4,1272.9 L299.6,1272.0 L300.9,1271.1 L302.2,1270.3 L303.6,1269.6 L305.0,1269.2 L306.5,1269.0 L307.9,1269.0 L309.4,1269.3 L310.9,1269.6 L312.3,1270.1 L313.8,1270.7 L315.2,1271.2 L316.6,1271.8 L318.0,1272.4 L319.3,1273.1 L320.5,1274.0 L321.7,1274.9 L322.9,1275.9 L324.0,1276.9 L325.1,1277.9 L326.2,1278.9 L327.3,1280.0 L328.4,1281.0 L329.5,1282.0 L330.6,1283.0 L331.7,1284.1 L332.8,1285.0 L333.9,1286.0 L335.0,1287.0 L336.1,1288.0 L337.2,1288.9 L338.3,1289.9 L339.4,1290.8 L340.5,1291.8 L341.7,1292.7 L342.9,1293.6 L344.2,1294.5 L345.6,1295.4 L347.0,1296.3 L348.4,1297.1 L349.9,1297.7 L351.3,1298.2 L352.8,1298.7 L354.2,1299.0 L355.7,1299.1 L357.1,1299.2 L358.6,1299.2 L360.0,1299.0 L361.4,1298.9 L362.9,1298.7 L364.3,1298.4 L365.8,1298.1 L367.2,1297.7 L368.7,1297.3 L370.1,1296.8 L371.6,1296.3 L373.0,1295.8 L374.4,1295.2 L375.9,1294.5 L377.3,1293.8 L378.7,1293.1 L380.1,1292.3 L381.5,1291.6 L382.8,1290.8 L384.1,1290.0 L385.4,1289.3 L386.7,1288.5 L387.9,1287.8 L389.2,1287.0 L390.4,1286.2 L391.7,1285.4 L392.9,1284.6 L394.1,1283.8 L395.4,1283.0 L396.7,1282.2 L397.9,1281.4 L399.2,1280.6 L400.4,1279.8 L401.7,1279.0 L403.0,1278.1 L404.2,1277.3 L405.5,1276.5 L406.7,1275.7 L408.0,1274.9 L409.3,1274.0 L410.5,1273.2 L411.8,1272.4 L413.0,1271.6 L414.3,1270.7 L415.4,1269.8 L416.6,1268.9 L417.9,1268.1 L419.3,1267.5 L420.8,1267.3 L422.4,1267.5 L423.8,1267.9 L425.3,1268.4 L426.7,1268.9 L428.1,1269.4 L429.5,1269.9 L430.9,1270.4 L432.4,1270.9 L433.8,1271.4 L435.2,1271.9 L436.7,1272.4 L438.1,1272.8 L439.5,1273.3 L441.0,1273.8 L442.4,1274.3 L443.8,1274.8 L445.2,1275.4 L446.6,1275.9 L447.9,1276.5 L449.3,1277.1 L450.7,1277.8 L452.0,1278.5 L453.3,1279.2 L454.6,1280.0 L455.8,1280.9 L457.1,1281.7 L458.3,1282.6 L459.5,1283.5 L460.7,1284.5 L461.8,1285.4 L463.0,1286.4 L464.1,1287.3 L465.3,1288.3 L466.4,1289.2 L467.6,1290.2 L468.8,1291.1 L469.9,1292.0 L471.0,1293.0 L472.1,1294.0 L473.2,1294.9 L474.4,1295.9 L475.5,1296.8 L476.7,1297.7 L478.0,1298.5 L479.4,1299.3 L480.9,1300.1 L482.4,1300.6 L483.8,1301.0 L485.3,1301.1 L486.9,1301.2 L488.4,1301.1 L489.9,1300.9 L491.4,1300.7 L492.9,1300.5 L494.4,1300.4 L495.9,1300.3 L497.4,1300.2 L498.9,1300.2 L500.4,1300.1 L501.9,1300.0 L503.4,1299.9 L504.9,1299.8 L506.4,1299.7 L507.9,1299.6 L509.4,1299.6 L510.9,1299.6 L512.4,1299.7 L513.9,1299.9 L515.3,1300.1 L516.8,1300.5 L518.2,1301.0 L519.6,1301.6 L520.9,1302.3 L522.3,1303.0 L523.6,1303.7 L525.0,1304.5 L526.3,1305.2 L527.6,1306.0 L528.9,1306.8 L530.2,1307.5 L531.5,1308.3 L532.8,1309.1 L534.1,1309.8 L535.4,1310.6 L536.6,1311.4 L537.9,1312.2 L539.1,1313.1 L540.4,1313.9 L541.6,1314.8 L542.8,1315.7 L544.0,1316.6 L545.3,1317.4 L546.5,1318.3 L547.7,1319.2 L548.9,1320.1 L550.1,1321.0 L551.3,1321.9 L552.5,1322.8 L553.7,1323.7 L554.9,1324.6 L556.1,1325.5 L557.3,1326.4 L558.4,1327.4 L559.6,1328.3 L560.8,1329.3 L561.9,1330.2 L563.1,1331.2 L564.2,1332.2 L565.3,1333.2 L566.4,1334.2 L567.5,1335.2 L568.6,1336.2 L569.7,1337.2 L570.8,1338.3 L571.9,1339.3 L573.0,1340.3 L574.1,1341.3 L575.2,1342.4 L576.3,1343.4 L577.4,1344.4 L578.5,1345.4 L579.6,1346.4 L580.7,1347.4 L581.8,1348.4 L582.9,1349.4 L584.0,1350.4 L585.2,1351.3 L586.3,1352.3 L587.5,1353.3 L588.7,1354.2 L590.0,1355.1 L591.3,1356.0 L592.6,1356.7 L594.0,1357.4 L595.4,1358.0 L596.8,1358.5 L598.3,1358.9 L599.7,1359.3 L601.2,1359.6 L602.7,1359.9 L604.2,1360.2 L605.7,1360.4 L607.2,1360.5 L608.7,1360.7 L610.3,1360.8 L611.8,1361.0 L613.3,1361.1 L614.8,1361.2 L616.3,1361.4 L617.8,1361.5 L619.3,1361.7 L620.8,1361.8 L622.3,1361.9 L623.9,1361.9 L625.4,1361.9 L626.9,1361.9 L628.4,1361.7 L629.8,1361.5 L631.3,1361.3 L632.7,1360.9 L634.2,1360.4 L635.6,1359.9 L637.0,1359.3 L638.4,1358.8 L639.8,1358.3 L641.3,1357.9 L642.7,1357.5 L644.2,1357.1 L645.7,1356.8 L647.2,1356.6 L648.7,1356.4 L650.2,1356.4 L651.6,1356.5 L653.1,1356.7 L654.5,1357.0 L656.0,1357.4 L657.4,1357.9 L658.8,1358.4 L660.3,1359.0 L661.7,1359.5 L663.1,1360.0 L664.6,1360.6 L666.0,1361.0 L667.5,1361.4 L668.9,1361.7 L670.4,1362.1 L671.9,1362.4 L673.4,1362.7 L674.9,1362.9 L676.5,1363.0 L677.9,1362.8 L679.4,1362.3 L680.7,1361.7 L682.0,1360.9 L683.3,1360.1 L684.5,1359.2 L685.6,1358.1 L686.7,1357.1 L687.7,1355.9 L688.7,1354.7 L689.7,1353.5 L690.6,1352.3 L691.5,1351.1 L692.4,1349.9 L693.3,1348.6 L694.1,1347.4 L695.0,1346.2 L695.9,1344.9 L696.7,1343.7 L697.6,1342.5 L698.4,1341.2 L699.3,1340.0 L700.2,1338.8 L701.0,1337.6 L701.9,1336.4 L702.8,1335.2 L703.7,1334.0 L704.7,1332.8 L705.6,1331.6 L706.6,1330.5 L707.5,1329.3 L708.5,1328.1 L709.5,1327.0 L710.5,1325.8 L711.4,1324.7 L712.4,1323.5 L713.3,1322.3 L714.2,1321.1 L715.1,1319.9 L715.9,1318.6 L716.7,1317.4 L717.4,1316.1 L718.1,1314.8 L718.8,1313.4 L719.5,1312.1 L720.2,1310.7 L720.8,1309.4 L721.5,1308.1 L722.2,1306.7 L722.8,1305.4 L723.5,1304.0 L724.2,1302.7 L724.9,1301.3 L725.5,1300.0 L726.2,1298.7 L726.9,1297.3 L727.5,1296.0 L728.2,1294.6 L728.9,1293.3 L729.6,1291.9 L730.2,1290.6 L730.9,1289.3 L731.6,1287.9 L732.2,1286.6 L732.9,1285.2 L733.6,1283.9 L734.3,1282.5 L734.9,1281.2 L735.6,1279.9 L736.3,1278.5 L737.0,1277.2 L737.8,1276.0 L738.7,1274.8 L739.6,1273.6 L740.6,1272.5 L741.7,1271.4 L742.8,1270.3 L743.9,1269.3 L745.0,1268.2 L746.1,1267.2 L747.2,1266.2 L748.4,1265.2 L749.5,1264.1 L750.5,1263.1 L751.6,1262.0 L752.7,1261.0 L753.8,1259.9 L754.9,1258.9 L755.9,1257.8 L757.0,1256.8 L758.1,1255.8 L759.2,1254.7 L760.3,1253.7 L761.3,1252.7 L762.4,1251.6 L763.5,1250.6 L764.6,1249.5 L765.7,1248.5 L766.8,1247.5 L767.9,1246.5 L769.0,1245.4 L770.1,1244.4 L771.2,1243.4 L772.3,1242.4 L773.5,1241.4 L774.6,1240.4 L775.7,1239.5 L776.9,1238.5 L778.1,1237.6 L779.4,1236.9 L780.7,1236.3 L782.1,1235.9 L783.6,1235.5 L785.1,1235.2 L786.6,1235.0 L788.1,1234.8 L789.7,1234.6 L791.3,1234.5 L792.8,1234.4 L794.4,1234.2 L795.9,1234.0 L797.4,1233.7 L798.9,1233.4 L800.4,1232.9 L801.8,1232.4 L803.1,1231.7 L804.4,1231.0 L805.6,1230.1 L806.9,1229.3 L808.1,1228.4 L809.3,1227.6 L810.5,1226.7 L811.7,1225.8 L812.9,1224.9 L814.1,1224.0 L815.3,1223.0 L816.5,1222.1 L817.6,1221.1 L818.8,1220.2 L819.9,1219.2 L821.0,1218.2 L822.1,1217.1 L823.1,1216.0 L824.1,1215.0 L825.1,1213.9 L826.2,1212.8 L827.2,1211.8 L828.4,1210.7 L829.5,1209.7 L830.8,1208.8 L832.1,1208.0 L833.4,1207.2 L834.8,1206.5 L836.2,1205.9 L837.6,1205.4 L839.0,1205.0 L840.5,1204.6 L842.0,1204.2 L843.4,1203.9 L844.9,1203.6 L846.4,1203.4 L847.9,1203.1 L849.4,1203.0 L850.9,1202.8 L852.4,1202.7 L853.9,1202.7 L855.5,1202.7 L856.9,1202.9 L858.4,1203.2 L859.9,1203.6 L861.3,1204.0 L862.8,1204.4 L864.2,1204.8 L865.6,1205.2 L867.1,1205.7 L868.5,1206.1 L869.9,1206.6 L871.4,1207.1 L872.8,1207.5 L874.2,1208.0 L875.6,1208.5 L877.0,1209.0 L878.5,1209.5 L879.9,1210.0 L881.3,1210.5 L882.7,1211.0 L884.1,1211.5 L885.5,1212.0 L886.9,1212.6 L888.3,1213.1 L889.7,1213.6 L891.1,1214.2 L892.5,1214.8 L893.9,1215.4 L895.3,1216.0 L896.6,1216.7 L898.0,1217.3 L899.3,1218.0 L900.7,1218.6 L902.0,1219.3 L903.3,1220.0 L904.7,1220.7 L906.0,1221.4 L907.3,1222.1 L908.6,1222.8 L910.0,1223.5 L911.3,1224.3 L912.6,1225.0 L913.9,1225.7 L915.2,1226.5 L916.5,1227.2 L917.7,1228.1 L919.0,1228.9 L920.2,1229.8 L921.4,1230.7 L922.6,1231.6 L923.8,1232.5 L925.1,1233.4 L926.3,1234.2 L927.5,1235.1 L928.8,1235.8 L930.1,1236.6 L931.5,1237.2 L932.9,1237.8 L934.3,1238.4 L935.7,1238.9 L937.1,1239.4 L938.5,1239.8 L940.0,1240.3 L941.4,1240.8 L942.8,1241.3 L944.2,1241.9 L945.6,1242.4 L946.9,1243.0 L948.3,1243.7 L949.6,1244.3 L951.0,1245.0 L952.3,1245.7 L953.7,1246.4 L955.0,1247.1 L956.3,1247.8 L957.6,1248.5 L959.0,1249.2 L960.3,1249.9 L961.6,1250.6 L963.0,1251.3 L964.3,1252.0 L965.6,1252.7 L967.0,1253.4 L968.3,1254.0 L969.7,1254.7 L971.0,1255.3 L972.4,1255.8 L973.8,1256.2 L975.3,1256.5 L976.8,1256.7 L978.3,1256.8 L979.9,1256.8 L981.4,1256.9 L982.9,1257.0 L984.4,1257.1 L985.9,1257.3 L987.4,1257.7 L988.8,1258.3 L990.1,1258.9 L991.5,1259.7 L992.7,1260.4 L994.0,1261.3 L995.2,1262.1 L996.4,1263.0 L997.6,1264.0 L998.8,1264.9 L999.9,1265.9 L1001.0,1266.9 L1002.1,1268.0 L1003.2,1269.0 L1004.2,1270.1 L1005.2,1271.2 L1006.2,1272.3 L1007.2,1273.4 L1008.1,1274.6 L1009.1,1275.7 L1010.0,1276.9 L1010.9,1278.0 L1011.9,1279.2 L1012.8,1280.3 L1013.8,1281.5 L1014.8,1282.6 L1015.8,1283.8 L1016.8,1284.9 L1017.9,1286.0 L1019.0,1287.0 L1020.1,1288.1 L1021.3,1289.1 L1022.5,1290.1 L1023.7,1291.0 L1025.0,1291.9 L1026.3,1292.7 L1027.6,1293.4 L1029.0,1294.1 L1030.4,1294.7 L1031.8,1295.2 L1033.2,1295.7 L1034.6,1296.1 L1036.1,1296.4 L1037.5,1296.6 L1039.0,1296.8 L1040.5,1296.8 L1042.0,1296.8 L1043.6,1296.7 L1045.1,1296.6 L1046.6,1296.3 L1048.1,1296.0 L1049.6,1295.7 L1051.1,1295.2 L1052.5,1294.8 L1053.9,1294.3 L1055.4,1293.7 L1056.8,1293.2 L1058.2,1292.7 L1059.6,1292.1 L1061.0,1291.5 L1062.4,1290.9 L1063.7,1290.3 L1065.1,1289.7 L1066.4,1289.0 L1067.8,1288.4 L1069.1,1287.7 L1070.4,1287.0 L1071.7,1286.3 L1073.0,1285.5 L1074.3,1284.8 L1075.6,1284.0 L1076.9,1283.2 L1078.2,1282.4 L1079.4,1281.5 L1080.7,1280.6 L1081.9,1279.7 L1083.0,1278.7 L1084.0,1277.6 L1084.9,1276.4 L1085.9,1275.3 L1086.9,1274.2 L1088.0,1273.1 L1089.1,1272.1 L1090.4,1271.2 L1091.7,1270.4 L1093.0,1269.7 L1094.4,1269.0 L1095.8,1268.4 L1097.2,1267.9 L1098.6,1267.5 L1100.1,1267.2 L1101.5,1266.9 L1103.1,1266.8 L1104.6,1266.9 L1106.1,1267.0 L1107.6,1267.3 L1109.0,1267.5 L1110.5,1267.9 L1112.0,1268.2 L1113.4,1268.6 L1114.9,1268.9 L1116.3,1269.3 L1117.7,1269.8 L1119.2,1270.2 L1120.6,1270.7 L1122.0,1271.2 L1123.4,1271.7 L1124.8,1272.3 L1126.2,1272.9 L1127.6,1273.5 L1128.9,1274.2 L1130.3,1274.9 L1131.6,1275.6 L1133.0,1276.4 L1134.3,1277.2 L1135.5,1278.1 L1136.7,1279.1 L1137.8,1280.1 L1138.9,1281.1 L1139.9,1282.2 L1140.9,1283.3 L1141.9,1284.4 L1142.9,1285.5 L1144.0,1286.6 L1145.1,1287.6 L1146.3,1288.5 L1147.6,1289.4 L1148.9,1290.3 L1150.1,1291.1 L1151.4,1292.0 L1152.7,1292.8 L1154.0,1293.5 L1155.4,1294.2 L1156.8,1294.7 L1158.2,1295.2 L1159.6,1295.6 L1161.1,1295.8 L1162.6,1295.9 L1164.1,1295.9 L1165.6,1295.8 L1167.1,1295.6 L1168.6,1295.4 L1170.1,1295.2 L1171.6,1295.0 L1173.1,1294.8 L1174.6,1294.6 L1176.1,1294.5 L1177.6,1294.5 L1179.1,1294.6 L1180.6,1294.6 L1182.1,1294.6 L1183.6,1294.7 L1185.1,1294.8 L1186.6,1294.9 L1188.0,1295.0 L1189.5,1295.3 L1191.0,1295.5 L1192.5,1295.9 L1194.0,1296.3 L1195.5,1296.8 L1196.9,1297.3 L1198.3,1297.9 L1199.6,1298.6 L1201.0,1299.3 L1202.3,1300.0 L1203.5,1300.8 L1204.8,1301.7 L1206.0,1302.6 L1207.1,1303.6 L1208.3,1304.5 L1209.5,1305.5 L1210.6,1306.5 L1211.7,1307.5 L1212.9,1308.4 L1214.0,1309.4 L1215.1,1310.4 L1216.3,1311.4 L1217.4,1312.3 L1218.6,1313.2 L1219.8,1314.2 L1221.0,1315.1 L1222.1,1316.0 L1223.3,1317.0 L1224.5,1317.9 L1225.7,1318.8 L1226.9,1319.7 L1228.0,1320.7 L1229.2,1321.6 L1230.4,1322.5 L1231.6,1323.4 L1232.8,1324.4 L1234.0,1325.3 L1235.1,1326.2 L1236.3,1327.1 L1237.5,1328.1 L1238.7,1329.0 L1239.9,1329.9 L1241.0,1330.8 L1242.2,1331.8 L1243.4,1332.7 L1244.6,1333.7 L1245.7,1334.6 L1246.9,1335.6 L1248.0,1336.6 L1249.2,1337.5 L1250.3,1338.5 L1251.4,1339.5 L1252.5,1340.5 L1253.7,1341.5 L1254.8,1342.5 L1255.9,1343.5 L1256.9,1344.5 L1257.9,1345.7 L1258.8,1346.8 L1259.6,1348.1 L1260.5,1349.3 L1261.4,1350.5 L1262.3,1351.7 L1263.4,1352.8 L1264.5,1353.9 L1265.7,1354.9 L1267.0,1355.9 L1268.2,1356.9 L1269.5,1357.8 L1270.8,1358.7 L1272.1,1359.5 L1273.5,1360.3 L1274.8,1361.1 L1276.2,1361.8 L1277.6,1362.4 L1279.0,1363.0 L1280.4,1363.6 L1281.8,1364.1 L1283.2,1364.6 L1284.6,1365.0 L1286.1,1365.4 L1287.5,1365.7 L1289.0,1366.0 L1290.5,1366.2 L1291.9,1366.3 L1293.4,1366.4 L1294.9,1366.5 L1296.4,1366.4 L1297.9,1366.3 L1299.4,1366.2 L1300.9,1366.0 L1302.4,1365.8 L1303.9,1365.6 L1305.4,1365.3 L1306.9,1365.1 L1308.4,1364.8 L1309.8,1364.5 L1311.3,1364.1 L1312.7,1363.7 L1314.2,1363.2 L1315.6,1362.7 L1317.1,1362.2 L1318.5,1361.7 L1319.9,1361.3 L1321.4,1360.8 L1322.8,1360.5 L1324.2,1360.2 L1325.6,1360.0 L1327.0,1360.1 L1328.5,1360.3 L1329.9,1360.7 L1331.3,1361.3 L1332.7,1361.9 L1334.1,1362.6 L1335.5,1363.4 L1336.9,1364.3 L1338.3,1365.1 L1339.7,1366.0 L1341.1,1366.8 L1342.5,1367.6 L1343.9,1368.3 L1345.3,1368.9 L1346.7,1369.4 L1348.1,1369.8 L1349.5,1370.0 L1350.9,1370.0 L1352.3,1369.9 L1353.8,1369.8 L1355.2,1369.7 L1356.7,1369.4 L1358.1,1369.1 L1359.6,1368.6 L1361.0,1368.1 L1362.4,1367.4 L1363.8,1366.6 L1365.2,1365.6 L1366.5,1364.5 L1367.8,1363.3 L1368.8,1362.0 L1369.7,1360.7 L1370.5,1359.4 L1371.2,1358.1 L1371.8,1356.8 L1372.4,1355.5 L1373.0,1354.2 L1373.7,1352.9 L1374.4,1351.7 L1375.2,1350.5 L1376.1,1349.3 L1377.0,1348.1 L1377.9,1346.9 L1378.9,1345.7 L1379.8,1344.5 L1380.7,1343.4 L1381.7,1342.2 L1382.6,1341.0 L1383.6,1339.9 L1384.5,1338.7 L1385.5,1337.5 L1386.4,1336.3 L1387.3,1335.2 L1388.3,1334.0 L1389.2,1332.8 L1390.1,1331.6 L1391.0,1330.4 L1391.8,1329.1 L1392.7,1327.9 L1393.5,1326.6 L1394.3,1325.4 L1395.0,1324.1 L1395.7,1322.7 L1396.4,1321.4 L1397.0,1320.0 L1397.7,1318.7 L1398.4,1317.3 L1399.0,1316.0 L1399.7,1314.6 L1400.4,1313.3 L1401.2,1312.0 L1402.0,1310.8 L1402.8,1309.5 L1403.7,1308.3 L1404.6,1307.1 L1405.6,1305.9 L1406.5,1304.7 L1407.4,1303.6 L1408.3,1302.4 L1409.2,1301.1 L1410.1,1299.9 L1410.9,1298.6 L1411.6,1297.3 L1412.3,1296.0 L1413.0,1294.7 L1413.7,1293.3 L1414.4,1292.0 L1415.0,1290.7 L1415.7,1289.3 L1416.4,1288.0 L1417.1,1286.6 L1417.7,1285.3 L1418.4,1283.9 L1419.1,1282.6 L1419.7,1281.3 L1420.4,1279.9 L1421.1,1278.6 L1421.7,1277.2 L1422.4,1275.9 L1423.1,1274.5 L1423.7,1273.2 L1424.4,1271.8 L1425.1,1270.5 L1425.8,1269.2 L1426.4,1267.8 L1427.1,1266.5 L1427.8,1265.2 L1428.5,1263.8 L1429.2,1262.5 L1429.9,1261.2 L1430.6,1259.8 L1431.3,1258.5 L1432.0,1257.2 L1432.7,1255.9 L1433.6,1254.6 L1434.5,1253.4 L1435.5,1252.3 L1436.5,1251.2 L1437.6,1250.1 L1438.8,1249.1 L1440.0,1248.2 L1441.2,1247.3 L1442.5,1246.4 L1443.8,1245.6 L1445.1,1244.8 L1446.5,1244.2 L1447.9,1243.8 L1449.4,1243.3 L1450.7,1242.7 L1452.0,1242.0 L1453.3,1241.2 L1454.6,1240.4 L1455.9,1239.6 L1457.1,1238.8 L1458.4,1238.0 L1459.6,1237.1 L1460.9,1236.3 L1462.2,1235.5 L1463.5,1234.7 L1464.8,1233.9 L1466.1,1233.2 L1467.4,1232.5 L1468.7,1231.8 L1470.1,1231.2 L1471.5,1230.7 L1472.9,1230.2 L1474.4,1229.8 L1475.8,1229.4 L1477.3,1229.0 L1478.7,1228.6 L1480.2,1228.2 L1481.6,1227.8 L1483.1,1227.4 L1484.5,1226.9 L1485.9,1226.3 L1487.3,1225.7 L1488.6,1225.1 L1490.0,1224.5 L1491.4,1223.9 L1492.7,1223.2 L1494.0,1222.5 L1495.4,1221.8 L1496.7,1221.1 L1498.0,1220.4 L1499.3,1219.7 L1500.6,1218.9 L1501.8,1218.1 L1503.0,1217.2 L1504.2,1216.3 L1505.3,1215.3 L1506.3,1214.3 L1507.4,1213.2 L1508.5,1212.2 L1509.5,1211.1 L1510.6,1210.0 L1511.7,1209.0 L1512.8,1207.9 L1513.9,1206.9 L1515.0,1205.9 L1516.2,1205.0 L1517.5,1204.1 L1518.8,1203.3 L1520.2,1202.5 L1521.6,1201.9 L1523.1,1201.3 L1524.6,1200.8 L1526.0,1200.4 L1527.5,1200.1 L1529.0,1199.9 L1530.5,1199.8 L1532.0,1199.7 L1533.5,1199.7 L1535.0,1199.7 L1536.5,1199.8 L1538.0,1199.9 L1539.4,1200.3 L1540.9,1200.7 L1542.4,1201.1 L1543.8,1201.5 L1545.3,1201.9 L1546.7,1202.3 L1548.1,1202.8 L1549.5,1203.2 L1551.0,1203.7 L1552.4,1204.1 L1553.8,1204.6 L1555.2,1205.1 L1556.6,1205.6 L1558.1,1206.1 L1559.5,1206.6 L1560.9,1207.1 L1562.3,1207.7 L1563.7,1208.2 L1565.1,1208.7 L1566.5,1209.2 L1567.9,1209.8 L1569.3,1210.3 L1570.7,1210.8 L1572.1,1211.4 L1573.5,1211.9 L1574.9,1212.4 L1576.3,1213.0 L1577.7,1213.5 L1579.1,1214.1 L1580.5,1214.6 L1581.9,1215.2 L1583.3,1215.7 L1584.7,1216.3 L1586.1,1216.9 L1587.4,1217.5 L1588.8,1218.2 L1590.1,1218.8 L1591.5,1219.5 L1592.8,1220.2 L1594.1,1220.9 L1595.5,1221.6 L1596.8,1222.4 L1598.0,1223.2 L1599.3,1224.0 L1600.4,1225.0 L1601.4,1226.1 L1602.3,1227.4 L1603.1,1228.7 L1603.9,1230.1 L1604.7,1231.4 L1605.6,1232.6 L1606.5,1233.8 L1607.6,1234.8 L1608.8,1235.7 L1610.1,1236.4 L1611.5,1237.1 L1612.8,1237.8 L1614.1,1238.5 L1615.5,1239.1 L1616.8,1239.8 L1618.2,1240.5 L1619.5,1241.2 L1620.9,1241.8 L1622.2,1242.5 L1623.6,1243.1 L1624.9,1243.8 L1626.3,1244.4 L1627.6,1245.1 L1628.9,1245.8 L1630.3,1246.4 L1631.6,1247.1 L1633.0,1247.8 L1634.3,1248.5 L1635.6,1249.1 L1637.0,1249.8 L1638.3,1250.5 L1639.6,1251.3 L1640.9,1252.0 L1642.2,1252.7 L1643.5,1253.4 L1644.9,1254.2 L1646.2,1254.9 L1647.5,1255.6 L1648.9,1256.2 L1650.3,1256.8 L1651.7,1257.3 L1653.1,1257.6 L1654.6,1257.7 L1656.1,1257.8 L1657.6,1257.8 L1659.2,1257.8 L1660.7,1257.8 L1662.2,1257.8 L1663.8,1257.9 L1665.3,1258.1 L1666.7,1258.3 L1668.2,1258.6 L1669.7,1258.9 L1671.1,1259.3 L1672.6,1259.7 L1674.0,1260.3 L1675.4,1261.0 L1676.7,1261.7 L1678.0,1262.6 L1679.2,1263.4 L1680.4,1264.3 L1681.6,1265.3 L1682.7,1266.3 L1683.8,1267.3 L1684.9,1268.3 L1686.0,1269.4 L1687.0,1270.5 L1688.0,1271.6 L1689.0,1272.7 L1690.0,1273.8 L1691.0,1275.0 L1692.0,1276.1 L1692.9,1277.3 L1693.7,1278.5 L1694.5,1279.8 L1695.4,1281.0 L1696.2,1282.3 L1697.0,1283.5 L1697.9,1284.7 L1698.8,1286.0 L1699.8,1287.1 L1700.8,1288.3 L1701.9,1289.4 L1703.0,1290.4 L1704.1,1291.4 L1705.3,1292.4 L1706.5,1293.3 L1707.7,1294.1 L1709.0,1294.9 L1710.3,1295.6 L1711.7,1296.2 L1713.2,1296.8 L1714.6,1297.2 L1716.1,1297.5 L1717.6,1297.6 L1719.2,1297.7 L1720.7,1297.7 L1722.2,1297.6 L1723.7,1297.4 L1725.2,1297.2 L1726.6,1297.0 L1728.1,1296.8 L1729.6,1296.6 L1731.1,1296.4 L1732.6,1296.2 L1734.0,1295.9 L1735.5,1295.6 L1737.0,1295.2 L1738.4,1294.8 L1739.9,1294.4 L1741.3,1293.9 L1742.7,1293.3 L1744.1,1292.7 L1745.5,1291.9 L1746.8,1291.2 L1748.1,1290.3 L1749.3,1289.5 L1750.5,1288.6 L1751.7,1287.7 L1752.9,1286.8 L1754.0,1285.8 L1755.2,1284.9 L1756.3,1283.9 L1757.4,1282.9 L1758.4,1281.9 L1759.5,1280.8 L1760.6,1279.8 L1761.6,1278.7 L1762.7,1277.7 L1763.9,1276.7 L1765.0,1275.7 L1766.3,1274.8 L1767.6,1273.8 L1768.9,1273.0 L1770.2,1272.2 L1771.6,1271.5 L1773.0,1270.8 L1774.4,1270.2 L1775.8,1269.7 L1777.2,1269.3 L1778.7,1268.9 L1780.1,1268.6 L1781.6,1268.3 L1783.0,1268.1 L1784.5,1268.0 L1786.0,1268.0 L1787.5,1268.1 L1789.0,1268.2 L1790.5,1268.4 L1792.0,1268.7 L1793.5,1269.0 L1795.0,1269.4 L1796.4,1269.9 L1797.9,1270.4 L1799.3,1271.0 L1800.7,1271.6 L1802.1,1272.2 L1803.5,1272.8 L1804.8,1273.4 L1806.2,1274.1 L1807.5,1274.7 L1808.8,1275.4 L1810.1,1276.2 L1811.4,1276.9 L1812.7,1277.8 L1813.9,1278.6 L1815.2,1279.4 L1816.4,1280.3 L1817.6,1281.1 L1818.9,1282.0 L1820.1,1282.8 L1821.4,1283.7 L1822.6,1284.5 L1823.8,1285.4 L1825.1,1286.2 L1826.3,1287.1 L1827.5,1287.9 L1828.8,1288.7 L1830.0,1289.6 L1831.2,1290.4 L1832.4,1291.2 L1833.6,1292.1 L1834.9,1292.9 L1836.1,1293.7 L1837.5,1294.5 L1838.8,1295.3 L1840.3,1296.0 L1841.7,1296.6 L1843.2,1297.0 L1844.7,1297.3 L1846.1,1297.4 L1847.7,1297.5 L1849.2,1297.5 L1850.7,1297.5 L1852.2,1297.5 L1853.7,1297.5 L1855.2,1297.5 L1856.7,1297.4 L1858.2,1297.3 L1859.7,1297.1 L1861.2,1296.9 L1862.7,1296.6 L1864.2,1296.5 L1865.7,1296.3 L1867.1,1296.2 L1868.6,1296.2 L1870.1,1296.3 L1871.6,1296.4 L1873.1,1296.6 L1874.6,1296.8 L1876.1,1297.1 L1877.5,1297.5 L1879.0,1297.9 L1880.4,1298.4 L1881.8,1299.0 L1883.2,1299.6 L1884.6,1300.3 L1886.0,1301.1 L1887.3,1301.8 L1888.7,1302.6 L1890.0,1303.4 L1891.3,1304.2 L1892.6,1304.9 L1893.9,1305.7 L1895.1,1306.6 L1896.4,1307.4 L1897.6,1308.2 L1898.8,1309.0 L1900.0,1309.9 L1901.3,1310.7 L1902.5,1311.6 L1903.7,1312.5 L1904.9,1313.3 L1906.0,1314.2 L1907.2,1315.1 L1908.4,1316.0 L1909.6,1316.9 L1910.8,1317.8 L1912.0,1318.8 L1913.1,1319.7 L1914.3,1320.7 L1915.4,1321.7 L1916.6,1322.7 L1917.7,1323.7 L1918.8,1324.7 L1920.0,1325.6 L1921.1,1326.5 L1922.3,1327.5 L1923.5,1328.3 L1924.8,1329.2 L1926.0,1330.0 L1927.3,1330.9 L1928.5,1331.7 L1929.8,1332.5 L1931.1,1333.3 L1932.4,1334.0 L1933.7,1334.8 L1935.0,1335.5 L1936.3,1336.3 L1937.6,1337.0 L1938.9,1337.7 L1940.3,1338.4" fill="none" stroke="#3953a4" stroke-width="12.1" stroke-dasharray="32 7.25 16.5 7.25" stroke-dashoffset="1.5" stroke-linejoin="round"/>
<path d="M236.0,1278.7 L236.1,1277.2 L236.1,1275.7 L236.2,1274.2 L236.2,1272.7 L236.3,1271.2 L236.4,1269.7 L236.4,1268.2 L236.5,1266.7 L236.6,1265.2 L236.7,1263.7 L236.7,1262.2 L236.8,1260.6 L236.9,1259.1 L237.0,1257.6 L237.1,1256.1 L237.1,1254.6 L237.2,1253.1 L237.3,1251.6 L237.4,1250.1 L237.5,1248.6 L237.6,1247.1 L237.7,1245.6 L237.8,1244.1 L237.9,1242.6 L238.0,1241.1 L238.1,1239.6 L238.3,1238.1 L238.4,1236.6 L238.5,1235.1 L238.6,1233.6 L238.7,1232.1 L238.8,1230.6 L238.9,1229.1 L239.0,1227.6 L239.0,1226.1 L239.1,1224.6 L239.2,1223.1 L239.3,1221.6 L239.4,1220.1 L239.4,1218.6 L239.5,1217.1 L239.6,1215.6 L239.6,1214.0 L239.7,1212.5 L239.8,1211.0 L239.9,1209.5 L239.9,1208.0 L240.0,1206.5 L240.1,1205.0 L240.1,1203.5 L240.2,1202.0 L240.3,1200.5 L240.3,1199.0 L240.4,1197.5 L240.4,1196.0 L240.4,1194.5 L240.4,1193.0 L240.6,1191.5 L240.8,1190.0 L241.4,1188.6 L242.1,1187.3 L243.0,1186.0 L243.9,1184.8 L244.7,1183.5 L245.6,1182.3 L246.5,1181.0 L247.3,1179.8 L248.0,1178.5 L248.6,1177.1 L249.1,1175.7 L249.5,1174.2 L249.9,1172.8 L250.4,1171.3 L250.9,1169.9 L251.4,1168.5 L252.2,1167.2 L253.3,1166.0 L254.6,1166.2 L255.7,1167.5 L256.5,1168.9 L256.9,1170.2 L257.4,1171.7 L257.8,1173.1 L258.2,1174.5 L258.7,1176.0 L259.1,1177.4 L259.4,1178.9 L259.7,1180.4 L260.0,1181.9 L260.3,1183.3 L260.5,1184.8 L260.8,1186.3 L261.0,1187.8 L261.1,1189.3 L261.3,1190.8 L261.5,1192.3 L261.7,1193.8 L261.8,1195.3 L262.0,1196.8 L262.1,1198.3 L262.3,1199.8 L262.4,1201.3 L262.6,1202.8 L262.7,1204.3 L262.9,1205.8 L263.0,1207.3 L263.2,1208.8 L263.3,1210.3 L263.4,1211.8 L263.6,1213.3 L263.7,1214.8 L263.9,1216.3 L264.0,1217.8 L264.2,1219.3 L264.3,1220.8 L264.5,1222.3 L264.6,1223.8 L264.7,1225.3 L264.9,1226.8 L265.0,1228.3 L265.2,1229.8 L265.3,1231.3 L265.5,1232.8 L265.7,1234.3 L265.8,1235.8 L266.0,1237.3 L266.1,1238.8 L266.3,1240.2 L266.4,1241.7 L266.6,1243.2 L266.8,1244.7 L266.9,1246.2 L267.1,1247.7 L267.3,1249.2 L267.4,1250.7 L267.6,1252.2 L267.8,1253.7 L268.0,1255.2 L268.2,1256.7 L268.4,1258.2 L268.6,1259.7 L268.8,1261.2 L269.0,1262.7 L269.2,1264.2 L269.4,1265.7 L269.6,1267.2 L269.8,1268.6 L270.0,1270.1 L270.2,1271.6 L270.4,1273.1 L270.6,1274.6 L270.8,1276.1 L271.0,1277.6 L271.2,1279.1 L271.4,1280.6 L271.6,1282.1 L271.8,1283.6 L272.0,1285.1 L272.2,1286.6 L272.3,1288.1 L272.5,1289.6 L272.7,1291.0 L272.9,1292.5 L273.1,1294.0 L273.3,1295.5 L273.5,1297.0 L273.7,1298.5 L273.9,1300.0 L274.1,1301.5 L274.4,1303.0 L274.6,1304.5 L274.8,1305.9 L275.0,1307.4 L275.2,1308.9 L275.8,1310.3 L276.8,1311.8 L277.9,1312.8 L279.1,1312.6 L280.2,1311.4 L281.2,1310.0 L281.7,1308.6 L282.1,1307.1 L282.4,1305.7 L282.7,1304.2 L283.0,1302.8 L283.3,1301.3 L283.6,1299.8 L283.9,1298.3 L284.2,1296.9 L284.4,1295.4 L284.7,1293.9 L285.0,1292.4 L285.2,1290.9 L285.5,1289.4 L285.7,1288.0 L286.0,1286.5 L286.3,1285.0 L286.5,1283.5 L286.8,1282.0 L287.0,1280.5 L287.2,1279.0 L287.5,1277.6 L287.7,1276.1 L287.9,1274.6 L288.1,1273.1 L288.3,1271.6 L288.5,1270.1 L288.7,1268.6 L288.9,1267.1 L289.1,1265.6 L289.3,1264.1 L289.5,1262.6 L289.7,1261.1 L289.9,1259.7 L290.1,1258.2 L290.4,1256.7 L290.6,1255.2 L290.8,1253.7 L291.0,1252.2 L291.3,1250.7 L291.5,1249.2 L291.8,1247.7 L292.0,1246.3 L292.3,1244.8 L292.6,1243.3 L292.8,1241.8 L293.1,1240.3 L293.4,1238.9 L293.7,1237.4 L294.0,1235.9 L294.2,1234.4 L294.5,1232.9 L294.8,1231.5 L295.1,1230.0 L295.4,1228.5 L295.7,1227.0 L296.0,1225.5 L296.3,1224.1 L296.6,1222.6 L296.9,1221.1 L297.3,1219.7 L297.7,1218.2 L298.0,1216.8 L298.4,1215.3 L298.8,1213.9 L299.3,1212.5 L299.9,1211.1 L300.8,1209.8 L302.0,1208.6 L303.3,1208.0 L304.7,1208.4 L305.9,1209.4 L306.8,1210.6 L307.7,1211.8 L308.6,1213.0 L309.5,1214.2 L310.5,1215.4 L311.4,1216.6 L312.3,1217.8 L313.1,1219.1 L313.7,1220.4 L314.3,1221.8 L314.8,1223.3 L315.3,1224.7 L315.9,1226.1 L316.7,1227.4 L317.4,1228.7 L318.3,1230.0 L319.1,1231.3 L320.1,1232.5 L321.1,1233.6 L322.2,1234.7 L323.4,1235.6 L324.7,1236.4 L326.0,1237.1 L327.4,1237.7 L328.8,1238.3 L330.2,1238.8 L331.6,1239.2 L333.1,1239.7 L334.5,1240.2 L336.0,1240.6 L337.4,1240.9 L338.9,1241.3 L340.3,1241.7 L341.7,1242.3 L343.1,1243.0 L344.4,1243.8 L345.6,1244.7 L346.8,1245.6 L348.0,1246.5 L349.2,1247.4 L350.4,1248.3 L351.7,1249.1 L353.0,1249.9 L354.3,1250.6 L355.6,1251.4 L356.8,1252.2 L358.1,1253.0 L359.4,1253.7 L360.7,1254.5 L362.0,1255.3 L363.3,1256.1 L364.6,1256.8 L365.9,1257.6 L367.2,1258.4 L368.5,1259.2 L369.7,1260.0 L371.0,1260.7 L372.3,1261.5 L373.6,1262.3 L374.9,1263.1 L376.2,1263.9 L377.5,1264.7 L378.7,1265.4 L380.0,1266.2 L381.3,1267.0 L382.6,1267.8 L383.9,1268.6 L385.2,1269.4 L386.5,1270.1 L387.8,1270.9 L389.1,1271.7 L390.4,1272.4 L391.7,1273.2 L393.0,1274.0 L394.3,1274.7 L395.6,1275.5 L396.9,1276.2 L398.2,1276.9 L399.5,1277.7 L400.8,1278.4 L402.1,1279.1 L403.5,1279.9 L404.8,1280.6 L406.1,1281.3 L407.4,1282.0 L408.7,1282.8 L410.1,1283.5 L411.4,1284.2 L412.7,1284.9 L414.0,1285.6 L415.4,1286.4 L416.7,1287.1 L418.0,1287.8 L419.3,1288.5 L420.7,1289.2 L422.0,1289.9 L423.3,1290.6 L424.7,1291.3 L426.0,1292.0 L427.7,1292.9 L429.4,1293.9 L431.1,1294.8 L432.8,1295.7 L434.5,1296.6 L436.2,1297.6 L437.9,1298.5 L439.6,1299.4 L441.3,1300.3 L443.1,1301.2 L444.8,1302.1 L446.5,1303.1 L448.2,1304.0 L449.9,1304.8 L451.6,1305.7 L453.3,1306.6 L455.0,1307.5 L456.7,1308.4 L458.4,1309.3 L460.1,1310.1 L461.8,1311.0 L463.5,1311.8 L465.2,1312.7 L466.9,1313.5 L468.6,1314.3 L470.3,1315.2 L472.0,1316.0 L473.8,1316.8 L475.5,1317.6 L477.2,1318.4 L478.9,1319.2 L480.6,1319.9 L482.3,1320.7 L484.0,1321.5 L485.7,1322.2 L487.4,1322.9 L489.1,1323.7 L490.8,1324.4 L492.5,1325.1 L494.2,1325.8 L495.9,1326.5 L497.6,1327.1 L499.3,1327.8 L501.0,1328.4 L502.7,1329.1 L504.5,1329.7 L506.2,1330.3 L507.9,1330.9 L509.6,1331.5 L511.3,1332.1 L513.0,1332.7 L514.7,1333.2 L516.4,1333.8 L518.1,1334.3 L519.8,1334.8 L521.5,1335.3 L523.2,1335.8 L524.9,1336.3 L526.6,1336.7 L528.3,1337.2 L530.0,1337.6 L531.7,1338.0 L533.4,1338.4 L535.2,1338.8 L536.9,1339.2 L538.6,1339.5 L540.3,1339.9 L542.0,1340.2 L543.7,1340.5 L545.4,1340.8 L547.1,1341.1 L548.8,1341.4 L550.5,1341.6 L552.2,1341.9 L553.9,1342.1 L555.6,1342.3 L557.3,1342.5 L559.0,1342.7 L560.7,1342.8 L562.4,1343.0 L564.1,1343.1 L565.9,1343.2 L567.6,1343.3 L569.3,1343.4 L571.0,1343.4 L572.7,1343.5 L574.4,1343.5 L576.1,1343.5 L577.8,1343.5 L579.5,1343.5 L581.2,1343.5 L582.9,1343.4 L584.6,1343.4 L586.3,1343.3 L588.0,1343.2 L589.7,1343.1 L591.4,1343.0 L593.1,1342.8 L594.8,1342.6 L596.6,1342.5 L598.3,1342.3 L600.0,1342.1 L601.7,1341.9 L603.4,1341.6 L605.1,1341.4 L606.8,1341.1 L608.5,1340.8 L610.2,1340.5 L611.9,1340.2 L613.6,1339.9 L615.3,1339.5 L617.0,1339.2 L618.7,1338.8 L620.4,1338.4 L622.1,1338.0 L623.8,1337.6 L625.5,1337.1 L627.3,1336.7 L629.0,1336.2 L630.7,1335.8 L632.4,1335.3 L634.1,1334.8 L635.8,1334.3 L637.5,1333.7 L639.2,1333.2 L640.9,1332.6 L642.6,1332.1 L644.3,1331.5 L646.0,1330.9 L647.7,1330.3 L649.4,1329.7 L651.1,1329.1 L652.8,1328.4 L654.5,1327.8 L656.2,1327.1 L658.0,1326.4 L659.7,1325.7 L661.4,1325.0 L663.1,1324.3 L664.8,1323.6 L666.5,1322.9 L668.2,1322.2 L669.9,1321.4 L671.6,1320.7 L673.3,1319.9 L675.0,1319.1 L676.7,1318.3 L678.4,1317.6 L680.1,1316.8 L681.8,1315.9 L683.5,1315.1 L685.2,1314.3 L686.9,1313.5 L688.6,1312.6 L690.4,1311.8 L692.1,1310.9 L693.8,1310.1 L695.5,1309.2 L697.2,1308.3 L698.9,1307.5 L700.6,1306.6 L702.3,1305.7 L704.0,1304.8 L705.7,1303.9 L707.4,1303.0 L709.1,1302.1 L710.8,1301.2 L712.5,1300.3 L714.2,1299.4 L715.9,1298.4 L717.6,1297.5 L719.3,1296.6 L721.1,1295.7 L722.8,1294.7 L724.5,1293.8 L726.2,1292.9 L727.9,1291.9 L729.6,1291.0 L731.3,1290.0 L733.0,1289.1 L734.7,1288.2 L736.4,1287.2 L738.1,1286.3 L739.8,1285.3 L741.5,1284.4 L743.2,1283.4 L744.9,1282.5 L746.6,1281.6 L748.3,1280.6 L750.0,1279.7 L751.8,1278.7 L753.5,1277.8 L755.2,1276.9 L756.9,1275.9 L758.6,1275.0 L760.3,1274.1 L762.0,1273.2 L763.7,1272.2 L765.4,1271.3 L767.1,1270.4 L768.8,1269.5 L770.5,1268.6 L772.2,1267.7 L773.9,1266.8 L775.6,1265.9 L777.3,1265.0 L779.0,1264.2 L780.7,1263.3 L782.5,1262.4 L784.2,1261.5 L785.9,1260.7 L787.6,1259.8 L789.3,1259.0 L791.0,1258.1 L792.7,1257.3 L794.4,1256.5 L796.1,1255.7 L797.8,1254.9 L799.5,1254.1 L801.2,1253.3 L802.9,1252.5 L804.6,1251.7 L806.3,1250.9 L808.0,1250.2 L809.7,1249.4 L811.4,1248.7 L813.2,1247.9 L814.9,1247.2 L816.6,1246.5 L818.3,1245.7 L820.0,1245.0 L821.7,1244.4 L823.4,1243.7 L825.1,1243.0 L826.8,1242.3 L828.5,1241.7 L830.2,1241.0 L831.9,1240.4 L833.6,1239.8 L835.3,1239.2 L837.0,1238.6 L838.7,1238.0 L840.4,1237.4 L842.1,1236.8 L843.9,1236.3 L845.6,1235.7 L847.3,1235.2 L849.0,1234.7 L850.7,1234.1 L852.4,1233.6 L854.1,1233.2 L855.8,1232.7 L857.5,1232.2 L859.2,1231.8 L860.9,1231.3 L862.6,1230.9 L864.3,1230.5 L866.0,1230.1 L867.7,1229.7 L869.4,1229.3 L871.1,1228.9 L872.8,1228.6 L874.6,1228.2 L876.3,1227.9 L878.0,1227.6 L879.7,1227.3 L881.4,1227.0 L883.1,1226.7 L884.8,1226.4 L886.5,1226.2 L888.2,1226.0 L889.9,1225.7 L891.6,1225.5 L893.3,1225.3 L895.0,1225.1 L896.7,1225.0 L898.4,1224.8 L900.1,1224.7 L901.8,1224.5 L903.5,1224.4 L905.3,1224.3 L907.0,1224.2 L908.7,1224.1 L910.4,1224.1 L912.1,1224.0 L913.8,1224.0 L915.5,1223.9 L917.2,1223.9 L918.9,1223.9 L920.6,1223.9 L922.3,1224.0 L924.0,1224.0 L925.7,1224.1 L927.4,1224.1 L929.1,1224.2 L930.8,1224.3 L932.5,1224.4 L934.2,1224.6 L935.9,1224.7 L937.7,1224.8 L939.4,1225.0 L941.1,1225.2 L942.8,1225.4 L944.5,1225.6 L946.2,1225.8 L947.9,1226.0 L949.6,1226.3 L951.3,1226.5 L953.0,1226.8 L954.7,1227.1 L956.4,1227.4 L958.1,1227.7 L959.8,1228.0 L961.5,1228.3 L963.2,1228.7 L964.9,1229.0 L966.6,1229.4 L968.4,1229.8 L970.1,1230.2 L971.8,1230.6 L973.5,1231.0 L975.2,1231.4 L976.9,1231.9 L978.6,1232.3 L980.3,1232.8 L982.0,1233.3 L983.7,1233.8 L985.4,1234.3 L987.1,1234.8 L988.8,1235.3 L990.5,1235.9 L992.2,1236.4 L993.9,1237.0 L995.6,1237.6 L997.3,1238.1 L999.1,1238.7 L1000.8,1239.3 L1002.5,1240.0 L1004.2,1240.6 L1005.9,1241.2 L1007.6,1241.9 L1009.3,1242.5 L1011.0,1243.2 L1012.7,1243.9 L1014.4,1244.5 L1016.1,1245.2 L1017.8,1246.0 L1019.5,1246.7 L1021.2,1247.4 L1022.9,1248.1 L1024.6,1248.9 L1026.3,1249.6 L1028.0,1250.4 L1029.8,1251.1 L1031.5,1251.9 L1033.2,1252.7 L1034.9,1253.5 L1036.6,1254.3 L1038.3,1255.1 L1040.0,1255.9 L1041.7,1256.7 L1043.4,1257.6 L1045.1,1258.4 L1046.8,1259.2 L1048.5,1260.1 L1050.2,1260.9 L1051.9,1261.8 L1053.6,1262.7 L1055.3,1263.5 L1057.0,1264.4 L1058.7,1265.3 L1060.5,1266.2 L1062.2,1267.1 L1063.9,1268.0 L1065.6,1268.9 L1067.3,1269.8 L1069.0,1270.7 L1070.7,1271.6 L1072.4,1272.5 L1074.1,1273.4 L1075.8,1274.3 L1077.5,1275.3 L1079.2,1276.2 L1080.9,1277.1 L1082.6,1278.1 L1084.3,1279.0 L1086.0,1279.9 L1087.7,1280.9 L1089.4,1281.8 L1091.2,1282.8 L1092.9,1283.7 L1094.6,1284.6 L1096.3,1285.6 L1098.0,1286.5 L1099.7,1287.5 L1101.4,1288.4 L1103.1,1289.4 L1104.8,1290.3 L1106.5,1291.2 L1108.2,1292.2 L1109.9,1293.1 L1111.6,1294.1 L1113.3,1295.0 L1115.0,1295.9 L1116.7,1296.9 L1118.4,1297.8 L1120.1,1298.7 L1121.9,1299.6 L1123.6,1300.5 L1125.3,1301.5 L1127.0,1302.4 L1128.7,1303.3 L1130.4,1304.2 L1132.1,1305.1 L1133.8,1306.0 L1135.5,1306.8 L1137.2,1307.7 L1138.9,1308.6 L1140.6,1309.5 L1142.3,1310.3 L1144.0,1311.2 L1145.7,1312.0 L1147.4,1312.9 L1149.1,1313.7 L1150.8,1314.5 L1152.6,1315.4 L1154.3,1316.2 L1156.0,1317.0 L1157.7,1317.8 L1159.4,1318.6 L1161.1,1319.3 L1162.8,1320.1 L1164.5,1320.9 L1166.2,1321.6 L1167.9,1322.4 L1169.6,1323.1 L1171.3,1323.8 L1173.0,1324.5 L1174.7,1325.2 L1176.4,1325.9 L1178.1,1326.6 L1179.8,1327.3 L1181.5,1327.9 L1183.2,1328.6 L1185.0,1329.2 L1186.7,1329.9 L1188.4,1330.5 L1190.1,1331.1 L1191.8,1331.7 L1193.5,1332.2 L1195.2,1332.8 L1196.9,1333.3 L1198.6,1333.9 L1200.3,1334.4 L1202.0,1334.9 L1203.7,1335.4 L1205.4,1335.9 L1207.1,1336.4 L1208.8,1336.8 L1210.5,1337.3 L1212.2,1337.7 L1213.9,1338.1 L1215.7,1338.5 L1217.4,1338.9 L1219.1,1339.3 L1220.8,1339.6 L1222.5,1340.0 L1224.2,1340.3 L1225.9,1340.6 L1227.6,1340.9 L1229.3,1341.2 L1231.0,1341.4 L1232.7,1341.7 L1234.4,1341.9 L1236.1,1342.1 L1237.8,1342.3 L1239.5,1342.5 L1241.2,1342.7 L1242.9,1342.9 L1244.6,1343.0 L1246.4,1343.1 L1248.1,1343.2 L1249.8,1343.3 L1251.5,1343.4 L1253.2,1343.5 L1254.9,1343.5 L1256.6,1343.5 L1258.3,1343.5 L1260.0,1343.5 L1261.7,1343.5 L1263.4,1343.5 L1265.1,1343.4 L1266.8,1343.4 L1268.5,1343.3 L1270.2,1343.2 L1271.9,1343.1 L1273.6,1342.9 L1275.3,1342.8 L1277.1,1342.6 L1278.8,1342.4 L1280.5,1342.2 L1282.2,1342.0 L1283.9,1341.8 L1285.6,1341.6 L1287.3,1341.3 L1289.0,1341.0 L1290.7,1340.7 L1292.4,1340.4 L1294.1,1340.1 L1295.8,1339.8 L1297.5,1339.4 L1299.2,1339.1 L1300.9,1338.7 L1302.6,1338.3 L1304.3,1337.9 L1306.0,1337.5 L1307.8,1337.0 L1309.5,1336.6 L1311.2,1336.1 L1312.9,1335.6 L1314.6,1335.2 L1316.3,1334.7 L1318.0,1334.1 L1319.7,1333.6 L1321.4,1333.1 L1323.1,1332.5 L1324.8,1331.9 L1326.5,1331.4 L1328.2,1330.8 L1329.9,1330.2 L1331.6,1329.5 L1333.3,1328.9 L1335.0,1328.3 L1336.7,1327.6 L1338.5,1326.9 L1340.2,1326.3 L1341.9,1325.6 L1343.6,1324.9 L1345.3,1324.2 L1347.0,1323.5 L1348.7,1322.7 L1350.4,1322.0 L1352.1,1321.2 L1353.8,1320.5 L1355.5,1319.7 L1357.2,1318.9 L1358.9,1318.2 L1360.6,1317.4 L1362.3,1316.6 L1364.0,1315.8 L1365.7,1314.9 L1367.4,1314.1 L1369.2,1313.3 L1370.9,1312.4 L1372.6,1311.6 L1374.3,1310.7 L1376.0,1309.9 L1377.7,1309.0 L1379.4,1308.1 L1381.1,1307.3 L1382.8,1306.4 L1384.5,1305.5 L1386.2,1304.6 L1387.9,1303.7 L1389.6,1302.8 L1391.3,1301.9 L1393.0,1301.0 L1394.7,1300.1 L1396.4,1299.1 L1398.1,1298.2 L1399.9,1297.3 L1401.6,1296.4 L1403.3,1295.4 L1405.0,1294.5 L1406.7,1293.6 L1408.4,1292.6 L1410.1,1291.7 L1411.8,1290.8 L1413.5,1289.8 L1415.2,1288.9 L1416.9,1287.9 L1418.6,1287.0 L1420.3,1286.0 L1422.0,1285.1 L1423.7,1284.2 L1425.4,1283.2 L1427.1,1282.3 L1428.8,1281.3 L1430.6,1280.4 L1432.3,1279.4 L1434.0,1278.5 L1435.7,1277.6 L1437.4,1276.6 L1439.1,1275.7 L1440.8,1274.8 L1442.5,1273.9 L1444.2,1272.9 L1445.9,1272.0 L1447.6,1271.1 L1449.3,1270.2 L1451.0,1269.3 L1452.7,1268.4 L1454.4,1267.5 L1456.1,1266.6 L1457.8,1265.7 L1459.5,1264.8 L1461.2,1263.9 L1463.0,1263.1 L1464.7,1262.2 L1466.4,1261.3 L1468.1,1260.5 L1469.8,1259.6 L1471.5,1258.8 L1473.2,1258.0 L1474.9,1257.1 L1476.6,1256.3 L1478.3,1255.5 L1480.0,1254.7 L1481.7,1253.9 L1483.4,1253.1 L1485.1,1252.3 L1486.8,1251.5 L1488.5,1250.7 L1490.2,1250.0 L1491.9,1249.2 L1493.7,1248.5 L1495.4,1247.7 L1497.1,1247.0 L1498.8,1246.3 L1500.5,1245.6 L1502.2,1244.9 L1503.9,1244.2 L1505.6,1243.5 L1507.3,1242.8 L1509.0,1242.2 L1510.7,1241.5 L1512.4,1240.9 L1514.1,1240.3 L1515.8,1239.6 L1517.5,1239.0 L1519.2,1238.4 L1520.9,1237.8 L1522.6,1237.3 L1524.4,1236.7 L1526.1,1236.1 L1527.8,1235.6 L1529.5,1235.1 L1531.2,1234.5 L1532.9,1234.0 L1534.6,1233.5 L1536.3,1233.0 L1538.0,1232.6 L1539.7,1232.1 L1541.4,1231.7 L1543.1,1231.2 L1544.8,1230.8 L1546.5,1230.4 L1548.2,1230.0 L1549.9,1229.6 L1551.6,1229.2 L1553.3,1228.8 L1555.1,1228.5 L1556.8,1228.1 L1558.5,1227.8 L1560.2,1227.5 L1561.9,1227.2 L1563.6,1226.9 L1565.3,1226.6 L1567.0,1226.4 L1568.7,1226.1 L1570.4,1225.9 L1572.1,1225.7 L1573.8,1225.5 L1575.5,1225.3 L1577.2,1225.1 L1578.9,1224.9 L1580.6,1224.8 L1582.3,1224.6 L1584.0,1224.5 L1585.8,1224.4 L1587.5,1224.3 L1589.2,1224.2 L1590.9,1224.1 L1592.6,1224.0 L1594.3,1224.0 L1596.0,1224.0 L1597.7,1223.9 L1599.4,1223.9 L1601.1,1223.9 L1602.8,1224.0 L1604.5,1224.0 L1606.2,1224.0 L1607.9,1224.1 L1609.6,1224.2 L1611.3,1224.2 L1613.0,1224.3 L1614.7,1224.5 L1616.5,1224.6 L1618.2,1224.7 L1619.9,1224.9 L1621.6,1225.0 L1623.3,1225.2 L1625.0,1225.4 L1626.7,1225.6 L1628.4,1225.8 L1630.1,1226.1 L1631.8,1226.3 L1633.5,1226.6 L1635.2,1226.9 L1636.9,1227.1 L1638.6,1227.4 L1640.3,1227.7 L1642.0,1228.1 L1643.7,1228.4 L1645.4,1228.8 L1647.2,1229.1 L1648.9,1229.5 L1650.6,1229.9 L1652.3,1230.3 L1654.0,1230.7 L1655.7,1231.1 L1657.4,1231.5 L1659.1,1232.0 L1660.8,1232.5 L1662.5,1232.9 L1664.2,1233.4 L1665.9,1233.9 L1667.6,1234.4 L1669.3,1234.9 L1671.0,1235.5 L1672.7,1236.0 L1674.4,1236.6 L1676.1,1237.1 L1677.9,1237.7 L1679.6,1238.3 L1681.3,1238.9 L1683.0,1239.5 L1684.7,1240.1 L1686.4,1240.7 L1688.1,1241.4 L1689.8,1242.0 L1691.5,1242.7 L1693.2,1243.3 L1694.9,1244.0 L1696.6,1244.7 L1698.3,1245.4 L1700.0,1246.1 L1701.7,1246.8 L1703.4,1247.6 L1705.1,1248.3 L1706.8,1249.0 L1708.5,1249.8 L1710.3,1250.6 L1712.0,1251.3 L1713.7,1252.1 L1715.4,1252.9 L1717.1,1253.7 L1718.8,1254.5 L1720.5,1255.3 L1722.2,1256.1 L1723.9,1256.9 L1725.6,1257.8 L1727.3,1258.6 L1729.0,1259.4 L1730.7,1260.3 L1732.4,1261.1 L1734.1,1262.0 L1735.8,1262.9 L1737.5,1263.7 L1739.2,1264.6 L1741.0,1265.5 L1742.7,1266.4 L1744.4,1267.3 L1746.1,1268.2 L1747.8,1269.1 L1749.5,1270.0 L1751.2,1270.9 L1752.9,1271.8 L1754.6,1272.7 L1756.3,1273.6 L1758.0,1274.6 L1759.7,1275.5 L1761.4,1276.4 L1763.1,1277.4 L1764.8,1278.3 L1766.5,1279.2 L1768.2,1280.2 L1769.9,1281.1 L1771.7,1282.0 L1773.4,1283.0 L1775.1,1283.9 L1776.8,1284.9 L1778.5,1285.8 L1780.2,1286.8 L1781.9,1287.7 L1783.6,1288.6 L1785.3,1289.6 L1787.0,1290.5 L1788.7,1291.5 L1790.4,1292.4 L1792.1,1293.3 L1793.8,1294.3 L1795.5,1295.2 L1797.2,1296.1 L1798.9,1297.1 L1800.6,1298.0 L1802.4,1298.9 L1804.1,1299.8 L1805.8,1300.8 L1807.5,1301.7 L1809.2,1302.6 L1810.9,1303.5 L1812.6,1304.4 L1814.3,1305.3 L1816.0,1306.2 L1817.7,1307.1 L1819.4,1307.9 L1821.1,1308.8 L1822.8,1309.7 L1824.5,1310.5 L1826.2,1311.4 L1827.9,1312.2 L1829.6,1313.1 L1831.3,1313.9 L1833.1,1314.7 L1834.8,1315.6 L1836.5,1316.4 L1838.2,1317.2 L1839.9,1318.0 L1841.6,1318.8 L1843.3,1319.5 L1845.0,1320.3 L1846.7,1321.1 L1848.4,1321.8 L1850.1,1322.5 L1851.8,1323.3 L1853.5,1324.0 L1855.2,1324.7 L1856.9,1325.4 L1858.6,1326.1 L1860.3,1326.8 L1862.0,1327.4 L1863.8,1328.1 L1865.5,1328.7 L1867.2,1329.4 L1868.9,1330.0 L1870.6,1330.6 L1872.3,1331.2 L1874.0,1331.8 L1875.7,1332.4 L1877.4,1332.9 L1879.1,1333.5 L1880.8,1334.0 L1882.5,1334.5 L1884.2,1335.0 L1885.9,1335.5 L1887.6,1336.0 L1889.3,1336.5 L1891.0,1336.9 L1892.7,1337.4 L1894.5,1337.8 L1896.2,1338.2 L1897.9,1338.6 L1899.6,1339.0 L1901.3,1339.3 L1903.0,1339.7 L1904.7,1340.0 L1906.4,1340.4 L1908.1,1340.7 L1909.8,1341.0 L1911.5,1341.2 L1913.2,1341.5 L1914.9,1341.7 L1916.6,1342.0 L1918.3,1342.2 L1920.0,1342.4 L1921.7,1342.6 L1923.4,1342.7 L1925.2,1342.9 L1926.9,1343.0 L1928.6,1343.1 L1930.3,1343.2 L1932.0,1343.3 L1933.7,1343.4 L1935.4,1343.5 L1937.1,1343.5 L1938.8,1343.5 L1940.5,1343.5" fill="none" stroke="#ed1c24" stroke-width="12.1" stroke-linejoin="round"/>
<g font-family="'Liberation Serif', 'Times New Roman', serif" font-size="64" fill="#4b4c4e">
<text x="213.5" y="1152.3" text-anchor="end">0.4</text>
<text x="213.5" y="1228.0" text-anchor="end">0.2</text>
<text x="213.5" y="1303.7" text-anchor="end">0</text>
<text x="213.5" y="1379.4" text-anchor="end">-0.2</text>
<text x="236.0" y="1452.5" text-anchor="middle">0</text>
<text x="576.9" y="1452.5" text-anchor="middle">20</text>
<text x="917.8" y="1452.5" text-anchor="middle">40</text>
<text x="1258.7" y="1452.5" text-anchor="middle">60</text>
<text x="1599.6" y="1452.5" text-anchor="middle">80</text>
<text x="1939.9" y="1452.5" text-anchor="middle">100</text>
</g>
<text font-family="'Liberation Serif', 'Times New Roman', serif" fill="#4b4c4e"><tspan x="1038.7" y="1532.4" font-size="81.0" font-style="italic" textLength="25.7" lengthAdjust="spacingAndGlyphs">t</tspan><tspan x="1069.4" y="1541.6" font-family="'DejaVu Sans Light', 'DejaVu Sans', 'Liberation Sans', sans-serif" font-weight="200" font-size="88.0" font-style="normal" textLength="31.0" lengthAdjust="spacingAndGlyphs">/</tspan><tspan x="1103.7" y="1532.4" font-size="69.0" font-style="italic" textLength="30.8" lengthAdjust="spacingAndGlyphs">s</tspan></text>
<text transform="translate(70.9,1390.1) rotate(-90)" font-family="'Liberation Serif', 'Times New Roman', serif" fill="#4b4c4e"><tspan x="9.6" y="0.0" font-size="69.0" font-style="italic" textLength="33.0" lengthAdjust="spacingAndGlyphs">r</tspan><tspan x="46.1" y="8.8" font-family="'DejaVu Sans Light', 'DejaVu Sans', 'Liberation Sans', sans-serif" font-weight="200" font-size="88.0" font-style="normal" textLength="32.0" lengthAdjust="spacingAndGlyphs">/</tspan><tspan x="76.7" y="0.0" font-size="69.0" font-style="italic" textLength="66.2" lengthAdjust="spacingAndGlyphs">m</tspan><tspan x="149.7" y="10.0" font-size="88.0" font-style="normal" textLength="29.5" lengthAdjust="spacingAndGlyphs">·</tspan><tspan x="191.2" y="0.0" font-size="69.0" font-style="italic" textLength="30.6" lengthAdjust="spacingAndGlyphs">s</tspan><tspan x="222.1" y="-15.8" font-size="66.0" font-style="normal" textLength="36.0" lengthAdjust="spacingAndGlyphs">−</tspan><tspan x="258.3" y="-24.9" font-size="50.4" font-style="normal" textLength="24.7" lengthAdjust="spacingAndGlyphs">1</tspan></text>
</g>
<g id="legend">
<rect x="318.5" y="19.5" width="1524.2" height="90.4" fill="#fff" stroke="#4b4c4e" stroke-width="3.3"/>
<path d="M334,65.0 H492.4" stroke="#231f20" stroke-width="12.1" stroke-dasharray="32.5 30.2" fill="none"/>
<path d="M823,65.0 H981.4" stroke="#3953a4" stroke-width="12.1" stroke-dasharray="32 7.25 16.5 7.25" fill="none"/>
<path d="M1273,65.0 H1432.4" stroke="#ed1c24" stroke-width="12.1" fill="none"/>
<text y="80" font-family="'Liberation Serif', 'Times New Roman', serif" fill="#231f20"><tspan x="503.6" font-size="66.8" textLength="43.3" lengthAdjust="spacingAndGlyphs">T</tspan><tspan x="541.6" font-size="61.0" textLength="249.6" lengthAdjust="spacingAndGlyphs">rajectory</tspan></text>
<text x="992.6" y="80" font-family="'Liberation Serif', 'Times New Roman', serif" font-size="66.8" textLength="250.7" lengthAdjust="spacingAndGlyphs" fill="#231f20">TSM-TC</text>
<text x="1441.9" y="80" font-family="'Liberation Serif', 'Times New Roman', serif" font-size="66.8" textLength="386.0" lengthAdjust="spacingAndGlyphs" fill="#231f20">FTNTSM-TC</text>
</g>
</svg>
</body>
</html>
